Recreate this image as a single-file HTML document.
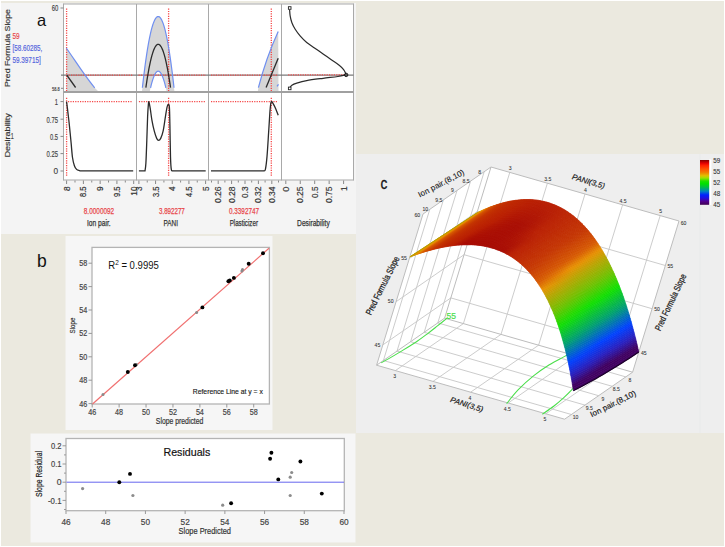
<!DOCTYPE html>
<html><head><meta charset="utf-8"><style>
html,body{margin:0;padding:0;background:#fff;width:725px;height:547px;overflow:hidden;}
svg{display:block;font-family:"Liberation Sans", sans-serif;}
</style></head><body>
<svg width="725" height="547" viewBox="0 0 725 547" font-family='"Liberation Sans", sans-serif'><rect x="0" y="0" width="725" height="547" fill="#ffffff"/>
<rect x="1" y="1" width="723" height="545" fill="#ebe9df"/>
<rect x="1" y="3" width="355" height="231" fill="#f4f4f4"/>
<rect x="356" y="154" width="368" height="279" fill="#eeeeee"/>
<rect x="65.5" y="236" width="207" height="194" fill="#f6f6f6"/>
<rect x="30.5" y="433.5" width="325" height="109" fill="#f6f6f6"/>
<rect x="63.5" y="4" width="290" height="176" fill="#ffffff"/>
<path d="M66.3,48 C74.9,60.1 84.2,75.3 94.7,87.8 L98.2,91.2 L66.5,91.2 Z" stroke="none" fill="#d6d6d6" stroke-width="1"/>
<path d="M142.01,91.20 L142.82,83.92 L143.63,77.01 L144.44,70.47 L145.25,64.31 L146.06,58.52 L146.87,53.10 L147.68,48.06 L148.49,43.39 L149.30,39.10 L150.11,35.18 L150.91,31.63 L151.72,28.45 L152.53,25.65 L153.34,23.22 L154.15,21.17 L154.96,19.49 L155.77,18.18 L156.58,17.25 L157.39,16.69 L158.20,16.50 L159.01,16.69 L159.82,17.25 L160.63,18.18 L161.44,19.49 L162.25,21.17 L163.06,23.22 L163.87,25.65 L164.68,28.45 L165.49,31.63 L166.29,35.18 L167.10,39.10 L167.91,43.39 L168.72,48.06 L169.53,53.10 L170.34,58.52 L171.15,64.31 L171.96,70.47 L172.77,77.01 L173.58,83.92 L174.39,91.20 Z M149.82,91.20 L150.24,89.25 L150.66,87.40 L151.08,85.65 L151.50,84.00 L151.92,82.45 L152.34,81.00 L152.75,79.65 L153.17,78.40 L153.59,77.25 L154.01,76.20 L154.43,75.25 L154.85,74.40 L155.27,73.65 L155.69,73.00 L156.11,72.45 L156.52,72.00 L156.94,71.65 L157.36,71.40 L157.78,71.25 L158.20,71.20 L158.62,71.25 L159.04,71.40 L159.46,71.65 L159.88,72.00 L160.29,72.45 L160.71,73.00 L161.13,73.65 L161.55,74.40 L161.97,75.25 L162.39,76.20 L162.81,77.25 L163.23,78.40 L163.65,79.65 L164.06,81.00 L164.48,82.45 L164.90,84.00 L165.32,85.65 L165.74,87.40 L166.16,89.25 L166.58,91.20 Z" stroke="none" fill="#d6d6d6" stroke-width="1" fill-rule="evenodd"/>
<path d="M257.8,91.5 L258.4,87.6 Q266,58 278.2,31.4 L278.5,91.5 Z" stroke="none" fill="#d6d6d6" stroke-width="1"/>
<line x1="63.50" y1="4.00" x2="353.50" y2="4.00" stroke="#a9a9a9" stroke-width="1"/>
<line x1="63.50" y1="3.50" x2="63.50" y2="180.50" stroke="#a9a9a9" stroke-width="1"/>
<line x1="353.50" y1="3.50" x2="353.50" y2="180.50" stroke="#a9a9a9" stroke-width="1"/>
<line x1="136.50" y1="4.00" x2="136.50" y2="180.50" stroke="#a9a9a9" stroke-width="1"/>
<line x1="208.50" y1="4.00" x2="208.50" y2="180.50" stroke="#a9a9a9" stroke-width="1"/>
<line x1="281.50" y1="4.00" x2="281.50" y2="180.50" stroke="#a9a9a9" stroke-width="1"/>
<line x1="63.50" y1="92.00" x2="353.50" y2="92.00" stroke="#a0a0a0" stroke-width="2"/>
<line x1="63.50" y1="180.00" x2="353.50" y2="180.00" stroke="#a9a9a9" stroke-width="1"/>
<line x1="61.00" y1="75.20" x2="353.50" y2="75.20" stroke="#7a7a7a" stroke-width="1.2"/>
<line x1="68.60" y1="75.20" x2="133.50" y2="75.20" stroke="#f54848" stroke-width="1.3" stroke-dasharray="1.2 1.2"/>
<line x1="138.50" y1="75.20" x2="206.00" y2="75.20" stroke="#f54848" stroke-width="1.3" stroke-dasharray="1.2 1.2"/>
<line x1="211.00" y1="75.20" x2="277.50" y2="75.20" stroke="#f54848" stroke-width="1.3" stroke-dasharray="1.2 1.2"/>
<line x1="288.20" y1="74.80" x2="344.50" y2="74.80" stroke="#f54848" stroke-width="1.3" stroke-dasharray="1.2 1.2"/>
<line x1="66.60" y1="8.50" x2="66.60" y2="91.00" stroke="#f54848" stroke-width="1.3" stroke-dasharray="1.2 1.2"/>
<line x1="168.60" y1="8.50" x2="168.60" y2="91.00" stroke="#f54848" stroke-width="1.3" stroke-dasharray="1.2 1.2"/>
<line x1="271.30" y1="8.50" x2="271.30" y2="91.00" stroke="#f54848" stroke-width="1.3" stroke-dasharray="1.2 1.2"/>
<path d="M66.3,48 C74.9,60.1 84.2,75.3 94.7,87.8" stroke="#6f8ff0" fill="none" stroke-width="1.2"/>
<line x1="66.80" y1="75.20" x2="75.60" y2="87.50" stroke="#2b2b2b" stroke-width="1.3"/>
<path d="M142.38,87.80 L143.17,80.85 L143.96,74.25 L144.76,68.01 L145.55,62.13 L146.34,56.61 L147.13,51.44 L147.92,46.62 L148.71,42.17 L149.50,38.07 L150.29,34.32 L151.08,30.94 L151.87,27.91 L152.66,25.23 L153.45,22.92 L154.25,20.96 L155.04,19.35 L155.83,18.10 L156.62,17.21 L157.41,16.68 L158.20,16.50 L158.99,16.68 L159.78,17.21 L160.57,18.10 L161.36,19.35 L162.15,20.96 L162.95,22.92 L163.74,25.23 L164.53,27.91 L165.32,30.94 L166.11,34.33 L166.90,38.07 L167.69,42.17 L168.48,46.62 L169.27,51.44 L170.06,56.61 L170.85,62.13 L171.64,68.01 L172.44,74.25 L173.23,80.85 L174.02,87.80" stroke="#6f8ff0" fill="none" stroke-width="1.2"/>
<path d="M150.57,87.80 L150.95,86.18 L151.33,84.65 L151.71,83.19 L152.09,81.82 L152.48,80.54 L152.86,79.33 L153.24,78.21 L153.62,77.18 L154.00,76.22 L154.38,75.35 L154.77,74.56 L155.15,73.86 L155.53,73.23 L155.91,72.69 L156.29,72.24 L156.67,71.86 L157.06,71.57 L157.44,71.37 L157.82,71.24 L158.20,71.20 L158.58,71.24 L158.96,71.37 L159.34,71.57 L159.73,71.86 L160.11,72.24 L160.49,72.69 L160.87,73.23 L161.25,73.86 L161.63,74.56 L162.02,75.35 L162.40,76.22 L162.78,77.18 L163.16,78.21 L163.54,79.33 L163.92,80.54 L164.31,81.82 L164.69,83.19 L165.07,84.65 L165.45,86.18 L165.83,87.80" stroke="#6f8ff0" fill="none" stroke-width="1.2"/>
<path d="M145.86,87.70 L146.48,83.47 L147.09,79.45 L147.71,75.66 L148.33,72.08 L148.94,68.71 L149.56,65.57 L150.18,62.64 L150.80,59.92 L151.41,57.43 L152.03,55.15 L152.65,53.09 L153.26,51.24 L153.88,49.62 L154.50,48.21 L155.11,47.01 L155.73,46.04 L156.35,45.28 L156.97,44.73 L157.58,44.41 L158.20,44.30 L158.82,44.41 L159.43,44.73 L160.05,45.28 L160.67,46.04 L161.29,47.01 L161.90,48.21 L162.52,49.62 L163.14,51.24 L163.75,53.09 L164.37,55.15 L164.99,57.43 L165.60,59.92 L166.22,62.64 L166.84,65.57 L167.46,68.71 L168.07,72.08 L168.69,75.66 L169.31,79.45 L169.92,83.47 L170.54,87.70" stroke="#2b2b2b" fill="none" stroke-width="1.3"/>
<path d="M258.4,87.6 Q266,58 278.2,31.4" stroke="#6f8ff0" fill="none" stroke-width="1.2"/>
<path d="M277,86.3 L278.5,84.4" stroke="#6f8ff0" fill="none" stroke-width="1.2"/>
<line x1="266.10" y1="87.60" x2="278.20" y2="58.20" stroke="#2b2b2b" stroke-width="1.3"/>
<path d="M289.60,9.60 C289.70,10.70 289.82,14.02 290.20,16.20 C290.58,18.38 291.07,20.52 291.90,22.70 C292.73,24.88 293.83,27.10 295.20,29.30 C296.57,31.50 298.18,33.70 300.10,35.90 C302.02,38.10 304.23,40.45 306.70,42.50 C309.17,44.55 312.17,46.28 314.90,48.20 C317.63,50.12 320.37,52.08 323.10,54.00 C325.83,55.92 328.57,57.78 331.30,59.70 C334.03,61.62 337.45,63.85 339.50,65.50 C341.55,67.15 342.55,68.23 343.60,69.60 C344.65,70.97 345.38,72.83 345.80,73.70 C346.22,74.57 346.05,74.62 346.10,74.80" stroke="#2b2b2b" fill="none" stroke-width="1.2"/>
<path d="M346.10,74.80 C344.73,75.08 341.73,75.92 337.90,76.50 C334.07,77.08 328.30,77.62 323.10,78.30 C317.90,78.98 311.08,79.80 306.70,80.60 C302.32,81.40 299.27,82.33 296.80,83.10 C294.33,83.87 293.10,84.38 291.90,85.20 C290.70,86.02 289.98,87.53 289.60,88.00" stroke="#2b2b2b" fill="none" stroke-width="1.2"/>
<rect x="288.4" y="6.7" width="2.6" height="2.6" fill="#fff" stroke="#222" stroke-width="0.9"/>
<rect x="288.4" y="87.1" width="2.6" height="2.6" fill="#fff" stroke="#222" stroke-width="0.9"/>
<circle cx="346.2" cy="74.9" r="1.7" fill="#555" stroke="#111" stroke-width="0.9"/>
<line x1="68.00" y1="101.60" x2="132.50" y2="101.60" stroke="#f54848" stroke-width="1.3" stroke-dasharray="1.2 1.2"/>
<line x1="138.90" y1="101.70" x2="205.50" y2="101.70" stroke="#f54848" stroke-width="1.3" stroke-dasharray="1.2 1.2"/>
<line x1="211.00" y1="101.70" x2="277.40" y2="101.70" stroke="#f54848" stroke-width="1.3" stroke-dasharray="1.2 1.2"/>
<line x1="66.60" y1="97.80" x2="66.60" y2="177.00" stroke="#f54848" stroke-width="1.3" stroke-dasharray="1.2 1.2"/>
<line x1="168.60" y1="97.80" x2="168.60" y2="177.00" stroke="#f54848" stroke-width="1.3" stroke-dasharray="1.2 1.2"/>
<line x1="271.30" y1="97.80" x2="271.30" y2="177.00" stroke="#f54848" stroke-width="1.3" stroke-dasharray="1.2 1.2"/>
<path d="M66.50,101.70 C66.65,102.77 66.93,104.28 67.40,108.10 C67.87,111.92 68.68,118.82 69.30,124.60 C69.92,130.38 70.57,137.32 71.10,142.80 C71.63,148.28 71.95,153.68 72.50,157.50 C73.05,161.32 73.72,163.72 74.40,165.70 C75.08,167.68 75.78,168.58 76.60,169.40 C77.42,170.22 78.40,170.35 79.30,170.60 C80.20,170.85 81.55,170.85 82.00,170.90 L133.2,170.9" stroke="#2b2b2b" fill="none" stroke-width="1.3"/>
<path d="M138.9,170.9 L145,170.9 C145.15,169.58 145.60,168.03 145.90,163.00 C146.20,157.97 146.52,148.38 146.80,140.70 C147.08,133.02 147.33,123.00 147.60,116.90 C147.87,110.80 148.17,106.55 148.40,104.10 C148.63,101.65 148.68,101.40 149.00,102.20 C149.32,103.00 149.82,105.92 150.30,108.90 C150.78,111.88 151.23,116.38 151.90,120.10 C152.57,123.82 153.50,128.15 154.30,131.20 C155.10,134.25 155.98,136.88 156.70,138.40 C157.42,139.92 157.93,140.30 158.60,140.30 C159.27,140.30 159.95,139.92 160.70,138.40 C161.45,136.88 162.32,134.78 163.10,131.20 C163.88,127.62 164.75,120.88 165.40,116.90 C166.05,112.92 166.52,109.37 167.00,107.30 C167.48,105.23 167.90,104.50 168.30,104.50 C168.70,104.50 169.13,103.92 169.40,107.30 C169.67,110.68 169.72,116.57 169.90,124.80 C170.08,133.03 170.27,149.27 170.50,156.70 C170.73,164.13 170.90,167.03 171.30,169.40 C171.70,171.77 172.63,170.65 172.90,170.90 L205.7,170.9" stroke="#2b2b2b" fill="none" stroke-width="1.3"/>
<path d="M211,170.9 L263.9,170.9 C264.15,170.63 264.88,171.68 265.40,169.30 C265.92,166.92 266.47,162.68 267.00,156.60 C267.53,150.52 268.12,140.22 268.60,132.80 C269.08,125.38 269.55,116.88 269.90,112.10 C270.25,107.32 270.43,105.90 270.70,104.10 C270.97,102.30 271.05,101.30 271.50,101.30 C271.95,101.30 272.68,102.83 273.40,104.10 C274.12,105.37 275.00,107.03 275.80,108.90 C276.60,110.77 277.80,114.23 278.20,115.30" stroke="#2b2b2b" fill="none" stroke-width="1.3"/>
<line x1="60.50" y1="8.00" x2="63.50" y2="8.00" stroke="#888" stroke-width="1"/>
<text x="58.40" y="11.40" font-size="8.8" fill="#444" stroke="#444" stroke-width="0.18" text-anchor="end" textLength="6.6" lengthAdjust="spacingAndGlyphs">60</text>
<line x1="61.00" y1="88.30" x2="63.50" y2="88.30" stroke="#888" stroke-width="1"/>
<text x="59.60" y="90.60" font-size="5.2" fill="#444" stroke="#444" stroke-width="0.18" text-anchor="end" textLength="7.6" lengthAdjust="spacingAndGlyphs">58.8</text>
<line x1="60.50" y1="101.60" x2="63.50" y2="101.60" stroke="#888" stroke-width="1"/>
<text x="58.00" y="105.00" font-size="9.2" fill="#444" stroke="#444" stroke-width="0.18" text-anchor="end" textLength="3.2" lengthAdjust="spacingAndGlyphs">1</text>
<line x1="60.50" y1="119.20" x2="63.50" y2="119.20" stroke="#888" stroke-width="1"/>
<text x="58.00" y="122.60" font-size="9.2" fill="#444" stroke="#444" stroke-width="0.18" text-anchor="end" textLength="11.5" lengthAdjust="spacingAndGlyphs">0.75</text>
<line x1="60.50" y1="136.40" x2="63.50" y2="136.40" stroke="#888" stroke-width="1"/>
<text x="58.00" y="139.80" font-size="9.2" fill="#444" stroke="#444" stroke-width="0.18" text-anchor="end" textLength="8" lengthAdjust="spacingAndGlyphs">0.5</text>
<line x1="60.50" y1="153.60" x2="63.50" y2="153.60" stroke="#888" stroke-width="1"/>
<text x="58.00" y="157.00" font-size="9.2" fill="#444" stroke="#444" stroke-width="0.18" text-anchor="end" textLength="11.5" lengthAdjust="spacingAndGlyphs">0.25</text>
<line x1="60.50" y1="171.00" x2="63.50" y2="171.00" stroke="#888" stroke-width="1"/>
<text x="58.00" y="174.40" font-size="9.2" fill="#444" stroke="#444" stroke-width="0.18" text-anchor="end" textLength="4.6" lengthAdjust="spacingAndGlyphs">0</text>
<text x="9.90" y="87.00" font-size="7.5" fill="#333" stroke="#333" stroke-width="0.15" textLength="78" lengthAdjust="spacingAndGlyphs" transform="rotate(-90 9.90 87.00)">Pred Formula Slope</text>
<text x="9.90" y="157.60" font-size="7.5" fill="#333" stroke="#333" stroke-width="0.15" textLength="44.4" lengthAdjust="spacingAndGlyphs" transform="rotate(-90 9.90 157.60)">Desirability</text>
<text x="37.00" y="26.00" font-size="16.5" fill="#111">a</text>
<text x="12.40" y="39.20" font-size="8.6" fill="#e8474b" stroke="#e8474b" stroke-width="0.18" textLength="7.2" lengthAdjust="spacingAndGlyphs">59</text>
<text x="12.40" y="51.20" font-size="8.6" fill="#5566dd" stroke="#5566dd" stroke-width="0.18" textLength="29.8" lengthAdjust="spacingAndGlyphs">[58.60285,</text>
<text x="12.40" y="62.80" font-size="8.6" fill="#5566dd" stroke="#5566dd" stroke-width="0.18" textLength="28.4" lengthAdjust="spacingAndGlyphs">59.39715]</text>
<text x="10.80" y="139.40" font-size="8.6" fill="#444" stroke="#444" stroke-width="0.18" textLength="3" lengthAdjust="spacingAndGlyphs">1</text>
<line x1="66.60" y1="180.50" x2="66.60" y2="184.00" stroke="#888" stroke-width="1"/>
<line x1="83.38" y1="180.50" x2="83.38" y2="184.00" stroke="#888" stroke-width="1"/>
<line x1="100.15" y1="180.50" x2="100.15" y2="184.00" stroke="#888" stroke-width="1"/>
<line x1="116.92" y1="180.50" x2="116.92" y2="184.00" stroke="#888" stroke-width="1"/>
<line x1="133.70" y1="180.50" x2="133.70" y2="184.00" stroke="#888" stroke-width="1"/>
<line x1="74.99" y1="180.50" x2="74.99" y2="182.50" stroke="#888" stroke-width="1"/>
<line x1="91.76" y1="180.50" x2="91.76" y2="182.50" stroke="#888" stroke-width="1"/>
<line x1="108.54" y1="180.50" x2="108.54" y2="182.50" stroke="#888" stroke-width="1"/>
<line x1="125.31" y1="180.50" x2="125.31" y2="182.50" stroke="#888" stroke-width="1"/>
<line x1="138.90" y1="180.50" x2="138.90" y2="184.00" stroke="#888" stroke-width="1"/>
<line x1="155.57" y1="180.50" x2="155.57" y2="184.00" stroke="#888" stroke-width="1"/>
<line x1="172.25" y1="180.50" x2="172.25" y2="184.00" stroke="#888" stroke-width="1"/>
<line x1="188.93" y1="180.50" x2="188.93" y2="184.00" stroke="#888" stroke-width="1"/>
<line x1="205.60" y1="180.50" x2="205.60" y2="184.00" stroke="#888" stroke-width="1"/>
<line x1="147.24" y1="180.50" x2="147.24" y2="182.50" stroke="#888" stroke-width="1"/>
<line x1="163.91" y1="180.50" x2="163.91" y2="182.50" stroke="#888" stroke-width="1"/>
<line x1="180.59" y1="180.50" x2="180.59" y2="182.50" stroke="#888" stroke-width="1"/>
<line x1="197.26" y1="180.50" x2="197.26" y2="182.50" stroke="#888" stroke-width="1"/>
<line x1="218.20" y1="180.50" x2="218.20" y2="184.00" stroke="#888" stroke-width="1"/>
<line x1="231.60" y1="180.50" x2="231.60" y2="184.00" stroke="#888" stroke-width="1"/>
<line x1="245.00" y1="180.50" x2="245.00" y2="184.00" stroke="#888" stroke-width="1"/>
<line x1="258.40" y1="180.50" x2="258.40" y2="184.00" stroke="#888" stroke-width="1"/>
<line x1="271.80" y1="180.50" x2="271.80" y2="184.00" stroke="#888" stroke-width="1"/>
<line x1="224.90" y1="180.50" x2="224.90" y2="182.50" stroke="#888" stroke-width="1"/>
<line x1="238.30" y1="180.50" x2="238.30" y2="182.50" stroke="#888" stroke-width="1"/>
<line x1="251.70" y1="180.50" x2="251.70" y2="182.50" stroke="#888" stroke-width="1"/>
<line x1="265.10" y1="180.50" x2="265.10" y2="182.50" stroke="#888" stroke-width="1"/>
<line x1="211.50" y1="180.50" x2="211.50" y2="182.50" stroke="#888" stroke-width="1"/>
<line x1="278.50" y1="180.50" x2="278.50" y2="182.50" stroke="#888" stroke-width="1"/>
<line x1="285.80" y1="180.50" x2="285.80" y2="184.00" stroke="#888" stroke-width="1"/>
<line x1="300.25" y1="180.50" x2="300.25" y2="184.00" stroke="#888" stroke-width="1"/>
<line x1="314.70" y1="180.50" x2="314.70" y2="184.00" stroke="#888" stroke-width="1"/>
<line x1="329.15" y1="180.50" x2="329.15" y2="184.00" stroke="#888" stroke-width="1"/>
<line x1="343.60" y1="180.50" x2="343.60" y2="184.00" stroke="#888" stroke-width="1"/>
<text x="69.60" y="186.50" font-size="8.4" fill="#333" stroke="#333" stroke-width="0.18" text-anchor="end" textLength="4.6" lengthAdjust="spacingAndGlyphs" transform="rotate(-90 69.60 186.50)">8</text>
<text x="86.38" y="186.50" font-size="8.4" fill="#333" stroke="#333" stroke-width="0.18" text-anchor="end" textLength="10.5" lengthAdjust="spacingAndGlyphs" transform="rotate(-90 86.38 186.50)">8.5</text>
<text x="103.15" y="186.50" font-size="8.4" fill="#333" stroke="#333" stroke-width="0.18" text-anchor="end" textLength="4.6" lengthAdjust="spacingAndGlyphs" transform="rotate(-90 103.15 186.50)">9</text>
<text x="119.92" y="186.50" font-size="8.4" fill="#333" stroke="#333" stroke-width="0.18" text-anchor="end" textLength="10.5" lengthAdjust="spacingAndGlyphs" transform="rotate(-90 119.92 186.50)">9.5</text>
<text x="136.70" y="186.50" font-size="8.4" fill="#333" stroke="#333" stroke-width="0.18" text-anchor="end" textLength="9.2" lengthAdjust="spacingAndGlyphs" transform="rotate(-90 136.70 186.50)">10</text>
<text x="141.90" y="186.50" font-size="8.4" fill="#333" stroke="#333" stroke-width="0.18" text-anchor="end" textLength="4.6" lengthAdjust="spacingAndGlyphs" transform="rotate(-90 141.90 186.50)">3</text>
<text x="158.57" y="186.50" font-size="8.4" fill="#333" stroke="#333" stroke-width="0.18" text-anchor="end" textLength="10.5" lengthAdjust="spacingAndGlyphs" transform="rotate(-90 158.57 186.50)">3.5</text>
<text x="175.25" y="186.50" font-size="8.4" fill="#333" stroke="#333" stroke-width="0.18" text-anchor="end" textLength="4.6" lengthAdjust="spacingAndGlyphs" transform="rotate(-90 175.25 186.50)">4</text>
<text x="191.93" y="186.50" font-size="8.4" fill="#333" stroke="#333" stroke-width="0.18" text-anchor="end" textLength="10.5" lengthAdjust="spacingAndGlyphs" transform="rotate(-90 191.93 186.50)">4.5</text>
<text x="208.60" y="186.50" font-size="8.4" fill="#333" stroke="#333" stroke-width="0.18" text-anchor="end" textLength="4.6" lengthAdjust="spacingAndGlyphs" transform="rotate(-90 208.60 186.50)">5</text>
<text x="221.20" y="186.50" font-size="8.8" fill="#333" stroke="#333" stroke-width="0.18" text-anchor="end" textLength="16.5" lengthAdjust="spacingAndGlyphs" transform="rotate(-90 221.20 186.50)">0.26</text>
<text x="234.60" y="186.50" font-size="8.8" fill="#333" stroke="#333" stroke-width="0.18" text-anchor="end" textLength="16.5" lengthAdjust="spacingAndGlyphs" transform="rotate(-90 234.60 186.50)">0.28</text>
<text x="248.00" y="186.50" font-size="8.8" fill="#333" stroke="#333" stroke-width="0.18" text-anchor="end" textLength="11.5" lengthAdjust="spacingAndGlyphs" transform="rotate(-90 248.00 186.50)">0.3</text>
<text x="261.40" y="186.50" font-size="8.8" fill="#333" stroke="#333" stroke-width="0.18" text-anchor="end" textLength="16.5" lengthAdjust="spacingAndGlyphs" transform="rotate(-90 261.40 186.50)">0.32</text>
<text x="274.80" y="186.50" font-size="8.8" fill="#333" stroke="#333" stroke-width="0.18" text-anchor="end" textLength="16.5" lengthAdjust="spacingAndGlyphs" transform="rotate(-90 274.80 186.50)">0.34</text>
<text x="288.80" y="186.50" font-size="8.8" fill="#333" stroke="#333" stroke-width="0.18" text-anchor="end" textLength="5.2" lengthAdjust="spacingAndGlyphs" transform="rotate(-90 288.80 186.50)">0</text>
<text x="303.25" y="186.50" font-size="8.8" fill="#333" stroke="#333" stroke-width="0.18" text-anchor="end" textLength="16.5" lengthAdjust="spacingAndGlyphs" transform="rotate(-90 303.25 186.50)">0.25</text>
<text x="317.70" y="186.50" font-size="8.8" fill="#333" stroke="#333" stroke-width="0.18" text-anchor="end" textLength="11.5" lengthAdjust="spacingAndGlyphs" transform="rotate(-90 317.70 186.50)">0.5</text>
<text x="332.15" y="186.50" font-size="8.8" fill="#333" stroke="#333" stroke-width="0.18" text-anchor="end" textLength="16.5" lengthAdjust="spacingAndGlyphs" transform="rotate(-90 332.15 186.50)">0.75</text>
<text x="346.60" y="186.50" font-size="8.8" fill="#333" stroke="#333" stroke-width="0.18" text-anchor="end" textLength="4.6" lengthAdjust="spacingAndGlyphs" transform="rotate(-90 346.60 186.50)">1</text>
<text x="99.00" y="214.20" font-size="9.4" fill="#e8474b" stroke="#e8474b" stroke-width="0.25" text-anchor="middle" textLength="30.4" lengthAdjust="spacingAndGlyphs">8.0000092</text>
<text x="171.90" y="214.20" font-size="9.4" fill="#e8474b" stroke="#e8474b" stroke-width="0.25" text-anchor="middle" textLength="25.8" lengthAdjust="spacingAndGlyphs">3.892277</text>
<text x="244.00" y="214.20" font-size="9.4" fill="#e8474b" stroke="#e8474b" stroke-width="0.25" text-anchor="middle" textLength="30" lengthAdjust="spacingAndGlyphs">0.3392747</text>
<text x="98.80" y="226.40" font-size="9.4" fill="#333" stroke="#333" stroke-width="0.25" text-anchor="middle" textLength="23.8" lengthAdjust="spacingAndGlyphs">Ion pair.</text>
<text x="170.70" y="226.40" font-size="9.4" fill="#333" stroke="#333" stroke-width="0.25" text-anchor="middle" textLength="14.5" lengthAdjust="spacingAndGlyphs">PANI</text>
<text x="243.80" y="226.40" font-size="9.4" fill="#333" stroke="#333" stroke-width="0.25" text-anchor="middle" textLength="28.3" lengthAdjust="spacingAndGlyphs">Plasticizer</text>
<text x="313.40" y="226.40" font-size="9.4" fill="#333" stroke="#333" stroke-width="0.25" text-anchor="middle" textLength="32.7" lengthAdjust="spacingAndGlyphs">Desirability</text>
<text x="37.00" y="267.00" font-size="17.5" fill="#111">b</text>
<rect x="92" y="247.4" width="177.4" height="156.6" fill="#ffffff"/>
<rect x="92" y="247.4" width="177.4" height="156.6" fill="none" stroke="#b4b4b4" stroke-width="1.3"/>
<line x1="88.50" y1="403.60" x2="92.00" y2="403.60" stroke="#999" stroke-width="1"/>
<text x="87.30" y="406.50" font-size="8.2" fill="#444" stroke="#444" stroke-width="0.18" text-anchor="end" textLength="8" lengthAdjust="spacingAndGlyphs">46</text>
<line x1="92.20" y1="404.00" x2="92.20" y2="407.50" stroke="#999" stroke-width="1"/>
<text x="92.20" y="414.80" font-size="8.2" fill="#444" stroke="#444" stroke-width="0.18" text-anchor="middle" textLength="8" lengthAdjust="spacingAndGlyphs">46</text>
<line x1="88.50" y1="380.20" x2="92.00" y2="380.20" stroke="#999" stroke-width="1"/>
<text x="87.30" y="383.10" font-size="8.2" fill="#444" stroke="#444" stroke-width="0.18" text-anchor="end" textLength="8" lengthAdjust="spacingAndGlyphs">48</text>
<line x1="119.12" y1="404.00" x2="119.12" y2="407.50" stroke="#999" stroke-width="1"/>
<text x="119.12" y="414.80" font-size="8.2" fill="#444" stroke="#444" stroke-width="0.18" text-anchor="middle" textLength="8" lengthAdjust="spacingAndGlyphs">48</text>
<line x1="88.50" y1="356.80" x2="92.00" y2="356.80" stroke="#999" stroke-width="1"/>
<text x="87.30" y="359.70" font-size="8.2" fill="#444" stroke="#444" stroke-width="0.18" text-anchor="end" textLength="8" lengthAdjust="spacingAndGlyphs">50</text>
<line x1="146.04" y1="404.00" x2="146.04" y2="407.50" stroke="#999" stroke-width="1"/>
<text x="146.04" y="414.80" font-size="8.2" fill="#444" stroke="#444" stroke-width="0.18" text-anchor="middle" textLength="8" lengthAdjust="spacingAndGlyphs">50</text>
<line x1="88.50" y1="333.40" x2="92.00" y2="333.40" stroke="#999" stroke-width="1"/>
<text x="87.30" y="336.30" font-size="8.2" fill="#444" stroke="#444" stroke-width="0.18" text-anchor="end" textLength="8" lengthAdjust="spacingAndGlyphs">52</text>
<line x1="172.96" y1="404.00" x2="172.96" y2="407.50" stroke="#999" stroke-width="1"/>
<text x="172.96" y="414.80" font-size="8.2" fill="#444" stroke="#444" stroke-width="0.18" text-anchor="middle" textLength="8" lengthAdjust="spacingAndGlyphs">52</text>
<line x1="88.50" y1="310.00" x2="92.00" y2="310.00" stroke="#999" stroke-width="1"/>
<text x="87.30" y="312.90" font-size="8.2" fill="#444" stroke="#444" stroke-width="0.18" text-anchor="end" textLength="8" lengthAdjust="spacingAndGlyphs">54</text>
<line x1="199.88" y1="404.00" x2="199.88" y2="407.50" stroke="#999" stroke-width="1"/>
<text x="199.88" y="414.80" font-size="8.2" fill="#444" stroke="#444" stroke-width="0.18" text-anchor="middle" textLength="8" lengthAdjust="spacingAndGlyphs">54</text>
<line x1="88.50" y1="286.60" x2="92.00" y2="286.60" stroke="#999" stroke-width="1"/>
<text x="87.30" y="289.50" font-size="8.2" fill="#444" stroke="#444" stroke-width="0.18" text-anchor="end" textLength="8" lengthAdjust="spacingAndGlyphs">56</text>
<line x1="226.80" y1="404.00" x2="226.80" y2="407.50" stroke="#999" stroke-width="1"/>
<text x="226.80" y="414.80" font-size="8.2" fill="#444" stroke="#444" stroke-width="0.18" text-anchor="middle" textLength="8" lengthAdjust="spacingAndGlyphs">56</text>
<line x1="88.50" y1="263.20" x2="92.00" y2="263.20" stroke="#999" stroke-width="1"/>
<text x="87.30" y="266.10" font-size="8.2" fill="#444" stroke="#444" stroke-width="0.18" text-anchor="end" textLength="8" lengthAdjust="spacingAndGlyphs">58</text>
<line x1="253.72" y1="404.00" x2="253.72" y2="407.50" stroke="#999" stroke-width="1"/>
<text x="253.72" y="414.80" font-size="8.2" fill="#444" stroke="#444" stroke-width="0.18" text-anchor="middle" textLength="8" lengthAdjust="spacingAndGlyphs">58</text>
<line x1="92.50" y1="404.00" x2="269.00" y2="248.20" stroke="#f07070" stroke-width="1.2"/>
<circle cx="103.0" cy="394.4" r="1.5" fill="#8a8a8a"/>
<circle cx="136.6" cy="364.6" r="1.5" fill="#8a8a8a"/>
<circle cx="196.6" cy="312.4" r="1.5" fill="#8a8a8a"/>
<circle cx="241.9" cy="270.9" r="1.5" fill="#8a8a8a"/>
<circle cx="242.5" cy="269.6" r="1.5" fill="#8a8a8a"/>
<circle cx="127.8" cy="372.0" r="1.95" fill="#000"/>
<circle cx="135.0" cy="365.3" r="1.95" fill="#000"/>
<circle cx="202.4" cy="307.4" r="1.95" fill="#000"/>
<circle cx="228.4" cy="281.3" r="1.95" fill="#000"/>
<circle cx="229.8" cy="280.4" r="1.95" fill="#000"/>
<circle cx="233.9" cy="277.9" r="1.95" fill="#000"/>
<circle cx="248.7" cy="263.8" r="1.95" fill="#000"/>
<circle cx="263.0" cy="253.2" r="1.95" fill="#000"/>
<text x="108.3" y="268.6" font-size="11.2" fill="#111" textLength="50.5" lengthAdjust="spacingAndGlyphs">R<tspan dy="-4" font-size="7.5">2</tspan><tspan dy="4"> = 0.9995</tspan></text>
<text x="227.80" y="394.20" font-size="7.6" fill="#222" stroke="#222" stroke-width="0.18" text-anchor="middle" textLength="70" lengthAdjust="spacingAndGlyphs">Reference Line at y = x</text>
<text x="179.60" y="423.50" font-size="8.2" fill="#333" stroke="#333" stroke-width="0.18" text-anchor="middle" textLength="47.5" lengthAdjust="spacingAndGlyphs">Slope predicted</text>
<text x="74.60" y="333.40" font-size="8.0" fill="#333" stroke="#333" stroke-width="0.18" textLength="15.7" lengthAdjust="spacingAndGlyphs" transform="rotate(-90 74.60 333.40)">Slope</text>
<rect x="66" y="438.5" width="278.3" height="72.2" fill="#ffffff"/>
<rect x="66" y="438.5" width="278.3" height="72.2" fill="none" stroke="#b4b4b4" stroke-width="1.3"/>
<line x1="62.50" y1="445.80" x2="66.00" y2="445.80" stroke="#999" stroke-width="1"/>
<text x="61.50" y="448.90" font-size="8.6" fill="#444" stroke="#444" stroke-width="0.18" text-anchor="end" textLength="10.5" lengthAdjust="spacingAndGlyphs">0.2</text>
<line x1="62.50" y1="464.00" x2="66.00" y2="464.00" stroke="#999" stroke-width="1"/>
<text x="61.50" y="467.10" font-size="8.6" fill="#444" stroke="#444" stroke-width="0.18" text-anchor="end" textLength="10.5" lengthAdjust="spacingAndGlyphs">0.1</text>
<line x1="62.50" y1="482.20" x2="66.00" y2="482.20" stroke="#999" stroke-width="1"/>
<text x="61.50" y="485.30" font-size="8.6" fill="#444" stroke="#444" stroke-width="0.18" text-anchor="end" textLength="4.8" lengthAdjust="spacingAndGlyphs">0</text>
<line x1="62.50" y1="500.40" x2="66.00" y2="500.40" stroke="#999" stroke-width="1"/>
<text x="61.50" y="503.50" font-size="8.6" fill="#444" stroke="#444" stroke-width="0.18" text-anchor="end" textLength="13.5" lengthAdjust="spacingAndGlyphs">-0.1</text>
<line x1="64.00" y1="454.90" x2="66.00" y2="454.90" stroke="#999" stroke-width="1"/>
<line x1="64.00" y1="473.10" x2="66.00" y2="473.10" stroke="#999" stroke-width="1"/>
<line x1="64.00" y1="491.30" x2="66.00" y2="491.30" stroke="#999" stroke-width="1"/>
<line x1="64.00" y1="509.50" x2="66.00" y2="509.50" stroke="#999" stroke-width="1"/>
<line x1="66.00" y1="510.70" x2="66.00" y2="514.00" stroke="#999" stroke-width="1"/>
<text x="66.00" y="524.80" font-size="8.6" fill="#444" stroke="#444" stroke-width="0.18" text-anchor="middle" textLength="9.2" lengthAdjust="spacingAndGlyphs">46</text>
<line x1="105.71" y1="510.70" x2="105.71" y2="514.00" stroke="#999" stroke-width="1"/>
<text x="105.71" y="524.80" font-size="8.6" fill="#444" stroke="#444" stroke-width="0.18" text-anchor="middle" textLength="9.2" lengthAdjust="spacingAndGlyphs">48</text>
<line x1="145.43" y1="510.70" x2="145.43" y2="514.00" stroke="#999" stroke-width="1"/>
<text x="145.43" y="524.80" font-size="8.6" fill="#444" stroke="#444" stroke-width="0.18" text-anchor="middle" textLength="9.2" lengthAdjust="spacingAndGlyphs">50</text>
<line x1="185.14" y1="510.70" x2="185.14" y2="514.00" stroke="#999" stroke-width="1"/>
<text x="185.14" y="524.80" font-size="8.6" fill="#444" stroke="#444" stroke-width="0.18" text-anchor="middle" textLength="9.2" lengthAdjust="spacingAndGlyphs">52</text>
<line x1="224.86" y1="510.70" x2="224.86" y2="514.00" stroke="#999" stroke-width="1"/>
<text x="224.86" y="524.80" font-size="8.6" fill="#444" stroke="#444" stroke-width="0.18" text-anchor="middle" textLength="9.2" lengthAdjust="spacingAndGlyphs">54</text>
<line x1="264.57" y1="510.70" x2="264.57" y2="514.00" stroke="#999" stroke-width="1"/>
<text x="264.57" y="524.80" font-size="8.6" fill="#444" stroke="#444" stroke-width="0.18" text-anchor="middle" textLength="9.2" lengthAdjust="spacingAndGlyphs">56</text>
<line x1="304.28" y1="510.70" x2="304.28" y2="514.00" stroke="#999" stroke-width="1"/>
<text x="304.28" y="524.80" font-size="8.6" fill="#444" stroke="#444" stroke-width="0.18" text-anchor="middle" textLength="9.2" lengthAdjust="spacingAndGlyphs">58</text>
<line x1="344.00" y1="510.70" x2="344.00" y2="514.00" stroke="#999" stroke-width="1"/>
<text x="344.00" y="524.80" font-size="8.6" fill="#444" stroke="#444" stroke-width="0.18" text-anchor="middle" textLength="9.2" lengthAdjust="spacingAndGlyphs">60</text>
<line x1="66.50" y1="482.20" x2="344.00" y2="482.20" stroke="#6666ee" stroke-width="1.0"/>
<circle cx="82.6" cy="488.6" r="1.6" fill="#8c8c8c"/>
<circle cx="132.9" cy="495.5" r="1.6" fill="#8c8c8c"/>
<circle cx="222.7" cy="505.2" r="1.6" fill="#8c8c8c"/>
<circle cx="291.7" cy="472.5" r="1.6" fill="#8c8c8c"/>
<circle cx="290.2" cy="477.2" r="1.6" fill="#8c8c8c"/>
<circle cx="290.2" cy="495.5" r="1.6" fill="#8c8c8c"/>
<circle cx="119.3" cy="482.2" r="1.95" fill="#000"/>
<circle cx="130.0" cy="473.9" r="1.95" fill="#000"/>
<circle cx="231.1" cy="503.2" r="1.95" fill="#000"/>
<circle cx="270.1" cy="458.8" r="1.95" fill="#000"/>
<circle cx="271.4" cy="452.8" r="1.95" fill="#000"/>
<circle cx="278.3" cy="479.4" r="1.95" fill="#000"/>
<circle cx="300.4" cy="461.5" r="1.95" fill="#000"/>
<circle cx="321.8" cy="493.6" r="1.95" fill="#000"/>
<text x="163.50" y="455.60" font-size="11.2" fill="#111" stroke="#111" stroke-width="0.18" textLength="46.8" lengthAdjust="spacingAndGlyphs">Residuals</text>
<text x="204.80" y="534.00" font-size="8.6" fill="#333" stroke="#333" stroke-width="0.18" text-anchor="middle" textLength="52.4" lengthAdjust="spacingAndGlyphs">Slope Predicted</text>
<text x="42.40" y="497.00" font-size="8.2" fill="#222" stroke="#222" stroke-width="0.18" textLength="46" lengthAdjust="spacingAndGlyphs" transform="rotate(-90 42.40 497.00)">Slope Residual</text>
<line x1="700.00" y1="154.00" x2="700.00" y2="433.00" stroke="#e8eaea" stroke-width="1"/>
<polygon points="444.60,318.20 376.60,365.20 423.00,214.00 491.00,167.00" fill="#ffffff"/>
<polygon points="444.60,318.20 632.60,372.20 679.00,221.00 491.00,167.00" fill="#ffffff"/>
<polygon points="444.60,318.20 632.60,372.20 564.60,419.20 376.60,365.20" fill="#ffffff"/>
<line x1="437.80" y1="322.90" x2="484.20" y2="171.70" stroke="#c6c6c6" stroke-width="0.9"/>
<line x1="424.20" y1="332.30" x2="470.60" y2="181.10" stroke="#c6c6c6" stroke-width="0.9"/>
<line x1="410.60" y1="341.70" x2="457.00" y2="190.50" stroke="#c6c6c6" stroke-width="0.9"/>
<line x1="397.00" y1="351.10" x2="443.40" y2="199.90" stroke="#c6c6c6" stroke-width="0.9"/>
<line x1="383.40" y1="360.50" x2="429.80" y2="209.30" stroke="#c6c6c6" stroke-width="0.9"/>
<line x1="450.83" y1="297.90" x2="382.83" y2="344.90" stroke="#c6c6c6" stroke-width="0.9"/>
<line x1="464.09" y1="254.70" x2="396.09" y2="301.70" stroke="#c6c6c6" stroke-width="0.9"/>
<line x1="477.35" y1="211.50" x2="409.35" y2="258.50" stroke="#c6c6c6" stroke-width="0.9"/>
<line x1="463.40" y1="323.60" x2="509.80" y2="172.40" stroke="#c6c6c6" stroke-width="0.9"/>
<line x1="501.00" y1="334.40" x2="547.40" y2="183.20" stroke="#c6c6c6" stroke-width="0.9"/>
<line x1="538.60" y1="345.20" x2="585.00" y2="194.00" stroke="#c6c6c6" stroke-width="0.9"/>
<line x1="576.20" y1="356.00" x2="622.60" y2="204.80" stroke="#c6c6c6" stroke-width="0.9"/>
<line x1="613.80" y1="366.80" x2="660.20" y2="215.60" stroke="#c6c6c6" stroke-width="0.9"/>
<line x1="450.83" y1="297.90" x2="638.83" y2="351.90" stroke="#c6c6c6" stroke-width="0.9"/>
<line x1="464.09" y1="254.70" x2="652.09" y2="308.70" stroke="#c6c6c6" stroke-width="0.9"/>
<line x1="477.35" y1="211.50" x2="665.35" y2="265.50" stroke="#c6c6c6" stroke-width="0.9"/>
<line x1="463.40" y1="323.60" x2="395.40" y2="370.60" stroke="#c6c6c6" stroke-width="0.9"/>
<line x1="501.00" y1="334.40" x2="433.00" y2="381.40" stroke="#c6c6c6" stroke-width="0.9"/>
<line x1="538.60" y1="345.20" x2="470.60" y2="392.20" stroke="#c6c6c6" stroke-width="0.9"/>
<line x1="576.20" y1="356.00" x2="508.20" y2="403.00" stroke="#c6c6c6" stroke-width="0.9"/>
<line x1="613.80" y1="366.80" x2="545.80" y2="413.80" stroke="#c6c6c6" stroke-width="0.9"/>
<line x1="437.80" y1="322.90" x2="625.80" y2="376.90" stroke="#c6c6c6" stroke-width="0.9"/>
<line x1="424.20" y1="332.30" x2="612.20" y2="386.30" stroke="#c6c6c6" stroke-width="0.9"/>
<line x1="410.60" y1="341.70" x2="598.60" y2="395.70" stroke="#c6c6c6" stroke-width="0.9"/>
<line x1="397.00" y1="351.10" x2="585.00" y2="405.10" stroke="#c6c6c6" stroke-width="0.9"/>
<line x1="383.40" y1="360.50" x2="571.40" y2="414.50" stroke="#c6c6c6" stroke-width="0.9"/>
<line x1="444.60" y1="318.20" x2="376.60" y2="365.20" stroke="#bdbdbd" stroke-width="1"/>
<line x1="376.60" y1="365.20" x2="423.00" y2="214.00" stroke="#bdbdbd" stroke-width="1"/>
<line x1="423.00" y1="214.00" x2="491.00" y2="167.00" stroke="#bdbdbd" stroke-width="1"/>
<line x1="444.60" y1="318.20" x2="491.00" y2="167.00" stroke="#bdbdbd" stroke-width="1"/>
<line x1="444.60" y1="318.20" x2="632.60" y2="372.20" stroke="#bdbdbd" stroke-width="1"/>
<line x1="632.60" y1="372.20" x2="679.00" y2="221.00" stroke="#bdbdbd" stroke-width="1"/>
<line x1="679.00" y1="221.00" x2="491.00" y2="167.00" stroke="#bdbdbd" stroke-width="1"/>
<line x1="632.60" y1="372.20" x2="564.60" y2="419.20" stroke="#bdbdbd" stroke-width="1"/>
<line x1="564.60" y1="419.20" x2="376.60" y2="365.20" stroke="#bdbdbd" stroke-width="1"/>
<path d="M381.20,362.80 C382.47,362.10 385.70,360.38 388.80,358.60 C391.90,356.82 395.43,354.73 399.80,352.10 C404.17,349.47 410.40,345.85 415.00,342.80 C419.60,339.75 423.72,336.57 427.40,333.80 C431.08,331.03 433.77,328.85 437.10,326.20 C440.43,323.55 445.68,319.28 447.40,317.90" stroke="#4ade4a" fill="none" stroke-width="1.05"/>
<path d="M506.60,403.70 C508.55,401.37 513.77,394.37 518.30,389.70 C522.83,385.03 528.63,379.85 533.80,375.70 C538.97,371.55 544.38,367.90 549.30,364.80 C554.22,361.70 560.02,358.90 563.30,357.10 C566.58,355.30 568.05,354.52 569.00,354.00" stroke="#4ade4a" fill="none" stroke-width="1.05"/>
<path d="M542.40,414.20 C544.33,412.83 550.52,408.67 554.00,406.00 C557.48,403.33 560.32,400.92 563.30,398.20 C566.28,395.48 569.12,392.73 571.90,389.70 C574.68,386.67 578.65,381.62 580.00,380.00" stroke="#4ade4a" fill="none" stroke-width="1.05"/>
<text x="446.50" y="319.30" font-size="9" fill="#4ade4a" stroke="#4ade4a" stroke-width="0.18" textLength="9.5" lengthAdjust="spacingAndGlyphs">55</text>
<defs><linearGradient id="s0" gradientUnits="userSpaceOnUse" x1="477.4" y1="212.7" x2="410.4" y2="256.7"><stop offset="0" stop-color="#bda200"/><stop offset=".5" stop-color="#bfa100"/><stop offset="1" stop-color="#c0a100"/></linearGradient><linearGradient id="s1" gradientUnits="userSpaceOnUse" x1="478.5" y1="212.2" x2="411.4" y2="256.3"><stop offset="0" stop-color="#c39f00"/><stop offset=".5" stop-color="#c49f00"/><stop offset="1" stop-color="#c69e00"/></linearGradient><linearGradient id="s2" gradientUnits="userSpaceOnUse" x1="479.6" y1="211.7" x2="412.5" y2="255.9"><stop offset="0" stop-color="#ca9c00"/><stop offset=".5" stop-color="#cb9c00"/><stop offset="1" stop-color="#cb9c00"/></linearGradient><linearGradient id="s3" gradientUnits="userSpaceOnUse" x1="480.7" y1="211.1" x2="413.5" y2="255.6"><stop offset="0" stop-color="#d19a00"/><stop offset=".5" stop-color="#d19a00"/><stop offset="1" stop-color="#d19a00"/></linearGradient><linearGradient id="s4" gradientUnits="userSpaceOnUse" x1="481.8" y1="210.6" x2="414.5" y2="255.2"><stop offset="0" stop-color="#d79700"/><stop offset=".5" stop-color="#d79700"/><stop offset="1" stop-color="#d79700"/></linearGradient><linearGradient id="s5" gradientUnits="userSpaceOnUse" x1="482.9" y1="210.2" x2="415.6" y2="254.8"><stop offset="0" stop-color="#de9400"/><stop offset=".5" stop-color="#de9400"/><stop offset="1" stop-color="#de9400"/></linearGradient><linearGradient id="s6" gradientUnits="userSpaceOnUse" x1="483.9" y1="209.7" x2="416.6" y2="254.5"><stop offset="0" stop-color="#e59100"/><stop offset=".5" stop-color="#e49200"/><stop offset="1" stop-color="#e49200"/></linearGradient><linearGradient id="s7" gradientUnits="userSpaceOnUse" x1="485.0" y1="209.2" x2="417.7" y2="254.1"><stop offset="0" stop-color="#e68a00"/><stop offset=".5" stop-color="#e78c00"/><stop offset="1" stop-color="#e78c00"/></linearGradient><linearGradient id="s8" gradientUnits="userSpaceOnUse" x1="486.1" y1="208.8" x2="418.7" y2="253.8"><stop offset="0" stop-color="#e38100"/><stop offset=".5" stop-color="#e48200"/><stop offset="1" stop-color="#e48300"/></linearGradient><linearGradient id="s9" gradientUnits="userSpaceOnUse" x1="487.2" y1="208.3" x2="419.7" y2="253.4"><stop offset="0" stop-color="#e07700"/><stop offset=".5" stop-color="#e17900"/><stop offset="1" stop-color="#e17900"/></linearGradient><linearGradient id="s10" gradientUnits="userSpaceOnUse" x1="488.2" y1="207.9" x2="420.8" y2="253.1"><stop offset="0" stop-color="#dd6e00"/><stop offset=".5" stop-color="#dd6f00"/><stop offset="1" stop-color="#dd6f00"/></linearGradient><linearGradient id="s11" gradientUnits="userSpaceOnUse" x1="489.3" y1="207.5" x2="421.8" y2="252.7"><stop offset="0" stop-color="#da6400"/><stop offset=".5" stop-color="#da6600"/><stop offset="1" stop-color="#da6500"/></linearGradient><linearGradient id="s12" gradientUnits="userSpaceOnUse" x1="490.3" y1="207.0" x2="422.8" y2="252.4"><stop offset="0" stop-color="#d75b00"/><stop offset=".5" stop-color="#d75c00"/><stop offset="1" stop-color="#d75b00"/></linearGradient><linearGradient id="s13" gradientUnits="userSpaceOnUse" x1="491.4" y1="206.6" x2="423.9" y2="252.1"><stop offset="0" stop-color="#d55600"/><stop offset=".5" stop-color="#d55600"/><stop offset="1" stop-color="#d55600"/></linearGradient><linearGradient id="s14" gradientUnits="userSpaceOnUse" x1="492.4" y1="206.3" x2="424.9" y2="251.8"><stop offset="0" stop-color="#d35200"/><stop offset=".5" stop-color="#d35200"/><stop offset="1" stop-color="#d35200"/></linearGradient><linearGradient id="s15" gradientUnits="userSpaceOnUse" x1="493.5" y1="205.9" x2="425.9" y2="251.5"><stop offset="0" stop-color="#d14f00"/><stop offset=".5" stop-color="#d24f00"/><stop offset="1" stop-color="#d14e00"/></linearGradient><linearGradient id="s16" gradientUnits="userSpaceOnUse" x1="494.5" y1="205.5" x2="426.9" y2="251.2"><stop offset="0" stop-color="#d04c00"/><stop offset=".5" stop-color="#d04c00"/><stop offset="1" stop-color="#cf4b00"/></linearGradient><linearGradient id="s17" gradientUnits="userSpaceOnUse" x1="495.6" y1="205.2" x2="428.0" y2="250.9"><stop offset="0" stop-color="#ce4800"/><stop offset=".5" stop-color="#ce4800"/><stop offset="1" stop-color="#ce4700"/></linearGradient><linearGradient id="s18" gradientUnits="userSpaceOnUse" x1="496.6" y1="204.8" x2="429.0" y2="250.6"><stop offset="0" stop-color="#cd4500"/><stop offset=".5" stop-color="#cc4500"/><stop offset="1" stop-color="#cc4300"/></linearGradient><linearGradient id="s19" gradientUnits="userSpaceOnUse" x1="497.6" y1="204.5" x2="430.0" y2="250.3"><stop offset="0" stop-color="#cb4200"/><stop offset=".5" stop-color="#cb4100"/><stop offset="1" stop-color="#ca4000"/></linearGradient><linearGradient id="s20" gradientUnits="userSpaceOnUse" x1="498.7" y1="204.1" x2="431.0" y2="250.0"><stop offset="0" stop-color="#c93f00"/><stop offset=".5" stop-color="#c93e00"/><stop offset="1" stop-color="#c83c00"/></linearGradient><linearGradient id="s21" gradientUnits="userSpaceOnUse" x1="499.7" y1="203.8" x2="432.0" y2="249.7"><stop offset="0" stop-color="#c83c00"/><stop offset=".5" stop-color="#c73b00"/><stop offset="1" stop-color="#c63900"/></linearGradient><linearGradient id="s22" gradientUnits="userSpaceOnUse" x1="500.7" y1="203.5" x2="433.0" y2="249.5"><stop offset="0" stop-color="#c63900"/><stop offset=".5" stop-color="#c63800"/><stop offset="1" stop-color="#c53500"/></linearGradient><linearGradient id="s23" gradientUnits="userSpaceOnUse" x1="501.7" y1="203.2" x2="434.0" y2="249.2"><stop offset="0" stop-color="#c53600"/><stop offset=".5" stop-color="#c43400"/><stop offset="1" stop-color="#c33300"/></linearGradient><linearGradient id="s24" gradientUnits="userSpaceOnUse" x1="502.7" y1="203.0" x2="435.1" y2="249.0"><stop offset="0" stop-color="#c43400"/><stop offset=".5" stop-color="#c33300"/><stop offset="1" stop-color="#c33100"/></linearGradient><linearGradient id="s25" gradientUnits="userSpaceOnUse" x1="503.8" y1="202.7" x2="436.1" y2="248.7"><stop offset="0" stop-color="#c33200"/><stop offset=".5" stop-color="#c33100"/><stop offset="1" stop-color="#c23000"/></linearGradient><linearGradient id="s26" gradientUnits="userSpaceOnUse" x1="504.8" y1="202.4" x2="437.1" y2="248.5"><stop offset="0" stop-color="#c33100"/><stop offset=".5" stop-color="#c23000"/><stop offset="1" stop-color="#c12e00"/></linearGradient><linearGradient id="s27" gradientUnits="userSpaceOnUse" x1="505.8" y1="202.2" x2="438.1" y2="248.2"><stop offset="0" stop-color="#c23000"/><stop offset=".5" stop-color="#c12f00"/><stop offset="1" stop-color="#c02d00"/></linearGradient><linearGradient id="s28" gradientUnits="userSpaceOnUse" x1="506.8" y1="202.0" x2="439.1" y2="248.0"><stop offset="0" stop-color="#c12f00"/><stop offset=".5" stop-color="#c12d00"/><stop offset="1" stop-color="#c02b00"/></linearGradient><linearGradient id="s29" gradientUnits="userSpaceOnUse" x1="507.8" y1="201.7" x2="440.1" y2="247.8"><stop offset="0" stop-color="#c12e00"/><stop offset=".5" stop-color="#c02c00"/><stop offset="1" stop-color="#bf2a00"/></linearGradient><linearGradient id="s30" gradientUnits="userSpaceOnUse" x1="508.8" y1="201.5" x2="441.1" y2="247.6"><stop offset="0" stop-color="#c02d00"/><stop offset=".5" stop-color="#c02b00"/><stop offset="1" stop-color="#be2900"/></linearGradient><linearGradient id="s31" gradientUnits="userSpaceOnUse" x1="509.8" y1="201.3" x2="442.0" y2="247.4"><stop offset="0" stop-color="#c02c00"/><stop offset=".5" stop-color="#bf2a00"/><stop offset="1" stop-color="#be2700"/></linearGradient><linearGradient id="s32" gradientUnits="userSpaceOnUse" x1="510.7" y1="201.1" x2="443.0" y2="247.2"><stop offset="0" stop-color="#bf2b00"/><stop offset=".5" stop-color="#be2900"/><stop offset="1" stop-color="#bd2600"/></linearGradient><linearGradient id="s33" gradientUnits="userSpaceOnUse" x1="511.7" y1="201.0" x2="444.0" y2="247.0"><stop offset="0" stop-color="#bf2a00"/><stop offset=".5" stop-color="#be2800"/><stop offset="1" stop-color="#bc2500"/></linearGradient><linearGradient id="s34" gradientUnits="userSpaceOnUse" x1="512.7" y1="200.8" x2="445.0" y2="246.8"><stop offset="0" stop-color="#bf2900"/><stop offset=".5" stop-color="#bd2700"/><stop offset="1" stop-color="#bc2400"/></linearGradient><linearGradient id="s35" gradientUnits="userSpaceOnUse" x1="513.7" y1="200.6" x2="446.0" y2="246.6"><stop offset="0" stop-color="#be2900"/><stop offset=".5" stop-color="#bd2600"/><stop offset="1" stop-color="#bb2300"/></linearGradient><linearGradient id="s36" gradientUnits="userSpaceOnUse" x1="514.7" y1="200.5" x2="447.0" y2="246.5"><stop offset="0" stop-color="#be2800"/><stop offset=".5" stop-color="#bd2500"/><stop offset="1" stop-color="#bb2200"/></linearGradient><linearGradient id="s37" gradientUnits="userSpaceOnUse" x1="515.6" y1="200.3" x2="448.0" y2="246.3"><stop offset="0" stop-color="#be2700"/><stop offset=".5" stop-color="#bc2400"/><stop offset="1" stop-color="#ba2100"/></linearGradient><linearGradient id="s38" gradientUnits="userSpaceOnUse" x1="516.6" y1="200.2" x2="448.9" y2="246.2"><stop offset="0" stop-color="#bd2700"/><stop offset=".5" stop-color="#bc2400"/><stop offset="1" stop-color="#ba2000"/></linearGradient><linearGradient id="s39" gradientUnits="userSpaceOnUse" x1="517.6" y1="200.1" x2="449.9" y2="246.0"><stop offset="0" stop-color="#bd2600"/><stop offset=".5" stop-color="#bb2300"/><stop offset="1" stop-color="#b91f00"/></linearGradient><linearGradient id="s40" gradientUnits="userSpaceOnUse" x1="518.5" y1="200.0" x2="450.9" y2="245.9"><stop offset="0" stop-color="#bd2500"/><stop offset=".5" stop-color="#bb2200"/><stop offset="1" stop-color="#b91e00"/></linearGradient><linearGradient id="s41" gradientUnits="userSpaceOnUse" x1="519.5" y1="199.9" x2="451.9" y2="245.7"><stop offset="0" stop-color="#bc2500"/><stop offset=".5" stop-color="#bb2100"/><stop offset="1" stop-color="#b81d00"/></linearGradient><linearGradient id="s42" gradientUnits="userSpaceOnUse" x1="520.4" y1="199.8" x2="452.8" y2="245.6"><stop offset="0" stop-color="#bc2400"/><stop offset=".5" stop-color="#ba2100"/><stop offset="1" stop-color="#b81c00"/></linearGradient><linearGradient id="s43" gradientUnits="userSpaceOnUse" x1="521.4" y1="199.8" x2="453.8" y2="245.5"><stop offset="0" stop-color="#bc2400"/><stop offset=".5" stop-color="#ba2000"/><stop offset="1" stop-color="#b61a00"/></linearGradient><linearGradient id="s44" gradientUnits="userSpaceOnUse" x1="522.3" y1="199.7" x2="454.7" y2="245.4"><stop offset="0" stop-color="#bc2300"/><stop offset=".5" stop-color="#ba1f00"/><stop offset="1" stop-color="#b41800"/></linearGradient><linearGradient id="s45" gradientUnits="userSpaceOnUse" x1="523.3" y1="199.7" x2="455.7" y2="245.3"><stop offset="0" stop-color="#bb2300"/><stop offset=".5" stop-color="#b91f00"/><stop offset="1" stop-color="#b21600"/></linearGradient><linearGradient id="s46" gradientUnits="userSpaceOnUse" x1="524.2" y1="199.6" x2="456.7" y2="245.2"><stop offset="0" stop-color="#bb2200"/><stop offset=".5" stop-color="#b91e00"/><stop offset="1" stop-color="#b01400"/></linearGradient><linearGradient id="s47" gradientUnits="userSpaceOnUse" x1="525.2" y1="199.6" x2="457.6" y2="245.1"><stop offset="0" stop-color="#bb2200"/><stop offset=".5" stop-color="#b91d00"/><stop offset="1" stop-color="#af1200"/></linearGradient><linearGradient id="s48" gradientUnits="userSpaceOnUse" x1="526.1" y1="199.6" x2="458.6" y2="245.0"><stop offset="0" stop-color="#bb2100"/><stop offset=".5" stop-color="#b81d00"/><stop offset="1" stop-color="#ad1000"/></linearGradient><linearGradient id="s49" gradientUnits="userSpaceOnUse" x1="527.0" y1="199.6" x2="459.5" y2="244.9"><stop offset="0" stop-color="#ba2100"/><stop offset=".5" stop-color="#b81c00"/><stop offset="1" stop-color="#ab0e00"/></linearGradient><linearGradient id="s50" gradientUnits="userSpaceOnUse" x1="528.0" y1="199.6" x2="460.5" y2="244.9"><stop offset="0" stop-color="#ba2000"/><stop offset=".5" stop-color="#b81c00"/><stop offset="1" stop-color="#aa0c00"/></linearGradient><linearGradient id="s51" gradientUnits="userSpaceOnUse" x1="528.9" y1="199.6" x2="461.4" y2="244.8"><stop offset="0" stop-color="#ba2000"/><stop offset=".5" stop-color="#b61a00"/><stop offset="1" stop-color="#a80b00"/></linearGradient><linearGradient id="s52" gradientUnits="userSpaceOnUse" x1="529.8" y1="199.6" x2="462.4" y2="244.8"><stop offset="0" stop-color="#ba2000"/><stop offset=".5" stop-color="#b51900"/><stop offset="1" stop-color="#a70900"/></linearGradient><linearGradient id="s53" gradientUnits="userSpaceOnUse" x1="530.7" y1="199.7" x2="463.3" y2="244.7"><stop offset="0" stop-color="#ba1f00"/><stop offset=".5" stop-color="#b41800"/><stop offset="1" stop-color="#a60800"/></linearGradient><linearGradient id="s54" gradientUnits="userSpaceOnUse" x1="531.6" y1="199.7" x2="464.3" y2="244.7"><stop offset="0" stop-color="#b91f00"/><stop offset=".5" stop-color="#b31700"/><stop offset="1" stop-color="#a60800"/></linearGradient><linearGradient id="s55" gradientUnits="userSpaceOnUse" x1="532.6" y1="199.8" x2="465.2" y2="244.7"><stop offset="0" stop-color="#b91e00"/><stop offset=".5" stop-color="#b21600"/><stop offset="1" stop-color="#a60800"/></linearGradient><linearGradient id="s56" gradientUnits="userSpaceOnUse" x1="533.5" y1="199.8" x2="466.1" y2="244.7"><stop offset="0" stop-color="#b91e00"/><stop offset=".5" stop-color="#b21500"/><stop offset="1" stop-color="#a60800"/></linearGradient><linearGradient id="s57" gradientUnits="userSpaceOnUse" x1="534.4" y1="199.9" x2="467.1" y2="244.7"><stop offset="0" stop-color="#b91e00"/><stop offset=".5" stop-color="#b11400"/><stop offset="1" stop-color="#a60800"/></linearGradient><linearGradient id="s58" gradientUnits="userSpaceOnUse" x1="535.3" y1="200.0" x2="468.0" y2="244.7"><stop offset="0" stop-color="#b91e00"/><stop offset=".5" stop-color="#b01300"/><stop offset="1" stop-color="#a60800"/></linearGradient><linearGradient id="s59" gradientUnits="userSpaceOnUse" x1="536.2" y1="200.1" x2="468.9" y2="244.7"><stop offset="0" stop-color="#b91d00"/><stop offset=".5" stop-color="#af1200"/><stop offset="1" stop-color="#a60800"/></linearGradient><linearGradient id="s60" gradientUnits="userSpaceOnUse" x1="537.1" y1="200.2" x2="469.8" y2="244.7"><stop offset="0" stop-color="#b91d00"/><stop offset=".5" stop-color="#ae1100"/><stop offset="1" stop-color="#a60800"/></linearGradient><linearGradient id="s61" gradientUnits="userSpaceOnUse" x1="538.0" y1="200.4" x2="470.8" y2="244.7"><stop offset="0" stop-color="#b81d00"/><stop offset=".5" stop-color="#ae1100"/><stop offset="1" stop-color="#a60800"/></linearGradient><linearGradient id="s62" gradientUnits="userSpaceOnUse" x1="538.8" y1="200.5" x2="471.7" y2="244.8"><stop offset="0" stop-color="#b81d00"/><stop offset=".5" stop-color="#ad1000"/><stop offset="1" stop-color="#a60800"/></linearGradient><linearGradient id="s63" gradientUnits="userSpaceOnUse" x1="539.7" y1="200.6" x2="472.6" y2="244.8"><stop offset="0" stop-color="#b81d00"/><stop offset=".5" stop-color="#ad0f00"/><stop offset="1" stop-color="#a60800"/></linearGradient><linearGradient id="s64" gradientUnits="userSpaceOnUse" x1="540.6" y1="200.8" x2="473.5" y2="244.9"><stop offset="0" stop-color="#b81c00"/><stop offset=".5" stop-color="#ac0f00"/><stop offset="1" stop-color="#a60800"/></linearGradient><linearGradient id="s65" gradientUnits="userSpaceOnUse" x1="541.5" y1="201.0" x2="474.4" y2="244.9"><stop offset="0" stop-color="#b81c00"/><stop offset=".5" stop-color="#ab0e00"/><stop offset="1" stop-color="#a60800"/></linearGradient><linearGradient id="s66" gradientUnits="userSpaceOnUse" x1="542.4" y1="201.1" x2="475.3" y2="245.0"><stop offset="0" stop-color="#b81c00"/><stop offset=".5" stop-color="#ab0e00"/><stop offset="1" stop-color="#a60800"/></linearGradient><linearGradient id="s67" gradientUnits="userSpaceOnUse" x1="543.2" y1="201.3" x2="476.2" y2="245.1"><stop offset="0" stop-color="#b81c00"/><stop offset=".5" stop-color="#ab0d00"/><stop offset="1" stop-color="#a60800"/></linearGradient><linearGradient id="s68" gradientUnits="userSpaceOnUse" x1="544.1" y1="201.5" x2="477.1" y2="245.2"><stop offset="0" stop-color="#b81c00"/><stop offset=".5" stop-color="#aa0d00"/><stop offset="1" stop-color="#a60800"/></linearGradient><linearGradient id="s69" gradientUnits="userSpaceOnUse" x1="545.0" y1="201.7" x2="478.0" y2="245.2"><stop offset="0" stop-color="#b81c00"/><stop offset=".5" stop-color="#aa0c00"/><stop offset="1" stop-color="#a60800"/></linearGradient><linearGradient id="s70" gradientUnits="userSpaceOnUse" x1="545.8" y1="202.0" x2="478.9" y2="245.4"><stop offset="0" stop-color="#b81c00"/><stop offset=".5" stop-color="#a90c00"/><stop offset="1" stop-color="#a60800"/></linearGradient><linearGradient id="s71" gradientUnits="userSpaceOnUse" x1="546.7" y1="202.2" x2="479.8" y2="245.5"><stop offset="0" stop-color="#b81c00"/><stop offset=".5" stop-color="#a90c00"/><stop offset="1" stop-color="#a60800"/></linearGradient><linearGradient id="s72" gradientUnits="userSpaceOnUse" x1="547.5" y1="202.4" x2="480.7" y2="245.6"><stop offset="0" stop-color="#b81c00"/><stop offset=".5" stop-color="#a90b00"/><stop offset="1" stop-color="#a60800"/></linearGradient><linearGradient id="s73" gradientUnits="userSpaceOnUse" x1="548.4" y1="202.7" x2="481.6" y2="245.7"><stop offset="0" stop-color="#b81c00"/><stop offset=".5" stop-color="#a90b00"/><stop offset="1" stop-color="#a60800"/></linearGradient><linearGradient id="s74" gradientUnits="userSpaceOnUse" x1="549.2" y1="203.0" x2="482.5" y2="245.9"><stop offset="0" stop-color="#b81c00"/><stop offset=".5" stop-color="#a90b00"/><stop offset="1" stop-color="#a60800"/></linearGradient><linearGradient id="s75" gradientUnits="userSpaceOnUse" x1="550.1" y1="203.2" x2="483.4" y2="246.0"><stop offset="0" stop-color="#b81c00"/><stop offset=".5" stop-color="#a90b00"/><stop offset="1" stop-color="#a60800"/></linearGradient><linearGradient id="s76" gradientUnits="userSpaceOnUse" x1="550.9" y1="203.5" x2="484.3" y2="246.2"><stop offset="0" stop-color="#b81c00"/><stop offset=".5" stop-color="#a80b00"/><stop offset="1" stop-color="#a60800"/></linearGradient><linearGradient id="s77" gradientUnits="userSpaceOnUse" x1="551.8" y1="203.8" x2="485.1" y2="246.3"><stop offset="0" stop-color="#b81c00"/><stop offset=".5" stop-color="#a80b00"/><stop offset="1" stop-color="#a60800"/></linearGradient><linearGradient id="s78" gradientUnits="userSpaceOnUse" x1="552.6" y1="204.1" x2="486.0" y2="246.5"><stop offset="0" stop-color="#b81c00"/><stop offset=".5" stop-color="#a90b00"/><stop offset="1" stop-color="#a60800"/></linearGradient><linearGradient id="s79" gradientUnits="userSpaceOnUse" x1="553.4" y1="204.4" x2="486.9" y2="246.7"><stop offset="0" stop-color="#b81c00"/><stop offset=".5" stop-color="#a90b00"/><stop offset="1" stop-color="#a60800"/></linearGradient><linearGradient id="s80" gradientUnits="userSpaceOnUse" x1="554.3" y1="204.8" x2="487.8" y2="246.9"><stop offset="0" stop-color="#b81d00"/><stop offset=".5" stop-color="#a90b00"/><stop offset="1" stop-color="#a60800"/></linearGradient><linearGradient id="s81" gradientUnits="userSpaceOnUse" x1="555.1" y1="205.1" x2="488.6" y2="247.1"><stop offset="0" stop-color="#b81d00"/><stop offset=".5" stop-color="#a90c00"/><stop offset="1" stop-color="#a60800"/></linearGradient><linearGradient id="s82" gradientUnits="userSpaceOnUse" x1="555.9" y1="205.5" x2="489.5" y2="247.3"><stop offset="0" stop-color="#b81d00"/><stop offset=".5" stop-color="#aa0c00"/><stop offset="1" stop-color="#a60800"/></linearGradient><linearGradient id="s83" gradientUnits="userSpaceOnUse" x1="556.7" y1="205.8" x2="490.3" y2="247.6"><stop offset="0" stop-color="#b91d00"/><stop offset=".5" stop-color="#aa0d00"/><stop offset="1" stop-color="#a60800"/></linearGradient><linearGradient id="s84" gradientUnits="userSpaceOnUse" x1="557.5" y1="206.2" x2="491.2" y2="247.8"><stop offset="0" stop-color="#b91d00"/><stop offset=".5" stop-color="#ab0d00"/><stop offset="1" stop-color="#a60800"/></linearGradient><linearGradient id="s85" gradientUnits="userSpaceOnUse" x1="558.4" y1="206.6" x2="492.1" y2="248.0"><stop offset="0" stop-color="#b91e00"/><stop offset=".5" stop-color="#ab0e00"/><stop offset="1" stop-color="#a60800"/></linearGradient><linearGradient id="s86" gradientUnits="userSpaceOnUse" x1="559.2" y1="207.0" x2="492.9" y2="248.3"><stop offset="0" stop-color="#b91e00"/><stop offset=".5" stop-color="#ac0f00"/><stop offset="1" stop-color="#a60800"/></linearGradient><linearGradient id="s87" gradientUnits="userSpaceOnUse" x1="560.0" y1="207.4" x2="493.8" y2="248.6"><stop offset="0" stop-color="#b91e00"/><stop offset=".5" stop-color="#ad1000"/><stop offset="1" stop-color="#a60800"/></linearGradient><linearGradient id="s88" gradientUnits="userSpaceOnUse" x1="560.8" y1="207.8" x2="494.6" y2="248.8"><stop offset="0" stop-color="#b91e00"/><stop offset=".5" stop-color="#ae1100"/><stop offset="1" stop-color="#a60800"/></linearGradient><linearGradient id="s89" gradientUnits="userSpaceOnUse" x1="561.6" y1="208.2" x2="495.4" y2="249.1"><stop offset="0" stop-color="#b91f00"/><stop offset=".5" stop-color="#af1200"/><stop offset="1" stop-color="#a60800"/></linearGradient><linearGradient id="s90" gradientUnits="userSpaceOnUse" x1="562.4" y1="208.6" x2="496.3" y2="249.4"><stop offset="0" stop-color="#b91f00"/><stop offset=".5" stop-color="#b01300"/><stop offset="1" stop-color="#a60800"/></linearGradient><linearGradient id="s91" gradientUnits="userSpaceOnUse" x1="563.2" y1="209.1" x2="497.1" y2="249.7"><stop offset="0" stop-color="#ba1f00"/><stop offset=".5" stop-color="#b11400"/><stop offset="1" stop-color="#a60800"/></linearGradient><linearGradient id="s92" gradientUnits="userSpaceOnUse" x1="564.0" y1="209.5" x2="498.0" y2="250.0"><stop offset="0" stop-color="#ba2000"/><stop offset=".5" stop-color="#b21500"/><stop offset="1" stop-color="#a60800"/></linearGradient><linearGradient id="s93" gradientUnits="userSpaceOnUse" x1="564.7" y1="210.0" x2="498.8" y2="250.4"><stop offset="0" stop-color="#ba2000"/><stop offset=".5" stop-color="#b31700"/><stop offset="1" stop-color="#a60800"/></linearGradient><linearGradient id="s94" gradientUnits="userSpaceOnUse" x1="565.5" y1="210.5" x2="499.6" y2="250.7"><stop offset="0" stop-color="#ba2000"/><stop offset=".5" stop-color="#b51800"/><stop offset="1" stop-color="#a60800"/></linearGradient><linearGradient id="s95" gradientUnits="userSpaceOnUse" x1="566.3" y1="211.0" x2="500.4" y2="251.0"><stop offset="0" stop-color="#ba2100"/><stop offset=".5" stop-color="#b61a00"/><stop offset="1" stop-color="#a60800"/></linearGradient><linearGradient id="s96" gradientUnits="userSpaceOnUse" x1="567.1" y1="211.5" x2="501.3" y2="251.4"><stop offset="0" stop-color="#bb2100"/><stop offset=".5" stop-color="#b71b00"/><stop offset="1" stop-color="#a60800"/></linearGradient><linearGradient id="s97" gradientUnits="userSpaceOnUse" x1="567.9" y1="212.0" x2="502.1" y2="251.8"><stop offset="0" stop-color="#bb2200"/><stop offset=".5" stop-color="#b81c00"/><stop offset="1" stop-color="#a60800"/></linearGradient><linearGradient id="s98" gradientUnits="userSpaceOnUse" x1="568.6" y1="212.5" x2="502.9" y2="252.1"><stop offset="0" stop-color="#bb2200"/><stop offset=".5" stop-color="#b81d00"/><stop offset="1" stop-color="#a70a00"/></linearGradient><linearGradient id="s99" gradientUnits="userSpaceOnUse" x1="569.4" y1="213.0" x2="503.7" y2="252.5"><stop offset="0" stop-color="#bb2300"/><stop offset=".5" stop-color="#b91e00"/><stop offset="1" stop-color="#a90c00"/></linearGradient><linearGradient id="s100" gradientUnits="userSpaceOnUse" x1="570.2" y1="213.6" x2="504.5" y2="252.9"><stop offset="0" stop-color="#bc2300"/><stop offset=".5" stop-color="#b91e00"/><stop offset="1" stop-color="#ab0e00"/></linearGradient><linearGradient id="s101" gradientUnits="userSpaceOnUse" x1="570.9" y1="214.1" x2="505.3" y2="253.3"><stop offset="0" stop-color="#bc2400"/><stop offset=".5" stop-color="#ba1f00"/><stop offset="1" stop-color="#ad1000"/></linearGradient><linearGradient id="s102" gradientUnits="userSpaceOnUse" x1="571.7" y1="214.7" x2="506.1" y2="253.7"><stop offset="0" stop-color="#bc2400"/><stop offset=".5" stop-color="#ba2000"/><stop offset="1" stop-color="#af1200"/></linearGradient><linearGradient id="s103" gradientUnits="userSpaceOnUse" x1="572.4" y1="215.3" x2="506.9" y2="254.2"><stop offset="0" stop-color="#bc2500"/><stop offset=".5" stop-color="#ba2000"/><stop offset="1" stop-color="#b21500"/></linearGradient><linearGradient id="s104" gradientUnits="userSpaceOnUse" x1="573.2" y1="215.8" x2="507.7" y2="254.6"><stop offset="0" stop-color="#bd2600"/><stop offset=".5" stop-color="#bb2100"/><stop offset="1" stop-color="#b41700"/></linearGradient><linearGradient id="s105" gradientUnits="userSpaceOnUse" x1="573.9" y1="216.4" x2="508.5" y2="255.1"><stop offset="0" stop-color="#bd2600"/><stop offset=".5" stop-color="#bb2200"/><stop offset="1" stop-color="#b61a00"/></linearGradient><linearGradient id="s106" gradientUnits="userSpaceOnUse" x1="574.7" y1="217.0" x2="509.3" y2="255.5"><stop offset="0" stop-color="#bd2700"/><stop offset=".5" stop-color="#bb2300"/><stop offset="1" stop-color="#b81c00"/></linearGradient><linearGradient id="s107" gradientUnits="userSpaceOnUse" x1="575.4" y1="217.7" x2="510.1" y2="256.0"><stop offset="0" stop-color="#be2700"/><stop offset=".5" stop-color="#bc2400"/><stop offset="1" stop-color="#b91d00"/></linearGradient><linearGradient id="s108" gradientUnits="userSpaceOnUse" x1="576.2" y1="218.3" x2="510.9" y2="256.5"><stop offset="0" stop-color="#be2800"/><stop offset=".5" stop-color="#bc2400"/><stop offset="1" stop-color="#b91e00"/></linearGradient><linearGradient id="s109" gradientUnits="userSpaceOnUse" x1="576.9" y1="218.9" x2="511.6" y2="257.0"><stop offset="0" stop-color="#be2900"/><stop offset=".5" stop-color="#bd2500"/><stop offset="1" stop-color="#ba1f00"/></linearGradient><linearGradient id="s110" gradientUnits="userSpaceOnUse" x1="577.6" y1="219.6" x2="512.4" y2="257.5"><stop offset="0" stop-color="#bf2900"/><stop offset=".5" stop-color="#bd2600"/><stop offset="1" stop-color="#ba2000"/></linearGradient><linearGradient id="s111" gradientUnits="userSpaceOnUse" x1="578.4" y1="220.2" x2="513.2" y2="258.0"><stop offset="0" stop-color="#bf2a00"/><stop offset=".5" stop-color="#be2700"/><stop offset="1" stop-color="#bb2100"/></linearGradient><linearGradient id="s112" gradientUnits="userSpaceOnUse" x1="579.1" y1="220.9" x2="514.0" y2="258.5"><stop offset="0" stop-color="#bf2b00"/><stop offset=".5" stop-color="#be2800"/><stop offset="1" stop-color="#bb2200"/></linearGradient><linearGradient id="s113" gradientUnits="userSpaceOnUse" x1="579.8" y1="221.6" x2="514.7" y2="259.0"><stop offset="0" stop-color="#c02c00"/><stop offset=".5" stop-color="#be2900"/><stop offset="1" stop-color="#bc2300"/></linearGradient><linearGradient id="s114" gradientUnits="userSpaceOnUse" x1="580.5" y1="222.2" x2="515.5" y2="259.6"><stop offset="0" stop-color="#c02c00"/><stop offset=".5" stop-color="#bf2a00"/><stop offset="1" stop-color="#bc2400"/></linearGradient><linearGradient id="s115" gradientUnits="userSpaceOnUse" x1="581.2" y1="222.9" x2="516.2" y2="260.2"><stop offset="0" stop-color="#c12d00"/><stop offset=".5" stop-color="#bf2b00"/><stop offset="1" stop-color="#bd2500"/></linearGradient><linearGradient id="s116" gradientUnits="userSpaceOnUse" x1="581.9" y1="223.6" x2="517.0" y2="260.7"><stop offset="0" stop-color="#c12e00"/><stop offset=".5" stop-color="#c02c00"/><stop offset="1" stop-color="#bd2600"/></linearGradient><linearGradient id="s117" gradientUnits="userSpaceOnUse" x1="582.7" y1="224.4" x2="517.7" y2="261.3"><stop offset="0" stop-color="#c12f00"/><stop offset=".5" stop-color="#c02d00"/><stop offset="1" stop-color="#be2700"/></linearGradient><linearGradient id="s118" gradientUnits="userSpaceOnUse" x1="583.4" y1="225.1" x2="518.5" y2="261.9"><stop offset="0" stop-color="#c23000"/><stop offset=".5" stop-color="#c12d00"/><stop offset="1" stop-color="#be2800"/></linearGradient><linearGradient id="s119" gradientUnits="userSpaceOnUse" x1="584.1" y1="225.8" x2="519.2" y2="262.5"><stop offset="0" stop-color="#c23000"/><stop offset=".5" stop-color="#c12e00"/><stop offset="1" stop-color="#bf2900"/></linearGradient><linearGradient id="s120" gradientUnits="userSpaceOnUse" x1="584.8" y1="226.6" x2="520.0" y2="263.1"><stop offset="0" stop-color="#c33100"/><stop offset=".5" stop-color="#c22f00"/><stop offset="1" stop-color="#bf2a00"/></linearGradient><linearGradient id="s121" gradientUnits="userSpaceOnUse" x1="585.5" y1="227.3" x2="520.7" y2="263.8"><stop offset="0" stop-color="#c33200"/><stop offset=".5" stop-color="#c23000"/><stop offset="1" stop-color="#c02b00"/></linearGradient><linearGradient id="s122" gradientUnits="userSpaceOnUse" x1="586.2" y1="228.1" x2="521.4" y2="264.4"><stop offset="0" stop-color="#c43300"/><stop offset=".5" stop-color="#c33100"/><stop offset="1" stop-color="#c02c00"/></linearGradient><linearGradient id="s123" gradientUnits="userSpaceOnUse" x1="586.8" y1="228.9" x2="522.2" y2="265.0"><stop offset="0" stop-color="#c43400"/><stop offset=".5" stop-color="#c33200"/><stop offset="1" stop-color="#c12d00"/></linearGradient><linearGradient id="s124" gradientUnits="userSpaceOnUse" x1="587.5" y1="229.7" x2="522.9" y2="265.7"><stop offset="0" stop-color="#c53600"/><stop offset=".5" stop-color="#c43300"/><stop offset="1" stop-color="#c12e00"/></linearGradient><linearGradient id="s125" gradientUnits="userSpaceOnUse" x1="588.2" y1="230.5" x2="523.6" y2="266.4"><stop offset="0" stop-color="#c63800"/><stop offset=".5" stop-color="#c43500"/><stop offset="1" stop-color="#c22f00"/></linearGradient><linearGradient id="s126" gradientUnits="userSpaceOnUse" x1="588.9" y1="231.3" x2="524.3" y2="267.1"><stop offset="0" stop-color="#c73a00"/><stop offset=".5" stop-color="#c53700"/><stop offset="1" stop-color="#c23000"/></linearGradient><linearGradient id="s127" gradientUnits="userSpaceOnUse" x1="589.6" y1="232.1" x2="525.1" y2="267.8"><stop offset="0" stop-color="#c83d00"/><stop offset=".5" stop-color="#c73900"/><stop offset="1" stop-color="#c33100"/></linearGradient><linearGradient id="s128" gradientUnits="userSpaceOnUse" x1="590.2" y1="233.0" x2="525.8" y2="268.5"><stop offset="0" stop-color="#c93f00"/><stop offset=".5" stop-color="#c83b00"/><stop offset="1" stop-color="#c33200"/></linearGradient><linearGradient id="s129" gradientUnits="userSpaceOnUse" x1="590.9" y1="233.8" x2="526.5" y2="269.2"><stop offset="0" stop-color="#cb4100"/><stop offset=".5" stop-color="#c93e00"/><stop offset="1" stop-color="#c43300"/></linearGradient><linearGradient id="s130" gradientUnits="userSpaceOnUse" x1="591.6" y1="234.7" x2="527.2" y2="269.9"><stop offset="0" stop-color="#cc4300"/><stop offset=".5" stop-color="#ca4000"/><stop offset="1" stop-color="#c43400"/></linearGradient><linearGradient id="s131" gradientUnits="userSpaceOnUse" x1="592.3" y1="235.5" x2="527.9" y2="270.7"><stop offset="0" stop-color="#cd4600"/><stop offset=".5" stop-color="#cb4200"/><stop offset="1" stop-color="#c53600"/></linearGradient><linearGradient id="s132" gradientUnits="userSpaceOnUse" x1="592.9" y1="236.4" x2="528.6" y2="271.4"><stop offset="0" stop-color="#ce4800"/><stop offset=".5" stop-color="#cc4400"/><stop offset="1" stop-color="#c63800"/></linearGradient><linearGradient id="s133" gradientUnits="userSpaceOnUse" x1="593.6" y1="237.3" x2="529.3" y2="272.2"><stop offset="0" stop-color="#cf4b00"/><stop offset=".5" stop-color="#cd4600"/><stop offset="1" stop-color="#c73a00"/></linearGradient><linearGradient id="s134" gradientUnits="userSpaceOnUse" x1="594.2" y1="238.2" x2="530.0" y2="273.0"><stop offset="0" stop-color="#d14d00"/><stop offset=".5" stop-color="#ce4900"/><stop offset="1" stop-color="#c83c00"/></linearGradient><linearGradient id="s135" gradientUnits="userSpaceOnUse" x1="594.9" y1="239.1" x2="530.6" y2="273.8"><stop offset="0" stop-color="#d25000"/><stop offset=".5" stop-color="#cf4b00"/><stop offset="1" stop-color="#c93e00"/></linearGradient><linearGradient id="s136" gradientUnits="userSpaceOnUse" x1="595.5" y1="240.0" x2="531.3" y2="274.6"><stop offset="0" stop-color="#d35200"/><stop offset=".5" stop-color="#d14d00"/><stop offset="1" stop-color="#ca4100"/></linearGradient><linearGradient id="s137" gradientUnits="userSpaceOnUse" x1="596.2" y1="240.9" x2="532.0" y2="275.4"><stop offset="0" stop-color="#d45500"/><stop offset=".5" stop-color="#d25000"/><stop offset="1" stop-color="#cb4300"/></linearGradient><linearGradient id="s138" gradientUnits="userSpaceOnUse" x1="596.8" y1="241.9" x2="532.7" y2="276.3"><stop offset="0" stop-color="#d65700"/><stop offset=".5" stop-color="#d35200"/><stop offset="1" stop-color="#cd4500"/></linearGradient><linearGradient id="s139" gradientUnits="userSpaceOnUse" x1="597.5" y1="242.8" x2="533.4" y2="277.1"><stop offset="0" stop-color="#d85e00"/><stop offset=".5" stop-color="#d45500"/><stop offset="1" stop-color="#ce4700"/></linearGradient><linearGradient id="s140" gradientUnits="userSpaceOnUse" x1="598.1" y1="243.8" x2="534.0" y2="278.0"><stop offset="0" stop-color="#da6500"/><stop offset=".5" stop-color="#d65700"/><stop offset="1" stop-color="#cf4a00"/></linearGradient><linearGradient id="s141" gradientUnits="userSpaceOnUse" x1="598.7" y1="244.7" x2="534.7" y2="278.8"><stop offset="0" stop-color="#dd6d00"/><stop offset=".5" stop-color="#d85d00"/><stop offset="1" stop-color="#d04c00"/></linearGradient><linearGradient id="s142" gradientUnits="userSpaceOnUse" x1="599.4" y1="245.7" x2="535.3" y2="279.7"><stop offset="0" stop-color="#df7500"/><stop offset=".5" stop-color="#da6400"/><stop offset="1" stop-color="#d14e00"/></linearGradient><linearGradient id="s143" gradientUnits="userSpaceOnUse" x1="600.0" y1="246.7" x2="536.0" y2="280.6"><stop offset="0" stop-color="#e27d00"/><stop offset=".5" stop-color="#dc6c00"/><stop offset="1" stop-color="#d25100"/></linearGradient><linearGradient id="s144" gradientUnits="userSpaceOnUse" x1="600.6" y1="247.7" x2="536.6" y2="281.5"><stop offset="0" stop-color="#e48500"/><stop offset=".5" stop-color="#df7400"/><stop offset="1" stop-color="#d45300"/></linearGradient><linearGradient id="s145" gradientUnits="userSpaceOnUse" x1="601.2" y1="248.7" x2="537.3" y2="282.4"><stop offset="0" stop-color="#e78d00"/><stop offset=".5" stop-color="#e17c00"/><stop offset="1" stop-color="#d55600"/></linearGradient><linearGradient id="s146" gradientUnits="userSpaceOnUse" x1="601.8" y1="249.7" x2="537.9" y2="283.4"><stop offset="0" stop-color="#e49200"/><stop offset=".5" stop-color="#e48400"/><stop offset="1" stop-color="#d65a00"/></linearGradient><linearGradient id="s147" gradientUnits="userSpaceOnUse" x1="602.5" y1="250.7" x2="538.6" y2="284.3"><stop offset="0" stop-color="#de9400"/><stop offset=".5" stop-color="#e78c00"/><stop offset="1" stop-color="#d96100"/></linearGradient><linearGradient id="s148" gradientUnits="userSpaceOnUse" x1="603.1" y1="251.8" x2="539.2" y2="285.3"><stop offset="0" stop-color="#d79700"/><stop offset=".5" stop-color="#e59100"/><stop offset="1" stop-color="#db6900"/></linearGradient><linearGradient id="s149" gradientUnits="userSpaceOnUse" x1="603.7" y1="252.8" x2="539.8" y2="286.2"><stop offset="0" stop-color="#d19a00"/><stop offset=".5" stop-color="#df9400"/><stop offset="1" stop-color="#de7100"/></linearGradient><linearGradient id="s150" gradientUnits="userSpaceOnUse" x1="604.3" y1="253.9" x2="540.5" y2="287.2"><stop offset="0" stop-color="#cb9c00"/><stop offset=".5" stop-color="#d99600"/><stop offset="1" stop-color="#e07900"/></linearGradient><linearGradient id="s151" gradientUnits="userSpaceOnUse" x1="604.9" y1="254.9" x2="541.1" y2="288.2"><stop offset="0" stop-color="#c49f00"/><stop offset=".5" stop-color="#d29900"/><stop offset="1" stop-color="#e38100"/></linearGradient><linearGradient id="s152" gradientUnits="userSpaceOnUse" x1="605.5" y1="256.0" x2="541.7" y2="289.2"><stop offset="0" stop-color="#bda200"/><stop offset=".5" stop-color="#cc9c00"/><stop offset="1" stop-color="#e68900"/></linearGradient><linearGradient id="s153" gradientUnits="userSpaceOnUse" x1="606.1" y1="257.1" x2="542.3" y2="290.3"><stop offset="0" stop-color="#b7a400"/><stop offset=".5" stop-color="#c69e00"/><stop offset="1" stop-color="#e79000"/></linearGradient><linearGradient id="s154" gradientUnits="userSpaceOnUse" x1="606.7" y1="258.2" x2="542.9" y2="291.3"><stop offset="0" stop-color="#b1a700"/><stop offset=".5" stop-color="#bfa100"/><stop offset="1" stop-color="#e19300"/></linearGradient><linearGradient id="s155" gradientUnits="userSpaceOnUse" x1="607.3" y1="259.3" x2="543.6" y2="292.4"><stop offset="0" stop-color="#aca900"/><stop offset=".5" stop-color="#b8a400"/><stop offset="1" stop-color="#da9600"/></linearGradient><linearGradient id="s156" gradientUnits="userSpaceOnUse" x1="607.8" y1="260.4" x2="544.2" y2="293.4"><stop offset="0" stop-color="#a6ab00"/><stop offset=".5" stop-color="#b3a600"/><stop offset="1" stop-color="#d49800"/></linearGradient><linearGradient id="s157" gradientUnits="userSpaceOnUse" x1="608.4" y1="261.6" x2="544.8" y2="294.5"><stop offset="0" stop-color="#a1ad00"/><stop offset=".5" stop-color="#ada800"/><stop offset="1" stop-color="#cd9b00"/></linearGradient><linearGradient id="s158" gradientUnits="userSpaceOnUse" x1="609.0" y1="262.7" x2="545.3" y2="295.6"><stop offset="0" stop-color="#9baf00"/><stop offset=".5" stop-color="#a8aa00"/><stop offset="1" stop-color="#c69e00"/></linearGradient><linearGradient id="s159" gradientUnits="userSpaceOnUse" x1="609.6" y1="263.9" x2="545.9" y2="296.7"><stop offset="0" stop-color="#95b200"/><stop offset=".5" stop-color="#a2ad00"/><stop offset="1" stop-color="#c0a100"/></linearGradient><linearGradient id="s160" gradientUnits="userSpaceOnUse" x1="610.2" y1="265.0" x2="546.5" y2="297.8"><stop offset="0" stop-color="#8fb400"/><stop offset=".5" stop-color="#9caf00"/><stop offset="1" stop-color="#b9a400"/></linearGradient><linearGradient id="s161" gradientUnits="userSpaceOnUse" x1="610.7" y1="266.2" x2="547.1" y2="298.9"><stop offset="0" stop-color="#89b600"/><stop offset=".5" stop-color="#96b100"/><stop offset="1" stop-color="#b3a600"/></linearGradient><linearGradient id="s162" gradientUnits="userSpaceOnUse" x1="611.3" y1="267.4" x2="547.7" y2="300.1"><stop offset="0" stop-color="#83b800"/><stop offset=".5" stop-color="#90b300"/><stop offset="1" stop-color="#ada800"/></linearGradient><linearGradient id="s163" gradientUnits="userSpaceOnUse" x1="611.9" y1="268.6" x2="548.3" y2="301.2"><stop offset="0" stop-color="#7dbb00"/><stop offset=".5" stop-color="#8ab600"/><stop offset="1" stop-color="#a7ab00"/></linearGradient><linearGradient id="s164" gradientUnits="userSpaceOnUse" x1="612.4" y1="269.8" x2="548.8" y2="302.4"><stop offset="0" stop-color="#77bd00"/><stop offset=".5" stop-color="#84b800"/><stop offset="1" stop-color="#a1ad00"/></linearGradient><linearGradient id="s165" gradientUnits="userSpaceOnUse" x1="613.0" y1="271.0" x2="549.4" y2="303.6"><stop offset="0" stop-color="#71c000"/><stop offset=".5" stop-color="#7ebb00"/><stop offset="1" stop-color="#9baf00"/></linearGradient><linearGradient id="s166" gradientUnits="userSpaceOnUse" x1="613.5" y1="272.2" x2="550.0" y2="304.8"><stop offset="0" stop-color="#69c200"/><stop offset=".5" stop-color="#78bd00"/><stop offset="1" stop-color="#95b200"/></linearGradient><linearGradient id="s167" gradientUnits="userSpaceOnUse" x1="614.1" y1="273.4" x2="550.5" y2="306.0"><stop offset="0" stop-color="#62c500"/><stop offset=".5" stop-color="#72bf00"/><stop offset="1" stop-color="#8fb400"/></linearGradient><linearGradient id="s168" gradientUnits="userSpaceOnUse" x1="614.6" y1="274.7" x2="551.1" y2="307.3"><stop offset="0" stop-color="#5ac700"/><stop offset=".5" stop-color="#6ac200"/><stop offset="1" stop-color="#89b600"/></linearGradient><linearGradient id="s169" gradientUnits="userSpaceOnUse" x1="615.2" y1="275.9" x2="551.6" y2="308.5"><stop offset="0" stop-color="#52ca00"/><stop offset=".5" stop-color="#62c500"/><stop offset="1" stop-color="#82b900"/></linearGradient><linearGradient id="s170" gradientUnits="userSpaceOnUse" x1="615.7" y1="277.2" x2="552.2" y2="309.8"><stop offset="0" stop-color="#4acd00"/><stop offset=".5" stop-color="#5ac700"/><stop offset="1" stop-color="#7cbb00"/></linearGradient><linearGradient id="s171" gradientUnits="userSpaceOnUse" x1="616.3" y1="278.5" x2="552.7" y2="311.0"><stop offset="0" stop-color="#42cf00"/><stop offset=".5" stop-color="#52ca00"/><stop offset="1" stop-color="#75be00"/></linearGradient><linearGradient id="s172" gradientUnits="userSpaceOnUse" x1="616.8" y1="279.7" x2="553.2" y2="312.3"><stop offset="0" stop-color="#39d200"/><stop offset=".5" stop-color="#49cd00"/><stop offset="1" stop-color="#6ec100"/></linearGradient><linearGradient id="s173" gradientUnits="userSpaceOnUse" x1="617.3" y1="281.0" x2="553.8" y2="313.6"><stop offset="0" stop-color="#31d500"/><stop offset=".5" stop-color="#41d000"/><stop offset="1" stop-color="#66c300"/></linearGradient><linearGradient id="s174" gradientUnits="userSpaceOnUse" x1="617.9" y1="282.3" x2="554.3" y2="314.9"><stop offset="0" stop-color="#29d800"/><stop offset=".5" stop-color="#38d300"/><stop offset="1" stop-color="#5dc600"/></linearGradient><linearGradient id="s175" gradientUnits="userSpaceOnUse" x1="618.4" y1="283.6" x2="554.8" y2="316.2"><stop offset="0" stop-color="#20db00"/><stop offset=".5" stop-color="#30d500"/><stop offset="1" stop-color="#55c900"/></linearGradient><linearGradient id="s176" gradientUnits="userSpaceOnUse" x1="618.9" y1="285.0" x2="555.3" y2="317.6"><stop offset="0" stop-color="#18dd00"/><stop offset=".5" stop-color="#27d800"/><stop offset="1" stop-color="#4ccc00"/></linearGradient><linearGradient id="s177" gradientUnits="userSpaceOnUse" x1="619.4" y1="286.3" x2="555.8" y2="318.9"><stop offset="0" stop-color="#10df01"/><stop offset=".5" stop-color="#1edb00"/><stop offset="1" stop-color="#43cf00"/></linearGradient><linearGradient id="s178" gradientUnits="userSpaceOnUse" x1="620.0" y1="287.6" x2="556.4" y2="320.3"><stop offset="0" stop-color="#0fdb09"/><stop offset=".5" stop-color="#16de00"/><stop offset="1" stop-color="#3ad200"/></linearGradient><linearGradient id="s179" gradientUnits="userSpaceOnUse" x1="620.5" y1="289.0" x2="556.9" y2="321.7"><stop offset="0" stop-color="#0ed611"/><stop offset=".5" stop-color="#10de03"/><stop offset="1" stop-color="#31d500"/></linearGradient><linearGradient id="s180" gradientUnits="userSpaceOnUse" x1="621.0" y1="290.3" x2="557.4" y2="323.1"><stop offset="0" stop-color="#0cd219"/><stop offset=".5" stop-color="#0eda0b"/><stop offset="1" stop-color="#28d800"/></linearGradient><linearGradient id="s181" gradientUnits="userSpaceOnUse" x1="621.5" y1="291.7" x2="557.9" y2="324.5"><stop offset="0" stop-color="#0bcd21"/><stop offset=".5" stop-color="#0dd514"/><stop offset="1" stop-color="#1fdb00"/></linearGradient><linearGradient id="s182" gradientUnits="userSpaceOnUse" x1="622.0" y1="293.1" x2="558.3" y2="326.0"><stop offset="0" stop-color="#0ac929"/><stop offset=".5" stop-color="#0cd01c"/><stop offset="1" stop-color="#15de00"/></linearGradient><linearGradient id="s183" gradientUnits="userSpaceOnUse" x1="622.5" y1="294.5" x2="558.8" y2="327.4"><stop offset="0" stop-color="#09c431"/><stop offset=".5" stop-color="#0bcb25"/><stop offset="1" stop-color="#0fde04"/></linearGradient><linearGradient id="s184" gradientUnits="userSpaceOnUse" x1="623.0" y1="295.9" x2="559.3" y2="328.9"><stop offset="0" stop-color="#08bf3a"/><stop offset=".5" stop-color="#0ac62d"/><stop offset="1" stop-color="#0ed90d"/></linearGradient><linearGradient id="s185" gradientUnits="userSpaceOnUse" x1="623.5" y1="297.3" x2="559.8" y2="330.3"><stop offset="0" stop-color="#07ba42"/><stop offset=".5" stop-color="#08c136"/><stop offset="1" stop-color="#0dd415"/></linearGradient><linearGradient id="s186" gradientUnits="userSpaceOnUse" x1="624.0" y1="298.7" x2="560.3" y2="331.8"><stop offset="0" stop-color="#05b54b"/><stop offset=".5" stop-color="#07bc3f"/><stop offset="1" stop-color="#0ccf1e"/></linearGradient><linearGradient id="s187" gradientUnits="userSpaceOnUse" x1="624.5" y1="300.2" x2="560.7" y2="333.3"><stop offset="0" stop-color="#04b153"/><stop offset=".5" stop-color="#06b747"/><stop offset="1" stop-color="#0ac927"/></linearGradient><linearGradient id="s188" gradientUnits="userSpaceOnUse" x1="625.0" y1="301.6" x2="561.2" y2="334.8"><stop offset="0" stop-color="#03ac5c"/><stop offset=".5" stop-color="#05b250"/><stop offset="1" stop-color="#09c431"/></linearGradient><linearGradient id="s189" gradientUnits="userSpaceOnUse" x1="625.5" y1="303.0" x2="561.7" y2="336.4"><stop offset="0" stop-color="#02a764"/><stop offset=".5" stop-color="#03ad59"/><stop offset="1" stop-color="#08bf3a"/></linearGradient><linearGradient id="s190" gradientUnits="userSpaceOnUse" x1="625.9" y1="304.5" x2="562.1" y2="337.9"><stop offset="0" stop-color="#00a26d"/><stop offset=".5" stop-color="#02a863"/><stop offset="1" stop-color="#06ba43"/></linearGradient><linearGradient id="s191" gradientUnits="userSpaceOnUse" x1="626.4" y1="306.0" x2="562.6" y2="339.5"><stop offset="0" stop-color="#009b78"/><stop offset=".5" stop-color="#01a26c"/><stop offset="1" stop-color="#05b44d"/></linearGradient><linearGradient id="s192" gradientUnits="userSpaceOnUse" x1="626.9" y1="307.5" x2="563.0" y2="341.1"><stop offset="0" stop-color="#009383"/><stop offset=".5" stop-color="#009c76"/><stop offset="1" stop-color="#04af56"/></linearGradient><linearGradient id="s193" gradientUnits="userSpaceOnUse" x1="627.4" y1="309.0" x2="563.4" y2="342.7"><stop offset="0" stop-color="#008c8e"/><stop offset=".5" stop-color="#009482"/><stop offset="1" stop-color="#02a960"/></linearGradient><linearGradient id="s194" gradientUnits="userSpaceOnUse" x1="627.8" y1="310.5" x2="563.9" y2="344.3"><stop offset="0" stop-color="#00849a"/><stop offset=".5" stop-color="#008b8f"/><stop offset="1" stop-color="#01a36a"/></linearGradient><linearGradient id="s195" gradientUnits="userSpaceOnUse" x1="628.3" y1="312.0" x2="564.3" y2="345.9"><stop offset="0" stop-color="#007ca6"/><stop offset=".5" stop-color="#00839b"/><stop offset="1" stop-color="#009d75"/></linearGradient><linearGradient id="s196" gradientUnits="userSpaceOnUse" x1="628.8" y1="313.5" x2="564.7" y2="347.5"><stop offset="0" stop-color="#0074b1"/><stop offset=".5" stop-color="#007ba7"/><stop offset="1" stop-color="#009482"/></linearGradient><linearGradient id="s197" gradientUnits="userSpaceOnUse" x1="629.2" y1="315.0" x2="565.2" y2="349.2"><stop offset="0" stop-color="#006cbd"/><stop offset=".5" stop-color="#0073b4"/><stop offset="1" stop-color="#008b8f"/></linearGradient><linearGradient id="s198" gradientUnits="userSpaceOnUse" x1="629.7" y1="316.6" x2="565.6" y2="350.9"><stop offset="0" stop-color="#0064c9"/><stop offset=".5" stop-color="#006ac0"/><stop offset="1" stop-color="#00839c"/></linearGradient><linearGradient id="s199" gradientUnits="userSpaceOnUse" x1="630.1" y1="318.1" x2="566.0" y2="352.6"><stop offset="0" stop-color="#005cd5"/><stop offset=".5" stop-color="#0062cd"/><stop offset="1" stop-color="#007aa9"/></linearGradient><linearGradient id="s200" gradientUnits="userSpaceOnUse" x1="630.6" y1="319.7" x2="566.4" y2="354.3"><stop offset="0" stop-color="#0054e1"/><stop offset=".5" stop-color="#0059da"/><stop offset="1" stop-color="#0071b6"/></linearGradient><linearGradient id="s201" gradientUnits="userSpaceOnUse" x1="631.0" y1="321.2" x2="566.8" y2="356.0"><stop offset="0" stop-color="#004ced"/><stop offset=".5" stop-color="#0050e7"/><stop offset="1" stop-color="#0068c4"/></linearGradient><linearGradient id="s202" gradientUnits="userSpaceOnUse" x1="631.5" y1="322.8" x2="567.2" y2="357.7"><stop offset="0" stop-color="#0044fa"/><stop offset=".5" stop-color="#0048f4"/><stop offset="1" stop-color="#005ed2"/></linearGradient><linearGradient id="s203" gradientUnits="userSpaceOnUse" x1="631.9" y1="324.4" x2="567.6" y2="359.5"><stop offset="0" stop-color="#033efa"/><stop offset=".5" stop-color="#013ffe"/><stop offset="1" stop-color="#0055e0"/></linearGradient><linearGradient id="s204" gradientUnits="userSpaceOnUse" x1="632.4" y1="326.0" x2="568.0" y2="361.2"><stop offset="0" stop-color="#083af2"/><stop offset=".5" stop-color="#063bf5"/><stop offset="1" stop-color="#004cee"/></linearGradient><linearGradient id="s205" gradientUnits="userSpaceOnUse" x1="632.8" y1="327.6" x2="568.4" y2="363.0"><stop offset="0" stop-color="#0d35ea"/><stop offset=".5" stop-color="#0c36ec"/><stop offset="1" stop-color="#0042fc"/></linearGradient><linearGradient id="s206" gradientUnits="userSpaceOnUse" x1="633.2" y1="329.2" x2="568.7" y2="364.8"><stop offset="0" stop-color="#1331e2"/><stop offset=".5" stop-color="#1232e3"/><stop offset="1" stop-color="#053cf8"/></linearGradient><linearGradient id="s207" gradientUnits="userSpaceOnUse" x1="633.7" y1="330.9" x2="569.1" y2="366.6"><stop offset="0" stop-color="#182dd9"/><stop offset=".5" stop-color="#172dda"/><stop offset="1" stop-color="#0b38ee"/></linearGradient><linearGradient id="s208" gradientUnits="userSpaceOnUse" x1="634.1" y1="332.5" x2="569.5" y2="368.4"><stop offset="0" stop-color="#1d28d1"/><stop offset=".5" stop-color="#1d29d1"/><stop offset="1" stop-color="#1133e5"/></linearGradient><linearGradient id="s209" gradientUnits="userSpaceOnUse" x1="634.5" y1="334.1" x2="569.8" y2="370.3"><stop offset="0" stop-color="#2324c8"/><stop offset=".5" stop-color="#2324c8"/><stop offset="1" stop-color="#172edb"/></linearGradient><linearGradient id="s210" gradientUnits="userSpaceOnUse" x1="634.9" y1="335.8" x2="570.2" y2="372.1"><stop offset="0" stop-color="#2820bf"/><stop offset=".5" stop-color="#291fbe"/><stop offset="1" stop-color="#1d29d1"/></linearGradient><linearGradient id="s211" gradientUnits="userSpaceOnUse" x1="635.4" y1="337.5" x2="570.6" y2="374.0"><stop offset="0" stop-color="#2c1bb1"/><stop offset=".5" stop-color="#2c1aae"/><stop offset="1" stop-color="#2324c7"/></linearGradient><linearGradient id="s212" gradientUnits="userSpaceOnUse" x1="635.8" y1="339.2" x2="570.9" y2="375.9"><stop offset="0" stop-color="#2f16a2"/><stop offset=".5" stop-color="#30159f"/><stop offset="1" stop-color="#291ebb"/></linearGradient><linearGradient id="s213" gradientUnits="userSpaceOnUse" x1="636.2" y1="340.8" x2="571.3" y2="377.8"><stop offset="0" stop-color="#331194"/><stop offset=".5" stop-color="#34108f"/><stop offset="1" stop-color="#2d19aa"/></linearGradient><linearGradient id="s214" gradientUnits="userSpaceOnUse" x1="636.6" y1="342.5" x2="571.6" y2="379.8"><stop offset="0" stop-color="#370c85"/><stop offset=".5" stop-color="#380a7f"/><stop offset="1" stop-color="#321399"/></linearGradient><linearGradient id="s215" gradientUnits="userSpaceOnUse" x1="637.0" y1="344.2" x2="571.9" y2="381.7"><stop offset="0" stop-color="#3a0776"/><stop offset=".5" stop-color="#3c056f"/><stop offset="1" stop-color="#360d88"/></linearGradient><linearGradient id="s216" gradientUnits="userSpaceOnUse" x1="637.4" y1="346.0" x2="572.3" y2="383.7"><stop offset="0" stop-color="#3e0368"/><stop offset=".5" stop-color="#400060"/><stop offset="1" stop-color="#3a0877"/></linearGradient><linearGradient id="s217" gradientUnits="userSpaceOnUse" x1="637.8" y1="347.7" x2="572.6" y2="385.6"><stop offset="0" stop-color="#400060"/><stop offset=".5" stop-color="#400060"/><stop offset="1" stop-color="#3f0266"/></linearGradient><linearGradient id="s218" gradientUnits="userSpaceOnUse" x1="638.2" y1="349.4" x2="572.9" y2="387.6"><stop offset="0" stop-color="#400060"/><stop offset=".5" stop-color="#400060"/><stop offset="1" stop-color="#400060"/></linearGradient><linearGradient id="s219" gradientUnits="userSpaceOnUse" x1="638.6" y1="351.2" x2="573.2" y2="389.6"><stop offset="0" stop-color="#400060"/><stop offset=".5" stop-color="#400060"/><stop offset="1" stop-color="#400060"/></linearGradient></defs>
<polygon points="476.9,213.0 468.5,218.5 460.1,224.0 451.7,229.5 443.4,234.9 435.0,240.4 426.6,245.9 418.2,251.4 409.8,256.9 410.9,256.5 419.3,251.0 427.7,245.5 436.0,240.0 444.4,234.5 452.8,229.0 461.2,223.5 469.6,218.0 478.0,212.4" fill="url(#s0)" stroke="url(#s0)" stroke-width="0.7" stroke-linejoin="round"/>
<polygon points="478.0,212.4 469.6,218.0 461.2,223.5 452.8,229.0 444.4,234.5 436.0,240.0 427.7,245.5 419.3,251.0 410.9,256.5 411.9,256.1 420.3,250.6 428.7,245.1 437.1,239.6 445.5,234.0 453.9,228.5 462.3,223.0 470.7,217.4 479.1,211.9" fill="url(#s1)" stroke="url(#s1)" stroke-width="0.7" stroke-linejoin="round"/>
<polygon points="479.1,211.9 470.7,217.4 462.3,223.0 453.9,228.5 445.5,234.0 437.1,239.6 428.7,245.1 420.3,250.6 411.9,256.1 413.0,255.8 421.4,250.2 429.8,244.7 438.2,239.1 446.6,233.6 455.0,228.1 463.4,222.5 471.8,217.0 480.2,211.4" fill="url(#s2)" stroke="url(#s2)" stroke-width="0.7" stroke-linejoin="round"/>
<polygon points="480.2,211.4 471.8,217.0 463.4,222.5 455.0,228.1 446.6,233.6 438.2,239.1 429.8,244.7 421.4,250.2 413.0,255.8 414.0,255.4 422.4,249.8 430.8,244.3 439.2,238.7 447.6,233.2 456.0,227.6 464.4,222.0 472.8,216.5 481.3,210.9" fill="url(#s3)" stroke="url(#s3)" stroke-width="0.7" stroke-linejoin="round"/>
<polygon points="481.3,210.9 472.8,216.5 464.4,222.0 456.0,227.6 447.6,233.2 439.2,238.7 430.8,244.3 422.4,249.8 414.0,255.4 415.1,255.0 423.5,249.4 431.9,243.9 440.3,238.3 448.7,232.7 457.1,227.2 465.5,221.6 473.9,216.0 482.3,210.4" fill="url(#s4)" stroke="url(#s4)" stroke-width="0.7" stroke-linejoin="round"/>
<polygon points="482.3,210.4 473.9,216.0 465.5,221.6 457.1,227.2 448.7,232.7 440.3,238.3 431.9,243.9 423.5,249.4 415.1,255.0 416.1,254.6 424.5,249.1 432.9,243.5 441.3,237.9 449.7,232.3 458.2,226.7 466.6,221.1 475.0,215.5 483.4,209.9" fill="url(#s5)" stroke="url(#s5)" stroke-width="0.7" stroke-linejoin="round"/>
<polygon points="483.4,209.9 475.0,215.5 466.6,221.1 458.2,226.7 449.7,232.3 441.3,237.9 432.9,243.5 424.5,249.1 416.1,254.6 417.1,254.3 425.6,248.7 434.0,243.1 442.4,237.5 450.8,231.9 459.2,226.3 467.6,220.7 476.1,215.1 484.5,209.4" fill="url(#s6)" stroke="url(#s6)" stroke-width="0.7" stroke-linejoin="round"/>
<polygon points="484.5,209.4 476.1,215.1 467.6,220.7 459.2,226.3 450.8,231.9 442.4,237.5 434.0,243.1 425.6,248.7 417.1,254.3 418.2,253.9 426.6,248.3 435.0,242.7 443.4,237.1 451.9,231.5 460.3,225.9 468.7,220.3 477.1,214.6 485.6,209.0" fill="url(#s7)" stroke="url(#s7)" stroke-width="0.7" stroke-linejoin="round"/>
<polygon points="485.6,209.0 477.1,214.6 468.7,220.3 460.3,225.9 451.9,231.5 443.4,237.1 435.0,242.7 426.6,248.3 418.2,253.9 419.2,253.6 427.6,248.0 436.1,242.4 444.5,236.8 452.9,231.1 461.3,225.5 469.8,219.8 478.2,214.2 486.6,208.5" fill="url(#s8)" stroke="url(#s8)" stroke-width="0.7" stroke-linejoin="round"/>
<polygon points="486.6,208.5 478.2,214.2 469.8,219.8 461.3,225.5 452.9,231.1 444.5,236.8 436.1,242.4 427.6,248.0 419.2,253.6 420.3,253.2 428.7,247.6 437.1,242.0 445.5,236.4 453.9,230.7 462.4,225.1 470.8,219.4 479.2,213.8 487.7,208.1" fill="url(#s9)" stroke="url(#s9)" stroke-width="0.7" stroke-linejoin="round"/>
<polygon points="487.7,208.1 479.2,213.8 470.8,219.4 462.4,225.1 453.9,230.7 445.5,236.4 437.1,242.0 428.7,247.6 420.3,253.2 421.3,252.9 429.7,247.3 438.1,241.7 446.6,236.0 455.0,230.4 463.4,224.7 471.9,219.0 480.3,213.4 488.8,207.7" fill="url(#s10)" stroke="url(#s10)" stroke-width="0.7" stroke-linejoin="round"/>
<polygon points="488.8,207.7 480.3,213.4 471.9,219.0 463.4,224.7 455.0,230.4 446.6,236.0 438.1,241.7 429.7,247.3 421.3,252.9 422.3,252.6 430.7,246.9 439.2,241.3 447.6,235.7 456.0,230.0 464.5,224.3 472.9,218.6 481.4,213.0 489.8,207.2" fill="url(#s11)" stroke="url(#s11)" stroke-width="0.7" stroke-linejoin="round"/>
<polygon points="489.8,207.2 481.4,213.0 472.9,218.6 464.5,224.3 456.0,230.0 447.6,235.7 439.2,241.3 430.7,246.9 422.3,252.6 423.4,252.2 431.8,246.6 440.2,241.0 448.6,235.3 457.1,229.6 465.5,224.0 474.0,218.3 482.4,212.6 490.9,206.8" fill="url(#s12)" stroke="url(#s12)" stroke-width="0.7" stroke-linejoin="round"/>
<polygon points="490.9,206.8 482.4,212.6 474.0,218.3 465.5,224.0 457.1,229.6 448.6,235.3 440.2,241.0 431.8,246.6 423.4,252.2 424.4,251.9 432.8,246.3 441.2,240.6 449.7,235.0 458.1,229.3 466.6,223.6 475.0,217.9 483.5,212.2 491.9,206.4" fill="url(#s13)" stroke="url(#s13)" stroke-width="0.7" stroke-linejoin="round"/>
<polygon points="491.9,206.4 483.5,212.2 475.0,217.9 466.6,223.6 458.1,229.3 449.7,235.0 441.2,240.6 432.8,246.3 424.4,251.9 425.4,251.6 433.8,246.0 442.3,240.3 450.7,234.6 459.1,229.0 467.6,223.3 476.0,217.5 484.5,211.8 493.0,206.1" fill="url(#s14)" stroke="url(#s14)" stroke-width="0.7" stroke-linejoin="round"/>
<polygon points="493.0,206.1 484.5,211.8 476.0,217.5 467.6,223.3 459.1,229.0 450.7,234.6 442.3,240.3 433.8,246.0 425.4,251.6 426.4,251.3 434.9,245.7 443.3,240.0 451.7,234.3 460.2,228.6 468.6,222.9 477.1,217.2 485.5,211.4 494.0,205.7" fill="url(#s15)" stroke="url(#s15)" stroke-width="0.7" stroke-linejoin="round"/>
<polygon points="494.0,205.7 485.5,211.4 477.1,217.2 468.6,222.9 460.2,228.6 451.7,234.3 443.3,240.0 434.9,245.7 426.4,251.3 427.4,251.0 435.9,245.4 444.3,239.7 452.8,234.0 461.2,228.3 469.7,222.6 478.1,216.8 486.6,211.1 495.0,205.3" fill="url(#s16)" stroke="url(#s16)" stroke-width="0.7" stroke-linejoin="round"/>
<polygon points="495.0,205.3 486.6,211.1 478.1,216.8 469.7,222.6 461.2,228.3 452.8,234.0 444.3,239.7 435.9,245.4 427.4,251.0 428.5,250.7 436.9,245.1 445.3,239.4 453.8,233.7 462.2,228.0 470.7,222.3 479.1,216.5 487.6,210.8 496.1,205.0" fill="url(#s17)" stroke="url(#s17)" stroke-width="0.7" stroke-linejoin="round"/>
<polygon points="496.1,205.0 487.6,210.8 479.1,216.5 470.7,222.3 462.2,228.0 453.8,233.7 445.3,239.4 436.9,245.1 428.5,250.7 429.5,250.4 437.9,244.8 446.4,239.1 454.8,233.4 463.3,227.7 471.7,221.9 480.2,216.2 488.6,210.4 497.1,204.6" fill="url(#s18)" stroke="url(#s18)" stroke-width="0.7" stroke-linejoin="round"/>
<polygon points="497.1,204.6 488.6,210.4 480.2,216.2 471.7,221.9 463.3,227.7 454.8,233.4 446.4,239.1 437.9,244.8 429.5,250.4 430.5,250.2 438.9,244.5 447.4,238.8 455.8,233.1 464.3,227.4 472.7,221.6 481.2,215.9 489.7,210.1 498.1,204.3" fill="url(#s19)" stroke="url(#s19)" stroke-width="0.7" stroke-linejoin="round"/>
<polygon points="498.1,204.3 489.7,210.1 481.2,215.9 472.7,221.6 464.3,227.4 455.8,233.1 447.4,238.8 438.9,244.5 430.5,250.2 431.5,249.9 440.0,244.2 448.4,238.5 456.8,232.8 465.3,227.1 473.8,221.3 482.2,215.6 490.7,209.8 499.2,204.0" fill="url(#s20)" stroke="url(#s20)" stroke-width="0.7" stroke-linejoin="round"/>
<polygon points="499.2,204.0 490.7,209.8 482.2,215.6 473.8,221.3 465.3,227.1 456.8,232.8 448.4,238.5 440.0,244.2 431.5,249.9 432.5,249.6 441.0,243.9 449.4,238.3 457.9,232.5 466.3,226.8 474.8,221.1 483.2,215.3 491.7,209.5 500.2,203.7" fill="url(#s21)" stroke="url(#s21)" stroke-width="0.7" stroke-linejoin="round"/>
<polygon points="500.2,203.7 491.7,209.5 483.2,215.3 474.8,221.1 466.3,226.8 457.9,232.5 449.4,238.3 441.0,243.9 432.5,249.6 433.5,249.3 442.0,243.7 450.4,238.0 458.9,232.3 467.3,226.5 475.8,220.8 484.3,215.0 492.7,209.2 501.2,203.4" fill="url(#s22)" stroke="url(#s22)" stroke-width="0.7" stroke-linejoin="round"/>
<polygon points="501.2,203.4 492.7,209.2 484.3,215.0 475.8,220.8 467.3,226.5 458.9,232.3 450.4,238.0 442.0,243.7 433.5,249.3 434.5,249.1 443.0,243.4 451.4,237.7 459.9,232.0 468.3,226.3 476.8,220.5 485.3,214.7 493.8,208.9 502.2,203.1" fill="url(#s23)" stroke="url(#s23)" stroke-width="0.7" stroke-linejoin="round"/>
<polygon points="502.2,203.1 493.8,208.9 485.3,214.7 476.8,220.5 468.3,226.3 459.9,232.0 451.4,237.7 443.0,243.4 434.5,249.1 435.6,248.8 444.0,243.2 452.4,237.5 460.9,231.8 469.3,226.0 477.8,220.3 486.3,214.5 494.8,208.7 503.3,202.8" fill="url(#s24)" stroke="url(#s24)" stroke-width="0.7" stroke-linejoin="round"/>
<polygon points="503.3,202.8 494.8,208.7 486.3,214.5 477.8,220.3 469.3,226.0 460.9,231.8 452.4,237.5 444.0,243.2 435.6,248.8 436.6,248.6 445.0,242.9 453.4,237.2 461.9,231.5 470.3,225.8 478.8,220.0 487.3,214.2 495.8,208.4 504.3,202.6" fill="url(#s25)" stroke="url(#s25)" stroke-width="0.7" stroke-linejoin="round"/>
<polygon points="504.3,202.6 495.8,208.4 487.3,214.2 478.8,220.0 470.3,225.8 461.9,231.5 453.4,237.2 445.0,242.9 436.6,248.6 437.6,248.4 446.0,242.7 454.4,237.0 462.9,231.3 471.4,225.5 479.8,219.8 488.3,214.0 496.8,208.2 505.3,202.3" fill="url(#s26)" stroke="url(#s26)" stroke-width="0.7" stroke-linejoin="round"/>
<polygon points="505.3,202.3 496.8,208.2 488.3,214.0 479.8,219.8 471.4,225.5 462.9,231.3 454.4,237.0 446.0,242.7 437.6,248.4 438.6,248.1 447.0,242.5 455.4,236.8 463.9,231.1 472.4,225.3 480.8,219.5 489.3,213.8 497.8,207.9 506.3,202.1" fill="url(#s27)" stroke="url(#s27)" stroke-width="0.7" stroke-linejoin="round"/>
<polygon points="506.3,202.1 497.8,207.9 489.3,213.8 480.8,219.5 472.4,225.3 463.9,231.1 455.4,236.8 447.0,242.5 438.6,248.1 439.6,247.9 448.0,242.3 456.4,236.6 464.9,230.8 473.3,225.1 481.8,219.3 490.3,213.5 498.8,207.7 507.3,201.9" fill="url(#s28)" stroke="url(#s28)" stroke-width="0.7" stroke-linejoin="round"/>
<polygon points="507.3,201.9 498.8,207.7 490.3,213.5 481.8,219.3 473.3,225.1 464.9,230.8 456.4,236.6 448.0,242.3 439.6,247.9 440.6,247.7 449.0,242.0 457.4,236.4 465.9,230.6 474.3,224.9 482.8,219.1 491.3,213.3 499.8,207.5 508.3,201.6" fill="url(#s29)" stroke="url(#s29)" stroke-width="0.7" stroke-linejoin="round"/>
<polygon points="508.3,201.6 499.8,207.5 491.3,213.3 482.8,219.1 474.3,224.9 465.9,230.6 457.4,236.4 449.0,242.0 440.6,247.7 441.5,247.5 450.0,241.8 458.4,236.2 466.9,230.4 475.3,224.7 483.8,218.9 492.3,213.1 500.8,207.3 509.3,201.4" fill="url(#s30)" stroke="url(#s30)" stroke-width="0.7" stroke-linejoin="round"/>
<polygon points="509.3,201.4 500.8,207.3 492.3,213.1 483.8,218.9 475.3,224.7 466.9,230.4 458.4,236.2 450.0,241.8 441.5,247.5 442.5,247.3 451.0,241.6 459.4,236.0 467.9,230.2 476.3,224.5 484.8,218.7 493.3,212.9 501.8,207.1 510.3,201.2" fill="url(#s31)" stroke="url(#s31)" stroke-width="0.7" stroke-linejoin="round"/>
<polygon points="510.3,201.2 501.8,207.1 493.3,212.9 484.8,218.7 476.3,224.5 467.9,230.2 459.4,236.0 451.0,241.6 442.5,247.3 443.5,247.1 452.0,241.4 460.4,235.8 468.8,230.1 477.3,224.3 485.8,218.5 494.3,212.7 502.7,206.9 511.2,201.0" fill="url(#s32)" stroke="url(#s32)" stroke-width="0.7" stroke-linejoin="round"/>
<polygon points="511.2,201.0 502.7,206.9 494.3,212.7 485.8,218.5 477.3,224.3 468.8,230.1 460.4,235.8 452.0,241.4 443.5,247.1 444.5,246.9 452.9,241.3 461.4,235.6 469.8,229.9 478.3,224.1 486.8,218.4 495.2,212.6 503.7,206.7 512.2,200.9" fill="url(#s33)" stroke="url(#s33)" stroke-width="0.7" stroke-linejoin="round"/>
<polygon points="512.2,200.9 503.7,206.7 495.2,212.6 486.8,218.4 478.3,224.1 469.8,229.9 461.4,235.6 452.9,241.3 444.5,246.9 445.5,246.7 453.9,241.1 462.4,235.4 470.8,229.7 479.3,224.0 487.7,218.2 496.2,212.4 504.7,206.6 513.2,200.7" fill="url(#s34)" stroke="url(#s34)" stroke-width="0.7" stroke-linejoin="round"/>
<polygon points="513.2,200.7 504.7,206.6 496.2,212.4 487.7,218.2 479.3,224.0 470.8,229.7 462.4,235.4 453.9,241.1 445.5,246.7 446.5,246.6 454.9,240.9 463.3,235.3 471.8,229.6 480.2,223.8 488.7,218.1 497.2,212.3 505.7,206.4 514.2,200.6" fill="url(#s35)" stroke="url(#s35)" stroke-width="0.7" stroke-linejoin="round"/>
<polygon points="514.2,200.6 505.7,206.4 497.2,212.3 488.7,218.1 480.2,223.8 471.8,229.6 463.3,235.3 454.9,240.9 446.5,246.6 447.5,246.4 455.9,240.8 464.3,235.1 472.8,229.4 481.2,223.7 489.7,217.9 498.2,212.1 506.7,206.3 515.2,200.4" fill="url(#s36)" stroke="url(#s36)" stroke-width="0.7" stroke-linejoin="round"/>
<polygon points="515.2,200.4 506.7,206.3 498.2,212.1 489.7,217.9 481.2,223.7 472.8,229.4 464.3,235.1 455.9,240.8 447.5,246.4 448.4,246.2 456.9,240.6 465.3,235.0 473.7,229.3 482.2,223.5 490.7,217.8 499.1,212.0 507.6,206.2 516.1,200.3" fill="url(#s37)" stroke="url(#s37)" stroke-width="0.7" stroke-linejoin="round"/>
<polygon points="516.1,200.3 507.6,206.2 499.1,212.0 490.7,217.8 482.2,223.5 473.7,229.3 465.3,235.0 456.9,240.6 448.4,246.2 449.4,246.1 457.8,240.5 466.3,234.8 474.7,229.1 483.2,223.4 491.6,217.7 500.1,211.9 508.6,206.0 517.1,200.2" fill="url(#s38)" stroke="url(#s38)" stroke-width="0.7" stroke-linejoin="round"/>
<polygon points="517.1,200.2 508.6,206.0 500.1,211.9 491.6,217.7 483.2,223.4 474.7,229.1 466.3,234.8 457.8,240.5 449.4,246.1 450.4,245.9 458.8,240.3 467.2,234.7 475.7,229.0 484.1,223.3 492.6,217.5 501.1,211.8 509.6,205.9 518.1,200.1" fill="url(#s39)" stroke="url(#s39)" stroke-width="0.7" stroke-linejoin="round"/>
<polygon points="518.1,200.1 509.6,205.9 501.1,211.8 492.6,217.5 484.1,223.3 475.7,229.0 467.2,234.7 458.8,240.3 450.4,245.9 451.4,245.8 459.8,240.2 468.2,234.6 476.6,228.9 485.1,223.2 493.6,217.4 502.0,211.7 510.5,205.8 519.0,200.0" fill="url(#s40)" stroke="url(#s40)" stroke-width="0.7" stroke-linejoin="round"/>
<polygon points="519.0,200.0 510.5,205.8 502.0,211.7 493.6,217.4 485.1,223.2 476.6,228.9 468.2,234.6 459.8,240.2 451.4,245.8 452.3,245.7 460.7,240.1 469.2,234.5 477.6,228.8 486.1,223.1 494.5,217.3 503.0,211.6 511.5,205.7 520.0,199.9" fill="url(#s41)" stroke="url(#s41)" stroke-width="0.7" stroke-linejoin="round"/>
<polygon points="520.0,199.9 511.5,205.7 503.0,211.6 494.5,217.3 486.1,223.1 477.6,228.8 469.2,234.5 460.7,240.1 452.3,245.7 453.3,245.6 461.7,240.0 470.1,234.4 478.6,228.7 487.0,223.0 495.5,217.3 503.9,211.5 512.4,205.7 520.9,199.8" fill="url(#s42)" stroke="url(#s42)" stroke-width="0.7" stroke-linejoin="round"/>
<polygon points="520.9,199.8 512.4,205.7 503.9,211.5 495.5,217.3 487.0,223.0 478.6,228.7 470.1,234.4 461.7,240.0 453.3,245.6 454.3,245.4 462.7,239.9 471.1,234.3 479.5,228.6 488.0,222.9 496.4,217.2 504.9,211.4 513.4,205.6 521.9,199.7" fill="url(#s43)" stroke="url(#s43)" stroke-width="0.7" stroke-linejoin="round"/>
<polygon points="521.9,199.7 513.4,205.6 504.9,211.4 496.4,217.2 488.0,222.9 479.5,228.6 471.1,234.3 462.7,239.9 454.3,245.4 455.2,245.3 463.6,239.8 472.0,234.2 480.5,228.5 488.9,222.8 497.4,217.1 505.8,211.3 514.3,205.5 522.8,199.7" fill="url(#s44)" stroke="url(#s44)" stroke-width="0.7" stroke-linejoin="round"/>
<polygon points="522.8,199.7 514.3,205.5 505.8,211.3 497.4,217.1 488.9,222.8 480.5,228.5 472.0,234.2 463.6,239.8 455.2,245.3 456.2,245.2 464.6,239.7 473.0,234.1 481.4,228.5 489.9,222.8 498.3,217.1 506.8,211.3 515.3,205.5 523.8,199.6" fill="url(#s45)" stroke="url(#s45)" stroke-width="0.7" stroke-linejoin="round"/>
<polygon points="523.8,199.6 515.3,205.5 506.8,211.3 498.3,217.1 489.9,222.8 481.4,228.5 473.0,234.1 464.6,239.7 456.2,245.2 457.1,245.1 465.5,239.6 474.0,234.0 482.4,228.4 490.8,222.7 499.3,217.0 507.7,211.3 516.2,205.5 524.7,199.6" fill="url(#s46)" stroke="url(#s46)" stroke-width="0.7" stroke-linejoin="round"/>
<polygon points="524.7,199.6 516.2,205.5 507.7,211.3 499.3,217.0 490.8,222.7 482.4,228.4 474.0,234.0 465.5,239.6 457.1,245.1 458.1,245.1 466.5,239.5 474.9,234.0 483.3,228.3 491.8,222.7 500.2,217.0 508.7,211.2 517.1,205.4 525.6,199.6" fill="url(#s47)" stroke="url(#s47)" stroke-width="0.7" stroke-linejoin="round"/>
<polygon points="525.6,199.6 517.1,205.4 508.7,211.2 500.2,217.0 491.8,222.7 483.3,228.3 474.9,234.0 466.5,239.5 458.1,245.1 459.1,245.0 467.4,239.5 475.8,233.9 484.3,228.3 492.7,222.6 501.1,216.9 509.6,211.2 518.1,205.4 526.6,199.6" fill="url(#s48)" stroke="url(#s48)" stroke-width="0.7" stroke-linejoin="round"/>
<polygon points="526.6,199.6 518.1,205.4 509.6,211.2 501.1,216.9 492.7,222.6 484.3,228.3 475.8,233.9 467.4,239.5 459.1,245.0 460.0,244.9 468.4,239.4 476.8,233.9 485.2,228.3 493.6,222.6 502.1,216.9 510.5,211.2 519.0,205.4 527.5,199.6" fill="url(#s49)" stroke="url(#s49)" stroke-width="0.7" stroke-linejoin="round"/>
<polygon points="527.5,199.6 519.0,205.4 510.5,211.2 502.1,216.9 493.6,222.6 485.2,228.3 476.8,233.9 468.4,239.4 460.0,244.9 461.0,244.9 469.3,239.4 477.7,233.8 486.1,228.2 494.6,222.6 503.0,216.9 511.5,211.2 519.9,205.4 528.4,199.6" fill="url(#s50)" stroke="url(#s50)" stroke-width="0.7" stroke-linejoin="round"/>
<polygon points="528.4,199.6 519.9,205.4 511.5,211.2 503.0,216.9 494.6,222.6 486.1,228.2 477.7,233.8 469.3,239.4 461.0,244.9 461.9,244.8 470.3,239.3 478.7,233.8 487.1,228.2 495.5,222.6 503.9,216.9 512.4,211.2 520.9,205.4 529.3,199.6" fill="url(#s51)" stroke="url(#s51)" stroke-width="0.7" stroke-linejoin="round"/>
<polygon points="529.3,199.6 520.9,205.4 512.4,211.2 503.9,216.9 495.5,222.6 487.1,228.2 478.7,233.8 470.3,239.3 461.9,244.8 462.8,244.8 471.2,239.3 479.6,233.8 488.0,228.2 496.4,222.6 504.9,216.9 513.3,211.2 521.8,205.5 530.3,199.6" fill="url(#s52)" stroke="url(#s52)" stroke-width="0.7" stroke-linejoin="round"/>
<polygon points="530.3,199.6 521.8,205.5 513.3,211.2 504.9,216.9 496.4,222.6 488.0,228.2 479.6,233.8 471.2,239.3 462.8,244.8 463.8,244.7 472.2,239.3 480.5,233.8 488.9,228.2 497.4,222.6 505.8,217.0 514.2,211.2 522.7,205.5 531.2,199.7" fill="url(#s53)" stroke="url(#s53)" stroke-width="0.7" stroke-linejoin="round"/>
<polygon points="531.2,199.7 522.7,205.5 514.2,211.2 505.8,217.0 497.4,222.6 488.9,228.2 480.5,233.8 472.2,239.3 463.8,244.7 464.7,244.7 473.1,239.3 481.5,233.8 489.9,228.2 498.3,222.6 506.7,217.0 515.2,211.3 523.6,205.5 532.1,199.7" fill="url(#s54)" stroke="url(#s54)" stroke-width="0.7" stroke-linejoin="round"/>
<polygon points="532.1,199.7 523.6,205.5 515.2,211.3 506.7,217.0 498.3,222.6 489.9,228.2 481.5,233.8 473.1,239.3 464.7,244.7 465.7,244.7 474.0,239.3 482.4,233.8 490.8,228.2 499.2,222.7 507.6,217.0 516.1,211.3 524.5,205.6 533.0,199.8" fill="url(#s55)" stroke="url(#s55)" stroke-width="0.7" stroke-linejoin="round"/>
<polygon points="533.0,199.8 524.5,205.6 516.1,211.3 507.6,217.0 499.2,222.7 490.8,228.2 482.4,233.8 474.0,239.3 465.7,244.7 466.6,244.7 474.9,239.3 483.3,233.8 491.7,228.3 500.1,222.7 508.5,217.1 517.0,211.4 525.4,205.7 533.9,199.9" fill="url(#s56)" stroke="url(#s56)" stroke-width="0.7" stroke-linejoin="round"/>
<polygon points="533.9,199.9 525.4,205.7 517.0,211.4 508.5,217.1 500.1,222.7 491.7,228.3 483.3,233.8 474.9,239.3 466.6,244.7 467.5,244.7 475.9,239.3 484.2,233.8 492.6,228.3 501.0,222.8 509.5,217.1 517.9,211.5 526.3,205.7 534.8,200.0" fill="url(#s57)" stroke="url(#s57)" stroke-width="0.7" stroke-linejoin="round"/>
<polygon points="534.8,200.0 526.3,205.7 517.9,211.5 509.5,217.1 501.0,222.8 492.6,228.3 484.2,233.8 475.9,239.3 467.5,244.7 468.5,244.7 476.8,239.3 485.2,233.9 493.5,228.4 501.9,222.8 510.4,217.2 518.8,211.6 527.2,205.8 535.7,200.1" fill="url(#s58)" stroke="url(#s58)" stroke-width="0.7" stroke-linejoin="round"/>
<polygon points="535.7,200.1 527.2,205.8 518.8,211.6 510.4,217.2 501.9,222.8 493.5,228.4 485.2,233.9 476.8,239.3 468.5,244.7 469.4,244.7 477.7,239.3 486.1,233.9 494.5,228.4 502.9,222.9 511.3,217.3 519.7,211.6 528.1,205.9 536.6,200.2" fill="url(#s59)" stroke="url(#s59)" stroke-width="0.7" stroke-linejoin="round"/>
<polygon points="536.6,200.2 528.1,205.9 519.7,211.6 511.3,217.3 502.9,222.9 494.5,228.4 486.1,233.9 477.7,239.3 469.4,244.7 470.3,244.7 478.6,239.4 487.0,233.9 495.4,228.5 503.8,223.0 512.2,217.4 520.6,211.7 529.0,206.0 537.5,200.3" fill="url(#s60)" stroke="url(#s60)" stroke-width="0.7" stroke-linejoin="round"/>
<polygon points="537.5,200.3 529.0,206.0 520.6,211.7 512.2,217.4 503.8,223.0 495.4,228.5 487.0,233.9 478.6,239.4 470.3,244.7 471.2,244.7 479.6,239.4 487.9,234.0 496.3,228.6 504.7,223.0 513.1,217.5 521.5,211.9 529.9,206.2 538.4,200.4" fill="url(#s61)" stroke="url(#s61)" stroke-width="0.7" stroke-linejoin="round"/>
<polygon points="538.4,200.4 529.9,206.2 521.5,211.9 513.1,217.5 504.7,223.0 496.3,228.6 487.9,234.0 479.6,239.4 471.2,244.7 472.1,244.8 480.5,239.5 488.8,234.1 497.2,228.6 505.6,223.1 514.0,217.6 522.4,212.0 530.8,206.3 539.3,200.6" fill="url(#s62)" stroke="url(#s62)" stroke-width="0.7" stroke-linejoin="round"/>
<polygon points="539.3,200.6 530.8,206.3 522.4,212.0 514.0,217.6 505.6,223.1 497.2,228.6 488.8,234.1 480.5,239.5 472.1,244.8 473.1,244.8 481.4,239.5 489.7,234.2 498.1,228.7 506.5,223.3 514.9,217.7 523.3,212.1 531.7,206.4 540.2,200.7" fill="url(#s63)" stroke="url(#s63)" stroke-width="0.7" stroke-linejoin="round"/>
<polygon points="540.2,200.7 531.7,206.4 523.3,212.1 514.9,217.7 506.5,223.3 498.1,228.7 489.7,234.2 481.4,239.5 473.1,244.8 474.0,244.9 482.3,239.6 490.6,234.3 499.0,228.8 507.4,223.4 515.7,217.8 524.2,212.2 532.6,206.6 541.0,200.9" fill="url(#s64)" stroke="url(#s64)" stroke-width="0.7" stroke-linejoin="round"/>
<polygon points="541.0,200.9 532.6,206.6 524.2,212.2 515.7,217.8 507.4,223.4 499.0,228.8 490.6,234.3 482.3,239.6 474.0,244.9 474.9,244.9 483.2,239.7 491.5,234.3 499.9,229.0 508.2,223.5 516.6,218.0 525.0,212.4 533.5,206.8 541.9,201.1" fill="url(#s65)" stroke="url(#s65)" stroke-width="0.7" stroke-linejoin="round"/>
<polygon points="541.9,201.1 533.5,206.8 525.0,212.4 516.6,218.0 508.2,223.5 499.9,229.0 491.5,234.3 483.2,239.7 474.9,244.9 475.8,245.0 484.1,239.8 492.4,234.5 500.8,229.1 509.1,223.6 517.5,218.1 525.9,212.6 534.4,206.9 542.8,201.2" fill="url(#s66)" stroke="url(#s66)" stroke-width="0.7" stroke-linejoin="round"/>
<polygon points="542.8,201.2 534.4,206.9 525.9,212.6 517.5,218.1 509.1,223.6 500.8,229.1 492.4,234.5 484.1,239.8 475.8,245.0 476.7,245.1 485.0,239.9 493.3,234.6 501.7,229.2 510.0,223.8 518.4,218.3 526.8,212.7 535.2,207.1 543.7,201.4" fill="url(#s67)" stroke="url(#s67)" stroke-width="0.7" stroke-linejoin="round"/>
<polygon points="543.7,201.4 535.2,207.1 526.8,212.7 518.4,218.3 510.0,223.8 501.7,229.2 493.3,234.6 485.0,239.9 476.7,245.1 477.6,245.2 485.9,240.0 494.2,234.7 502.5,229.4 510.9,223.9 519.3,218.5 527.7,212.9 536.1,207.3 544.5,201.6" fill="url(#s68)" stroke="url(#s68)" stroke-width="0.7" stroke-linejoin="round"/>
<polygon points="544.5,201.6 536.1,207.3 527.7,212.9 519.3,218.5 510.9,223.9 502.5,229.4 494.2,234.7 485.9,240.0 477.6,245.2 478.5,245.3 486.8,240.1 495.1,234.8 503.4,229.5 511.8,224.1 520.2,218.6 528.5,213.1 537.0,207.5 545.4,201.9" fill="url(#s69)" stroke="url(#s69)" stroke-width="0.7" stroke-linejoin="round"/>
<polygon points="545.4,201.9 537.0,207.5 528.5,213.1 520.2,218.6 511.8,224.1 503.4,229.5 495.1,234.8 486.8,240.1 478.5,245.3 479.4,245.4 487.7,240.2 496.0,235.0 504.3,229.7 512.7,224.3 521.0,218.8 529.4,213.3 537.8,207.7 546.3,202.1" fill="url(#s70)" stroke="url(#s70)" stroke-width="0.7" stroke-linejoin="round"/>
<polygon points="546.3,202.1 537.8,207.7 529.4,213.3 521.0,218.8 512.7,224.3 504.3,229.7 496.0,235.0 487.7,240.2 479.4,245.4 480.3,245.5 488.6,240.4 496.9,235.1 505.2,229.8 513.5,224.5 521.9,219.0 530.3,213.5 538.7,208.0 547.1,202.3" fill="url(#s71)" stroke="url(#s71)" stroke-width="0.7" stroke-linejoin="round"/>
<polygon points="547.1,202.3 538.7,208.0 530.3,213.5 521.9,219.0 513.5,224.5 505.2,229.8 496.9,235.1 488.6,240.4 480.3,245.5 481.2,245.7 489.4,240.5 497.7,235.3 506.1,230.0 514.4,224.7 522.8,219.2 531.1,213.8 539.5,208.2 548.0,202.6" fill="url(#s72)" stroke="url(#s72)" stroke-width="0.7" stroke-linejoin="round"/>
<polygon points="548.0,202.6 539.5,208.2 531.1,213.8 522.8,219.2 514.4,224.7 506.1,230.0 497.7,235.3 489.4,240.5 481.2,245.7 482.1,245.8 490.3,240.7 498.6,235.5 506.9,230.2 515.3,224.9 523.6,219.5 532.0,214.0 540.4,208.4 548.8,202.8" fill="url(#s73)" stroke="url(#s73)" stroke-width="0.7" stroke-linejoin="round"/>
<polygon points="548.8,202.8 540.4,208.4 532.0,214.0 523.6,219.5 515.3,224.9 506.9,230.2 498.6,235.5 490.3,240.7 482.1,245.8 482.9,245.9 491.2,240.8 499.5,235.7 507.8,230.4 516.1,225.1 524.5,219.7 532.9,214.2 541.2,208.7 549.7,203.1" fill="url(#s74)" stroke="url(#s74)" stroke-width="0.7" stroke-linejoin="round"/>
<polygon points="549.7,203.1 541.2,208.7 532.9,214.2 524.5,219.7 516.1,225.1 507.8,230.4 499.5,235.7 491.2,240.8 482.9,245.9 483.8,246.1 492.1,241.0 500.4,235.8 508.7,230.6 517.0,225.3 525.3,219.9 533.7,214.5 542.1,209.0 550.5,203.4" fill="url(#s75)" stroke="url(#s75)" stroke-width="0.7" stroke-linejoin="round"/>
<polygon points="550.5,203.4 542.1,209.0 533.7,214.5 525.3,219.9 517.0,225.3 508.7,230.6 500.4,235.8 492.1,241.0 483.8,246.1 484.7,246.3 493.0,241.2 501.2,236.0 509.5,230.8 517.8,225.5 526.2,220.2 534.6,214.8 542.9,209.2 551.3,203.7" fill="url(#s76)" stroke="url(#s76)" stroke-width="0.7" stroke-linejoin="round"/>
<polygon points="551.3,203.7 542.9,209.2 534.6,214.8 526.2,220.2 517.8,225.5 509.5,230.8 501.2,236.0 493.0,241.2 484.7,246.3 485.6,246.4 493.8,241.4 502.1,236.3 510.4,231.1 518.7,225.8 527.0,220.4 535.4,215.0 543.8,209.5 552.2,204.0" fill="url(#s77)" stroke="url(#s77)" stroke-width="0.7" stroke-linejoin="round"/>
<polygon points="552.2,204.0 543.8,209.5 535.4,215.0 527.0,220.4 518.7,225.8 510.4,231.1 502.1,236.3 493.8,241.4 485.6,246.4 486.5,246.6 494.7,241.6 503.0,236.5 511.2,231.3 519.6,226.0 527.9,220.7 536.2,215.3 544.6,209.8 553.0,204.3" fill="url(#s78)" stroke="url(#s78)" stroke-width="0.7" stroke-linejoin="round"/>
<polygon points="553.0,204.3 544.6,209.8 536.2,215.3 527.9,220.7 519.6,226.0 511.2,231.3 503.0,236.5 494.7,241.6 486.5,246.6 487.3,246.8 495.6,241.8 503.8,236.7 512.1,231.5 520.4,226.3 528.7,221.0 537.1,215.6 545.5,210.1 553.8,204.6" fill="url(#s79)" stroke="url(#s79)" stroke-width="0.7" stroke-linejoin="round"/>
<polygon points="553.8,204.6 545.5,210.1 537.1,215.6 528.7,221.0 520.4,226.3 512.1,231.5 503.8,236.7 495.6,241.8 487.3,246.8 488.2,247.0 496.4,242.0 504.7,237.0 512.9,231.8 521.2,226.6 529.6,221.3 537.9,215.9 546.3,210.5 554.7,204.9" fill="url(#s80)" stroke="url(#s80)" stroke-width="0.7" stroke-linejoin="round"/>
<polygon points="554.7,204.9 546.3,210.5 537.9,215.9 529.6,221.3 521.2,226.6 512.9,231.8 504.7,237.0 496.4,242.0 488.2,247.0 489.1,247.2 497.3,242.2 505.5,237.2 513.8,232.1 522.1,226.9 530.4,221.6 538.7,216.2 547.1,210.8 555.5,205.3" fill="url(#s81)" stroke="url(#s81)" stroke-width="0.7" stroke-linejoin="round"/>
<polygon points="555.5,205.3 547.1,210.8 538.7,216.2 530.4,221.6 522.1,226.9 513.8,232.1 505.5,237.2 497.3,242.2 489.1,247.2 489.9,247.4 498.1,242.5 506.4,237.5 514.6,232.4 522.9,227.2 531.2,221.9 539.6,216.6 547.9,211.1 556.3,205.6" fill="url(#s82)" stroke="url(#s82)" stroke-width="0.7" stroke-linejoin="round"/>
<polygon points="556.3,205.6 547.9,211.1 539.6,216.6 531.2,221.9 522.9,227.2 514.6,232.4 506.4,237.5 498.1,242.5 489.9,247.4 490.8,247.7 499.0,242.7 507.2,237.7 515.5,232.6 523.8,227.5 532.1,222.2 540.4,216.9 548.8,211.5 557.1,206.0" fill="url(#s83)" stroke="url(#s83)" stroke-width="0.7" stroke-linejoin="round"/>
<polygon points="557.1,206.0 548.8,211.5 540.4,216.9 532.1,222.2 523.8,227.5 515.5,232.6 507.2,237.7 499.0,242.7 490.8,247.7 491.6,247.9 499.8,243.0 508.1,238.0 516.3,232.9 524.6,227.8 532.9,222.6 541.2,217.2 549.6,211.9 558.0,206.4" fill="url(#s84)" stroke="url(#s84)" stroke-width="0.7" stroke-linejoin="round"/>
<polygon points="558.0,206.4 549.6,211.9 541.2,217.2 532.9,222.6 524.6,227.8 516.3,232.9 508.1,238.0 499.8,243.0 491.6,247.9 492.5,248.2 500.7,243.3 508.9,238.3 517.2,233.2 525.4,228.1 533.7,222.9 542.0,217.6 550.4,212.2 558.8,206.8" fill="url(#s85)" stroke="url(#s85)" stroke-width="0.7" stroke-linejoin="round"/>
<polygon points="558.8,206.8 550.4,212.2 542.0,217.6 533.7,222.9 525.4,228.1 517.2,233.2 508.9,238.3 500.7,243.3 492.5,248.2 493.3,248.4 501.5,243.6 509.7,238.6 518.0,233.6 526.3,228.5 534.5,223.3 542.9,218.0 551.2,212.6 559.6,207.2" fill="url(#s86)" stroke="url(#s86)" stroke-width="0.7" stroke-linejoin="round"/>
<polygon points="559.6,207.2 551.2,212.6 542.9,218.0 534.5,223.3 526.3,228.5 518.0,233.6 509.7,238.6 501.5,243.6 493.3,248.4 494.2,248.7 502.4,243.8 510.6,238.9 518.8,233.9 527.1,228.8 535.4,223.6 543.7,218.4 552.0,213.0 560.4,207.6" fill="url(#s87)" stroke="url(#s87)" stroke-width="0.7" stroke-linejoin="round"/>
<polygon points="560.4,207.6 552.0,213.0 543.7,218.4 535.4,223.6 527.1,228.8 518.8,233.9 510.6,238.9 502.4,243.8 494.2,248.7 495.0,249.0 503.2,244.1 511.4,239.2 519.6,234.2 527.9,229.2 536.2,224.0 544.5,218.7 552.8,213.4 561.2,208.0" fill="url(#s88)" stroke="url(#s88)" stroke-width="0.7" stroke-linejoin="round"/>
<polygon points="561.2,208.0 552.8,213.4 544.5,218.7 536.2,224.0 527.9,229.2 519.6,234.2 511.4,239.2 503.2,244.1 495.0,249.0 495.9,249.3 504.0,244.5 512.2,239.6 520.5,234.6 528.7,229.5 537.0,224.4 545.3,219.1 553.6,213.8 562.0,208.4" fill="url(#s89)" stroke="url(#s89)" stroke-width="0.7" stroke-linejoin="round"/>
<polygon points="562.0,208.4 553.6,213.8 545.3,219.1 537.0,224.4 528.7,229.5 520.5,234.6 512.2,239.6 504.0,244.5 495.9,249.3 496.7,249.6 504.9,244.8 513.1,239.9 521.3,234.9 529.5,229.9 537.8,224.8 546.1,219.6 554.4,214.3 562.8,208.9" fill="url(#s90)" stroke="url(#s90)" stroke-width="0.7" stroke-linejoin="round"/>
<polygon points="562.8,208.9 554.4,214.3 546.1,219.6 537.8,224.8 529.5,229.9 521.3,234.9 513.1,239.9 504.9,244.8 496.7,249.6 497.5,249.9 505.7,245.1 513.9,240.3 522.1,235.3 530.3,230.3 538.6,225.2 546.9,220.0 555.2,214.7 563.6,209.3" fill="url(#s91)" stroke="url(#s91)" stroke-width="0.7" stroke-linejoin="round"/>
<polygon points="563.6,209.3 555.2,214.7 546.9,220.0 538.6,225.2 530.3,230.3 522.1,235.3 513.9,240.3 505.7,245.1 497.5,249.9 498.4,250.2 506.5,245.4 514.7,240.6 522.9,235.7 531.1,230.7 539.4,225.6 547.7,220.4 556.0,215.1 564.4,209.8" fill="url(#s92)" stroke="url(#s92)" stroke-width="0.7" stroke-linejoin="round"/>
<polygon points="564.4,209.8 556.0,215.1 547.7,220.4 539.4,225.6 531.1,230.7 522.9,235.7 514.7,240.6 506.5,245.4 498.4,250.2 499.2,250.5 507.3,245.8 515.5,241.0 523.7,236.1 532.0,231.1 540.2,226.0 548.5,220.8 556.8,215.6 565.1,210.2" fill="url(#s93)" stroke="url(#s93)" stroke-width="0.7" stroke-linejoin="round"/>
<polygon points="565.1,210.2 556.8,215.6 548.5,220.8 540.2,226.0 532.0,231.1 523.7,236.1 515.5,241.0 507.3,245.8 499.2,250.5 500.0,250.9 508.2,246.2 516.3,241.4 524.5,236.5 532.8,231.5 541.0,226.5 549.3,221.3 557.6,216.1 565.9,210.7" fill="url(#s94)" stroke="url(#s94)" stroke-width="0.7" stroke-linejoin="round"/>
<polygon points="565.9,210.7 557.6,216.1 549.3,221.3 541.0,226.5 532.8,231.5 524.5,236.5 516.3,241.4 508.2,246.2 500.0,250.9 500.8,251.2 509.0,246.5 517.1,241.8 525.3,236.9 533.5,231.9 541.8,226.9 550.1,221.8 558.4,216.5 566.7,211.2" fill="url(#s95)" stroke="url(#s95)" stroke-width="0.7" stroke-linejoin="round"/>
<polygon points="566.7,211.2 558.4,216.5 550.1,221.8 541.8,226.9 533.5,231.9 525.3,236.9 517.1,241.8 509.0,246.5 500.8,251.2 501.7,251.6 509.8,246.9 518.0,242.2 526.1,237.3 534.3,232.4 542.6,227.4 550.9,222.2 559.1,217.0 567.5,211.7" fill="url(#s96)" stroke="url(#s96)" stroke-width="0.7" stroke-linejoin="round"/>
<polygon points="567.5,211.7 559.1,217.0 550.9,222.2 542.6,227.4 534.3,232.4 526.1,237.3 518.0,242.2 509.8,246.9 501.7,251.6 502.5,251.9 510.6,247.3 518.8,242.6 526.9,237.7 535.1,232.8 543.4,227.8 551.6,222.7 559.9,217.5 568.2,212.2" fill="url(#s97)" stroke="url(#s97)" stroke-width="0.7" stroke-linejoin="round"/>
<polygon points="568.2,212.2 559.9,217.5 551.6,222.7 543.4,227.8 535.1,232.8 526.9,237.7 518.8,242.6 510.6,247.3 502.5,251.9 503.3,252.3 511.4,247.7 519.6,243.0 527.7,238.2 535.9,233.3 544.2,228.3 552.4,223.2 560.7,218.0 569.0,212.8" fill="url(#s98)" stroke="url(#s98)" stroke-width="0.7" stroke-linejoin="round"/>
<polygon points="569.0,212.8 560.7,218.0 552.4,223.2 544.2,228.3 535.9,233.3 527.7,238.2 519.6,243.0 511.4,247.7 503.3,252.3 504.1,252.7 512.2,248.1 520.4,243.4 528.5,238.6 536.7,233.8 544.9,228.8 553.2,223.7 561.5,218.6 569.8,213.3" fill="url(#s99)" stroke="url(#s99)" stroke-width="0.7" stroke-linejoin="round"/>
<polygon points="569.8,213.3 561.5,218.6 553.2,223.7 544.9,228.8 536.7,233.8 528.5,238.6 520.4,243.4 512.2,248.1 504.1,252.7 504.9,253.1 513.0,248.5 521.1,243.9 529.3,239.1 537.5,234.2 545.7,229.3 554.0,224.2 562.2,219.1 570.5,213.8" fill="url(#s100)" stroke="url(#s100)" stroke-width="0.7" stroke-linejoin="round"/>
<polygon points="570.5,213.8 562.2,219.1 554.0,224.2 545.7,229.3 537.5,234.2 529.3,239.1 521.1,243.9 513.0,248.5 504.9,253.1 505.7,253.5 513.8,249.0 521.9,244.3 530.1,239.6 538.3,234.7 546.5,229.8 554.7,224.8 563.0,219.6 571.3,214.4" fill="url(#s101)" stroke="url(#s101)" stroke-width="0.7" stroke-linejoin="round"/>
<polygon points="571.3,214.4 563.0,219.6 554.7,224.8 546.5,229.8 538.3,234.7 530.1,239.6 521.9,244.3 513.8,249.0 505.7,253.5 506.5,254.0 514.6,249.4 522.7,244.8 530.9,240.1 539.0,235.2 547.3,230.3 555.5,225.3 563.8,220.2 572.1,215.0" fill="url(#s102)" stroke="url(#s102)" stroke-width="0.7" stroke-linejoin="round"/>
<polygon points="572.1,215.0 563.8,220.2 555.5,225.3 547.3,230.3 539.0,235.2 530.9,240.1 522.7,244.8 514.6,249.4 506.5,254.0 507.3,254.4 515.4,249.9 523.5,245.3 531.6,240.6 539.8,235.8 548.0,230.8 556.3,225.8 564.5,220.7 572.8,215.5" fill="url(#s103)" stroke="url(#s103)" stroke-width="0.7" stroke-linejoin="round"/>
<polygon points="572.8,215.5 564.5,220.7 556.3,225.8 548.0,230.8 539.8,235.8 531.6,240.6 523.5,245.3 515.4,249.9 507.3,254.4 508.1,254.8 516.2,250.3 524.3,245.8 532.4,241.1 540.6,236.3 548.8,231.4 557.0,226.4 565.3,221.3 573.6,216.1" fill="url(#s104)" stroke="url(#s104)" stroke-width="0.7" stroke-linejoin="round"/>
<polygon points="573.6,216.1 565.3,221.3 557.0,226.4 548.8,231.4 540.6,236.3 532.4,241.1 524.3,245.8 516.2,250.3 508.1,254.8 508.9,255.3 517.0,250.8 525.1,246.2 533.2,241.6 541.4,236.8 549.5,231.9 557.8,227.0 566.0,221.9 574.3,216.7" fill="url(#s105)" stroke="url(#s105)" stroke-width="0.7" stroke-linejoin="round"/>
<polygon points="574.3,216.7 566.0,221.9 557.8,227.0 549.5,231.9 541.4,236.8 533.2,241.6 525.1,246.2 517.0,250.8 508.9,255.3 509.7,255.7 517.7,251.3 525.8,246.8 534.0,242.1 542.1,237.4 550.3,232.5 558.5,227.6 566.8,222.5 575.0,217.3" fill="url(#s106)" stroke="url(#s106)" stroke-width="0.7" stroke-linejoin="round"/>
<polygon points="575.0,217.3 566.8,222.5 558.5,227.6 550.3,232.5 542.1,237.4 534.0,242.1 525.8,246.8 517.7,251.3 509.7,255.7 510.5,256.2 518.5,251.8 526.6,247.3 534.7,242.6 542.9,237.9 551.1,233.1 559.3,228.1 567.5,223.1 575.8,218.0" fill="url(#s107)" stroke="url(#s107)" stroke-width="0.7" stroke-linejoin="round"/>
<polygon points="575.8,218.0 567.5,223.1 559.3,228.1 551.1,233.1 542.9,237.9 534.7,242.6 526.6,247.3 518.5,251.8 510.5,256.2 511.2,256.7 519.3,252.3 527.4,247.8 535.5,243.2 543.6,238.5 551.8,233.7 560.0,228.7 568.3,223.7 576.5,218.6" fill="url(#s108)" stroke="url(#s108)" stroke-width="0.7" stroke-linejoin="round"/>
<polygon points="576.5,218.6 568.3,223.7 560.0,228.7 551.8,233.7 543.6,238.5 535.5,243.2 527.4,247.8 519.3,252.3 511.2,256.7 512.0,257.2 520.1,252.8 528.1,248.3 536.2,243.8 544.4,239.1 552.6,234.3 560.8,229.4 569.0,224.3 577.3,219.2" fill="url(#s109)" stroke="url(#s109)" stroke-width="0.7" stroke-linejoin="round"/>
<polygon points="577.3,219.2 569.0,224.3 560.8,229.4 552.6,234.3 544.4,239.1 536.2,243.8 528.1,248.3 520.1,252.8 512.0,257.2 512.8,257.7 520.8,253.4 528.9,248.9 537.0,244.3 545.1,239.6 553.3,234.9 561.5,230.0 569.7,225.0 578.0,219.9" fill="url(#s110)" stroke="url(#s110)" stroke-width="0.7" stroke-linejoin="round"/>
<polygon points="578.0,219.9 569.7,225.0 561.5,230.0 553.3,234.9 545.1,239.6 537.0,244.3 528.9,248.9 520.8,253.4 512.8,257.7 513.6,258.2 521.6,253.9 529.7,249.5 537.8,244.9 545.9,240.2 554.0,235.5 562.2,230.6 570.5,225.6 578.7,220.5" fill="url(#s111)" stroke="url(#s111)" stroke-width="0.7" stroke-linejoin="round"/>
<polygon points="578.7,220.5 570.5,225.6 562.2,230.6 554.0,235.5 545.9,240.2 537.8,244.9 529.7,249.5 521.6,253.9 513.6,258.2 514.3,258.8 522.4,254.5 530.4,250.0 538.5,245.5 546.6,240.9 554.8,236.1 563.0,231.2 571.2,226.3 579.4,221.2" fill="url(#s112)" stroke="url(#s112)" stroke-width="0.7" stroke-linejoin="round"/>
<polygon points="579.4,221.2 571.2,226.3 563.0,231.2 554.8,236.1 546.6,240.9 538.5,245.5 530.4,250.0 522.4,254.5 514.3,258.8 515.1,259.3 523.1,255.0 531.2,250.6 539.2,246.1 547.4,241.5 555.5,236.7 563.7,231.9 571.9,227.0 580.2,221.9" fill="url(#s113)" stroke="url(#s113)" stroke-width="0.7" stroke-linejoin="round"/>
<polygon points="580.2,221.9 571.9,227.0 563.7,231.9 555.5,236.7 547.4,241.5 539.2,246.1 531.2,250.6 523.1,255.0 515.1,259.3 515.9,259.9 523.9,255.6 531.9,251.2 540.0,246.7 548.1,242.1 556.2,237.4 564.4,232.6 572.6,227.6 580.9,222.6" fill="url(#s114)" stroke="url(#s114)" stroke-width="0.7" stroke-linejoin="round"/>
<polygon points="580.9,222.6 572.6,227.6 564.4,232.6 556.2,237.4 548.1,242.1 540.0,246.7 531.9,251.2 523.9,255.6 515.9,259.9 516.6,260.4 524.6,256.2 532.7,251.8 540.7,247.3 548.8,242.7 557.0,238.0 565.1,233.2 573.3,228.3 581.6,223.3" fill="url(#s115)" stroke="url(#s115)" stroke-width="0.7" stroke-linejoin="round"/>
<polygon points="581.6,223.3 573.3,228.3 565.1,233.2 557.0,238.0 548.8,242.7 540.7,247.3 532.7,251.8 524.6,256.2 516.6,260.4 517.4,261.0 525.4,256.8 533.4,252.4 541.5,248.0 549.6,243.4 557.7,238.7 565.9,233.9 574.1,229.0 582.3,224.0" fill="url(#s116)" stroke="url(#s116)" stroke-width="0.7" stroke-linejoin="round"/>
<polygon points="582.3,224.0 574.1,229.0 565.9,233.9 557.7,238.7 549.6,243.4 541.5,248.0 533.4,252.4 525.4,256.8 517.4,261.0 518.1,261.6 526.1,257.4 534.1,253.1 542.2,248.6 550.3,244.1 558.4,239.4 566.6,234.6 574.8,229.7 583.0,224.7" fill="url(#s117)" stroke="url(#s117)" stroke-width="0.7" stroke-linejoin="round"/>
<polygon points="583.0,224.7 574.8,229.7 566.6,234.6 558.4,239.4 550.3,244.1 542.2,248.6 534.1,253.1 526.1,257.4 518.1,261.6 518.9,262.2 526.8,258.0 534.9,253.7 542.9,249.3 551.0,244.7 559.1,240.1 567.3,235.3 575.5,230.5 583.7,225.5" fill="url(#s118)" stroke="url(#s118)" stroke-width="0.7" stroke-linejoin="round"/>
<polygon points="583.7,225.5 575.5,230.5 567.3,235.3 559.1,240.1 551.0,244.7 542.9,249.3 534.9,253.7 526.8,258.0 518.9,262.2 519.6,262.8 527.6,258.6 535.6,254.3 543.6,249.9 551.7,245.4 559.8,240.8 568.0,236.0 576.2,231.2 584.4,226.2" fill="url(#s119)" stroke="url(#s119)" stroke-width="0.7" stroke-linejoin="round"/>
<polygon points="584.4,226.2 576.2,231.2 568.0,236.0 559.8,240.8 551.7,245.4 543.6,249.9 535.6,254.3 527.6,258.6 519.6,262.8 520.3,263.4 528.3,259.3 536.3,255.0 544.4,250.6 552.4,246.1 560.6,241.5 568.7,236.8 576.9,231.9 585.1,227.0" fill="url(#s120)" stroke="url(#s120)" stroke-width="0.7" stroke-linejoin="round"/>
<polygon points="585.1,227.0 576.9,231.9 568.7,236.8 560.6,241.5 552.4,246.1 544.4,250.6 536.3,255.0 528.3,259.3 520.3,263.4 521.1,264.1 529.0,259.9 537.0,255.7 545.1,251.3 553.2,246.8 561.3,242.2 569.4,237.5 577.6,232.7 585.8,227.7" fill="url(#s121)" stroke="url(#s121)" stroke-width="0.7" stroke-linejoin="round"/>
<polygon points="585.8,227.7 577.6,232.7 569.4,237.5 561.3,242.2 553.2,246.8 545.1,251.3 537.0,255.7 529.0,259.9 521.1,264.1 521.8,264.7 529.8,260.6 537.8,256.4 545.8,252.0 553.9,247.5 562.0,243.0 570.1,238.3 578.3,233.4 586.5,228.5" fill="url(#s122)" stroke="url(#s122)" stroke-width="0.7" stroke-linejoin="round"/>
<polygon points="586.5,228.5 578.3,233.4 570.1,238.3 562.0,243.0 553.9,247.5 545.8,252.0 537.8,256.4 529.8,260.6 521.8,264.7 522.5,265.4 530.5,261.3 538.5,257.1 546.5,252.7 554.6,248.3 562.7,243.7 570.8,239.0 579.0,234.2 587.2,229.3" fill="url(#s123)" stroke="url(#s123)" stroke-width="0.7" stroke-linejoin="round"/>
<polygon points="587.2,229.3 579.0,234.2 570.8,239.0 562.7,243.7 554.6,248.3 546.5,252.7 538.5,257.1 530.5,261.3 522.5,265.4 523.3,266.0 531.2,262.0 539.2,257.8 547.2,253.4 555.3,249.0 563.4,244.5 571.5,239.8 579.7,235.0 587.9,230.1" fill="url(#s124)" stroke="url(#s124)" stroke-width="0.7" stroke-linejoin="round"/>
<polygon points="587.9,230.1 579.7,235.0 571.5,239.8 563.4,244.5 555.3,249.0 547.2,253.4 539.2,257.8 531.2,262.0 523.3,266.0 524.0,266.7 531.9,262.7 539.9,258.5 547.9,254.2 556.0,249.8 564.1,245.2 572.2,240.6 580.4,235.8 588.6,230.9" fill="url(#s125)" stroke="url(#s125)" stroke-width="0.7" stroke-linejoin="round"/>
<polygon points="588.6,230.9 580.4,235.8 572.2,240.6 564.1,245.2 556.0,249.8 547.9,254.2 539.9,258.5 531.9,262.7 524.0,266.7 524.7,267.4 532.6,263.4 540.6,259.2 548.6,254.9 556.7,250.5 564.8,246.0 572.9,241.4 581.0,236.6 589.2,231.7" fill="url(#s126)" stroke="url(#s126)" stroke-width="0.7" stroke-linejoin="round"/>
<polygon points="589.2,231.7 581.0,236.6 572.9,241.4 564.8,246.0 556.7,250.5 548.6,254.9 540.6,259.2 532.6,263.4 524.7,267.4 525.4,268.1 533.3,264.1 541.3,260.0 549.3,255.7 557.4,251.3 565.4,246.8 573.6,242.2 581.7,237.4 589.9,232.5" fill="url(#s127)" stroke="url(#s127)" stroke-width="0.7" stroke-linejoin="round"/>
<polygon points="589.9,232.5 581.7,237.4 573.6,242.2 565.4,246.8 557.4,251.3 549.3,255.7 541.3,260.0 533.3,264.1 525.4,268.1 526.1,268.8 534.1,264.8 542.0,260.7 550.0,256.5 558.1,252.1 566.1,247.6 574.2,243.0 582.4,238.2 590.6,233.4" fill="url(#s128)" stroke="url(#s128)" stroke-width="0.7" stroke-linejoin="round"/>
<polygon points="590.6,233.4 582.4,238.2 574.2,243.0 566.1,247.6 558.1,252.1 550.0,256.5 542.0,260.7 534.1,264.8 526.1,268.8 526.8,269.6 534.8,265.6 542.7,261.5 550.7,257.2 558.7,252.9 566.8,248.4 574.9,243.8 583.1,239.1 591.3,234.2" fill="url(#s129)" stroke="url(#s129)" stroke-width="0.7" stroke-linejoin="round"/>
<polygon points="591.3,234.2 583.1,239.1 574.9,243.8 566.8,248.4 558.7,252.9 550.7,257.2 542.7,261.5 534.8,265.6 526.8,269.6 527.5,270.3 535.4,266.3 543.4,262.2 551.4,258.0 559.4,253.7 567.5,249.2 575.6,244.6 583.7,239.9 591.9,235.1" fill="url(#s130)" stroke="url(#s130)" stroke-width="0.7" stroke-linejoin="round"/>
<polygon points="591.9,235.1 583.7,239.9 575.6,244.6 567.5,249.2 559.4,253.7 551.4,258.0 543.4,262.2 535.4,266.3 527.5,270.3 528.2,271.1 536.1,267.1 544.1,263.0 552.1,258.8 560.1,254.5 568.2,250.1 576.3,245.5 584.4,240.8 592.6,236.0" fill="url(#s131)" stroke="url(#s131)" stroke-width="0.7" stroke-linejoin="round"/>
<polygon points="592.6,236.0 584.4,240.8 576.3,245.5 568.2,250.1 560.1,254.5 552.1,258.8 544.1,263.0 536.1,267.1 528.2,271.1 528.9,271.8 536.8,267.9 544.8,263.8 552.8,259.6 560.8,255.3 568.8,250.9 576.9,246.3 585.1,241.6 593.2,236.8" fill="url(#s132)" stroke="url(#s132)" stroke-width="0.7" stroke-linejoin="round"/>
<polygon points="593.2,236.8 585.1,241.6 576.9,246.3 568.8,250.9 560.8,255.3 552.8,259.6 544.8,263.8 536.8,267.9 528.9,271.8 529.6,272.6 537.5,268.7 545.5,264.6 553.4,260.5 561.4,256.2 569.5,251.8 577.6,247.2 585.7,242.5 593.9,237.7" fill="url(#s133)" stroke="url(#s133)" stroke-width="0.7" stroke-linejoin="round"/>
<polygon points="593.9,237.7 585.7,242.5 577.6,247.2 569.5,251.8 561.4,256.2 553.4,260.5 545.5,264.6 537.5,268.7 529.6,272.6 530.3,273.4 538.2,269.5 546.1,265.5 554.1,261.3 562.1,257.0 570.2,252.6 578.3,248.1 586.4,243.4 594.6,238.6" fill="url(#s134)" stroke="url(#s134)" stroke-width="0.7" stroke-linejoin="round"/>
<polygon points="594.6,238.6 586.4,243.4 578.3,248.1 570.2,252.6 562.1,257.0 554.1,261.3 546.1,265.5 538.2,269.5 530.3,273.4 531.0,274.2 538.9,270.3 546.8,266.3 554.8,262.2 562.8,257.9 570.8,253.5 578.9,249.0 587.0,244.3 595.2,239.5" fill="url(#s135)" stroke="url(#s135)" stroke-width="0.7" stroke-linejoin="round"/>
<polygon points="595.2,239.5 587.0,244.3 578.9,249.0 570.8,253.5 562.8,257.9 554.8,262.2 546.8,266.3 538.9,270.3 531.0,274.2 531.7,275.0 539.6,271.1 547.5,267.1 555.4,263.0 563.4,258.8 571.5,254.4 579.6,249.9 587.7,245.2 595.9,240.5" fill="url(#s136)" stroke="url(#s136)" stroke-width="0.7" stroke-linejoin="round"/>
<polygon points="595.9,240.5 587.7,245.2 579.6,249.9 571.5,254.4 563.4,258.8 555.4,263.0 547.5,267.1 539.6,271.1 531.7,275.0 532.3,275.8 540.2,272.0 548.1,268.0 556.1,263.9 564.1,259.6 572.1,255.3 580.2,250.8 588.3,246.1 596.5,241.4" fill="url(#s137)" stroke="url(#s137)" stroke-width="0.7" stroke-linejoin="round"/>
<polygon points="596.5,241.4 588.3,246.1 580.2,250.8 572.1,255.3 564.1,259.6 556.1,263.9 548.1,268.0 540.2,272.0 532.3,275.8 533.0,276.7 540.9,272.8 548.8,268.9 556.8,264.8 564.8,260.5 572.8,256.2 580.9,251.7 589.0,247.1 597.1,242.3" fill="url(#s138)" stroke="url(#s138)" stroke-width="0.7" stroke-linejoin="round"/>
<polygon points="597.1,242.3 589.0,247.1 580.9,251.7 572.8,256.2 564.8,260.5 556.8,264.8 548.8,268.9 540.9,272.8 533.0,276.7 533.7,277.5 541.6,273.7 549.5,269.8 557.4,265.7 565.4,261.5 573.4,257.1 581.5,252.6 589.6,248.0 597.8,243.3" fill="url(#s139)" stroke="url(#s139)" stroke-width="0.7" stroke-linejoin="round"/>
<polygon points="597.8,243.3 589.6,248.0 581.5,252.6 573.4,257.1 565.4,261.5 557.4,265.7 549.5,269.8 541.6,273.7 533.7,277.5 534.4,278.4 542.2,274.6 550.1,270.6 558.1,266.6 566.1,262.4 574.1,258.0 582.2,253.6 590.3,249.0 598.4,244.2" fill="url(#s140)" stroke="url(#s140)" stroke-width="0.7" stroke-linejoin="round"/>
<polygon points="598.4,244.2 590.3,249.0 582.2,253.6 574.1,258.0 566.1,262.4 558.1,266.6 550.1,270.6 542.2,274.6 534.4,278.4 535.0,279.3 542.9,275.5 550.8,271.6 558.7,267.5 566.7,263.3 574.7,259.0 582.8,254.5 590.9,249.9 599.0,245.2" fill="url(#s141)" stroke="url(#s141)" stroke-width="0.7" stroke-linejoin="round"/>
<polygon points="599.0,245.2 590.9,249.9 582.8,254.5 574.7,259.0 566.7,263.3 558.7,267.5 550.8,271.6 542.9,275.5 535.0,279.3 535.7,280.2 543.5,276.4 551.4,272.5 559.4,268.4 567.3,264.3 575.4,259.9 583.4,255.5 591.5,250.9 599.7,246.2" fill="url(#s142)" stroke="url(#s142)" stroke-width="0.7" stroke-linejoin="round"/>
<polygon points="599.7,246.2 591.5,250.9 583.4,255.5 575.4,259.9 567.3,264.3 559.4,268.4 551.4,272.5 543.5,276.4 535.7,280.2 536.3,281.1 544.2,277.3 552.1,273.4 560.0,269.4 568.0,265.2 576.0,260.9 584.1,256.5 592.2,251.9 600.3,247.2" fill="url(#s143)" stroke="url(#s143)" stroke-width="0.7" stroke-linejoin="round"/>
<polygon points="600.3,247.2 592.2,251.9 584.1,256.5 576.0,260.9 568.0,265.2 560.0,269.4 552.1,273.4 544.2,277.3 536.3,281.1 537.0,282.0 544.8,278.2 552.7,274.3 560.6,270.3 568.6,266.2 576.6,261.9 584.7,257.5 592.8,252.9 600.9,248.2" fill="url(#s144)" stroke="url(#s144)" stroke-width="0.7" stroke-linejoin="round"/>
<polygon points="600.9,248.2 592.8,252.9 584.7,257.5 576.6,261.9 568.6,266.2 560.6,270.3 552.7,274.3 544.8,278.2 537.0,282.0 537.6,282.9 545.5,279.2 553.3,275.3 561.3,271.3 569.2,267.1 577.3,262.9 585.3,258.4 593.4,253.9 601.5,249.2" fill="url(#s145)" stroke="url(#s145)" stroke-width="0.7" stroke-linejoin="round"/>
<polygon points="601.5,249.2 593.4,253.9 585.3,258.4 577.3,262.9 569.2,267.1 561.3,271.3 553.3,275.3 545.5,279.2 537.6,282.9 538.3,283.8 546.1,280.1 554.0,276.3 561.9,272.3 569.9,268.1 577.9,263.9 585.9,259.5 594.0,254.9 602.2,250.2" fill="url(#s146)" stroke="url(#s146)" stroke-width="0.7" stroke-linejoin="round"/>
<polygon points="602.2,250.2 594.0,254.9 585.9,259.5 577.9,263.9 569.9,268.1 561.9,272.3 554.0,276.3 546.1,280.1 538.3,283.8 538.9,284.8 546.7,281.1 554.6,277.2 562.5,273.3 570.5,269.1 578.5,264.9 586.5,260.5 594.6,255.9 602.8,251.3" fill="url(#s147)" stroke="url(#s147)" stroke-width="0.7" stroke-linejoin="round"/>
<polygon points="602.8,251.3 594.6,255.9 586.5,260.5 578.5,264.9 570.5,269.1 562.5,273.3 554.6,277.2 546.7,281.1 538.9,284.8 539.5,285.8 547.4,282.1 555.2,278.2 563.1,274.3 571.1,270.2 579.1,265.9 587.2,261.5 595.2,257.0 603.4,252.3" fill="url(#s148)" stroke="url(#s148)" stroke-width="0.7" stroke-linejoin="round"/>
<polygon points="603.4,252.3 595.2,257.0 587.2,261.5 579.1,265.9 571.1,270.2 563.1,274.3 555.2,278.2 547.4,282.1 539.5,285.8 540.2,286.7 548.0,283.1 555.9,279.2 563.8,275.3 571.7,271.2 579.7,266.9 587.8,262.5 595.9,258.0 604.0,253.3" fill="url(#s149)" stroke="url(#s149)" stroke-width="0.7" stroke-linejoin="round"/>
<polygon points="604.0,253.3 595.9,258.0 587.8,262.5 579.7,266.9 571.7,271.2 563.8,275.3 555.9,279.2 548.0,283.1 540.2,286.7 540.8,287.7 548.6,284.1 556.5,280.3 564.4,276.3 572.3,272.2 580.3,268.0 588.4,263.6 596.5,259.1 604.6,254.4" fill="url(#s150)" stroke="url(#s150)" stroke-width="0.7" stroke-linejoin="round"/>
<polygon points="604.6,254.4 596.5,259.1 588.4,263.6 580.3,268.0 572.3,272.2 564.4,276.3 556.5,280.3 548.6,284.1 540.8,287.7 541.4,288.7 549.2,285.1 557.1,281.3 565.0,277.3 572.9,273.3 580.9,269.0 589.0,264.7 597.1,260.1 605.2,255.5" fill="url(#s151)" stroke="url(#s151)" stroke-width="0.7" stroke-linejoin="round"/>
<polygon points="605.2,255.5 597.1,260.1 589.0,264.7 580.9,269.0 572.9,273.3 565.0,277.3 557.1,281.3 549.2,285.1 541.4,288.7 542.0,289.7 549.8,286.1 557.7,282.3 565.6,278.4 573.5,274.3 581.5,270.1 589.6,265.7 597.7,261.2 605.8,256.6" fill="url(#s152)" stroke="url(#s152)" stroke-width="0.7" stroke-linejoin="round"/>
<polygon points="605.8,256.6 597.7,261.2 589.6,265.7 581.5,270.1 573.5,274.3 565.6,278.4 557.7,282.3 549.8,286.1 542.0,289.7 542.6,290.8 550.4,287.1 558.3,283.4 566.2,279.5 574.2,275.4 582.1,271.2 590.2,266.8 598.3,262.3 606.4,257.7" fill="url(#s153)" stroke="url(#s153)" stroke-width="0.7" stroke-linejoin="round"/>
<polygon points="606.4,257.7 598.3,262.3 590.2,266.8 582.1,271.2 574.2,275.4 566.2,279.5 558.3,283.4 550.4,287.1 542.6,290.8 543.2,291.8 551.1,288.2 558.9,284.4 566.8,280.5 574.7,276.5 582.7,272.3 590.8,267.9 598.8,263.4 607.0,258.8" fill="url(#s154)" stroke="url(#s154)" stroke-width="0.7" stroke-linejoin="round"/>
<polygon points="607.0,258.8 598.8,263.4 590.8,267.9 582.7,272.3 574.7,276.5 566.8,280.5 558.9,284.4 551.1,288.2 543.2,291.8 543.9,292.9 551.7,289.3 559.5,285.5 567.4,281.6 575.3,277.6 583.3,273.4 591.4,269.0 599.4,264.5 607.6,259.9" fill="url(#s155)" stroke="url(#s155)" stroke-width="0.7" stroke-linejoin="round"/>
<polygon points="607.6,259.9 599.4,264.5 591.4,269.0 583.3,273.4 575.3,277.6 567.4,281.6 559.5,285.5 551.7,289.3 543.9,292.9 544.5,294.0 552.3,290.4 560.1,286.6 568.0,282.7 575.9,278.7 583.9,274.5 591.9,270.1 600.0,265.6 608.1,261.0" fill="url(#s156)" stroke="url(#s156)" stroke-width="0.7" stroke-linejoin="round"/>
<polygon points="608.1,261.0 600.0,265.6 591.9,270.1 583.9,274.5 575.9,278.7 568.0,282.7 560.1,286.6 552.3,290.4 544.5,294.0 545.1,295.0 552.8,291.4 560.7,287.7 568.6,283.8 576.5,279.8 584.5,275.6 592.5,271.3 600.6,266.8 608.7,262.1" fill="url(#s157)" stroke="url(#s157)" stroke-width="0.7" stroke-linejoin="round"/>
<polygon points="608.7,262.1 600.6,266.8 592.5,271.3 584.5,275.6 576.5,279.8 568.6,283.8 560.7,287.7 552.8,291.4 545.1,295.0 545.6,296.1 553.4,292.6 561.3,288.8 569.2,284.9 577.1,280.9 585.1,276.7 593.1,272.4 601.2,267.9 609.3,263.3" fill="url(#s158)" stroke="url(#s158)" stroke-width="0.7" stroke-linejoin="round"/>
<polygon points="609.3,263.3 601.2,267.9 593.1,272.4 585.1,276.7 577.1,280.9 569.2,284.9 561.3,288.8 553.4,292.6 545.6,296.1 546.2,297.2 554.0,293.7 561.9,290.0 569.8,286.1 577.7,282.1 585.7,277.9 593.7,273.6 601.8,269.1 609.9,264.4" fill="url(#s159)" stroke="url(#s159)" stroke-width="0.7" stroke-linejoin="round"/>
<polygon points="609.9,264.4 601.8,269.1 593.7,273.6 585.7,277.9 577.7,282.1 569.8,286.1 561.9,290.0 554.0,293.7 546.2,297.2 546.8,298.4 554.6,294.8 562.4,291.1 570.3,287.2 578.3,283.2 586.2,279.0 594.3,274.7 602.3,270.2 610.4,265.6" fill="url(#s160)" stroke="url(#s160)" stroke-width="0.7" stroke-linejoin="round"/>
<polygon points="610.4,265.6 602.3,270.2 594.3,274.7 586.2,279.0 578.3,283.2 570.3,287.2 562.4,291.1 554.6,294.8 546.8,298.4 547.4,299.5 555.2,296.0 563.0,292.2 570.9,288.4 578.8,284.4 586.8,280.2 594.8,275.9 602.9,271.4 611.0,266.8" fill="url(#s161)" stroke="url(#s161)" stroke-width="0.7" stroke-linejoin="round"/>
<polygon points="611.0,266.8 602.9,271.4 594.8,275.9 586.8,280.2 578.8,284.4 570.9,288.4 563.0,292.2 555.2,296.0 547.4,299.5 548.0,300.7 555.8,297.1 563.6,293.4 571.5,289.6 579.4,285.5 587.4,281.4 595.4,277.1 603.5,272.6 611.6,268.0" fill="url(#s162)" stroke="url(#s162)" stroke-width="0.7" stroke-linejoin="round"/>
<polygon points="611.6,268.0 603.5,272.6 595.4,277.1 587.4,281.4 579.4,285.5 571.5,289.6 563.6,293.4 555.8,297.1 548.0,300.7 548.5,301.8 556.3,298.3 564.2,294.6 572.0,290.7 580.0,286.7 587.9,282.6 596.0,278.3 604.0,273.8 612.1,269.2" fill="url(#s163)" stroke="url(#s163)" stroke-width="0.7" stroke-linejoin="round"/>
<polygon points="612.1,269.2 604.0,273.8 596.0,278.3 587.9,282.6 580.0,286.7 572.0,290.7 564.2,294.6 556.3,298.3 548.5,301.8 549.1,303.0 556.9,299.5 564.7,295.8 572.6,291.9 580.5,287.9 588.5,283.8 596.5,279.5 604.6,275.0 612.7,270.4" fill="url(#s164)" stroke="url(#s164)" stroke-width="0.7" stroke-linejoin="round"/>
<polygon points="612.7,270.4 604.6,275.0 596.5,279.5 588.5,283.8 580.5,287.9 572.6,291.9 564.7,295.8 556.9,299.5 549.1,303.0 549.7,304.2 557.5,300.7 565.3,297.0 573.2,293.1 581.1,289.2 589.1,285.0 597.1,280.7 605.1,276.2 613.3,271.6" fill="url(#s165)" stroke="url(#s165)" stroke-width="0.7" stroke-linejoin="round"/>
<polygon points="613.3,271.6 605.1,276.2 597.1,280.7 589.1,285.0 581.1,289.2 573.2,293.1 565.3,297.0 557.5,300.7 549.7,304.2 550.2,305.4 558.0,301.9 565.8,298.2 573.7,294.4 581.6,290.4 589.6,286.2 597.6,281.9 605.7,277.4 613.8,272.8" fill="url(#s166)" stroke="url(#s166)" stroke-width="0.7" stroke-linejoin="round"/>
<polygon points="613.8,272.8 605.7,277.4 597.6,281.9 589.6,286.2 581.6,290.4 573.7,294.4 565.8,298.2 558.0,301.9 550.2,305.4 550.8,306.6 558.6,303.1 566.4,299.4 574.3,295.6 582.2,291.6 590.2,287.5 598.2,283.1 606.3,278.7 614.4,274.0" fill="url(#s167)" stroke="url(#s167)" stroke-width="0.7" stroke-linejoin="round"/>
<polygon points="614.4,274.0 606.3,278.7 598.2,283.1 590.2,287.5 582.2,291.6 574.3,295.6 566.4,299.4 558.6,303.1 550.8,306.6 551.3,307.9 559.1,304.4 566.9,300.7 574.8,296.9 582.7,292.9 590.7,288.7 598.7,284.4 606.8,279.9 614.9,275.3" fill="url(#s168)" stroke="url(#s168)" stroke-width="0.7" stroke-linejoin="round"/>
<polygon points="614.9,275.3 606.8,279.9 598.7,284.4 590.7,288.7 582.7,292.9 574.8,296.9 566.9,300.7 559.1,304.4 551.3,307.9 551.9,309.1 559.7,305.6 567.5,301.9 575.4,298.1 583.3,294.1 591.3,290.0 599.3,285.7 607.3,281.2 615.5,276.5" fill="url(#s169)" stroke="url(#s169)" stroke-width="0.7" stroke-linejoin="round"/>
<polygon points="615.5,276.5 607.3,281.2 599.3,285.7 591.3,290.0 583.3,294.1 575.4,298.1 567.5,301.9 559.7,305.6 551.9,309.1 552.4,310.4 560.2,306.9 568.0,303.2 575.9,299.4 583.8,295.4 591.8,291.2 599.8,286.9 607.9,282.5 616.0,277.8" fill="url(#s170)" stroke="url(#s170)" stroke-width="0.7" stroke-linejoin="round"/>
<polygon points="616.0,277.8 607.9,282.5 599.8,286.9 591.8,291.2 583.8,295.4 575.9,299.4 568.0,303.2 560.2,306.9 552.4,310.4 553.0,311.7 560.7,308.2 568.6,304.5 576.4,300.7 584.4,296.7 592.3,292.5 600.3,288.2 608.4,283.7 616.5,279.1" fill="url(#s171)" stroke="url(#s171)" stroke-width="0.7" stroke-linejoin="round"/>
<polygon points="616.5,279.1 608.4,283.7 600.3,288.2 592.3,292.5 584.4,296.7 576.4,300.7 568.6,304.5 560.7,308.2 553.0,311.7 553.5,313.0 561.3,309.5 569.1,305.8 577.0,302.0 584.9,298.0 592.9,293.8 600.9,289.5 609.0,285.0 617.1,280.4" fill="url(#s172)" stroke="url(#s172)" stroke-width="0.7" stroke-linejoin="round"/>
<polygon points="617.1,280.4 609.0,285.0 600.9,289.5 592.9,293.8 584.9,298.0 577.0,302.0 569.1,305.8 561.3,309.5 553.5,313.0 554.0,314.3 561.8,310.8 569.6,307.1 577.5,303.3 585.4,299.3 593.4,295.1 601.4,290.8 609.5,286.3 617.6,281.7" fill="url(#s173)" stroke="url(#s173)" stroke-width="0.7" stroke-linejoin="round"/>
<polygon points="617.6,281.7 609.5,286.3 601.4,290.8 593.4,295.1 585.4,299.3 577.5,303.3 569.6,307.1 561.8,310.8 554.0,314.3 554.6,315.6 562.3,312.1 570.1,308.4 578.0,304.6 585.9,300.6 593.9,296.4 601.9,292.1 610.0,287.6 618.1,283.0" fill="url(#s174)" stroke="url(#s174)" stroke-width="0.7" stroke-linejoin="round"/>
<polygon points="618.1,283.0 610.0,287.6 601.9,292.1 593.9,296.4 585.9,300.6 578.0,304.6 570.1,308.4 562.3,312.1 554.6,315.6 555.1,316.9 562.8,313.4 570.7,309.8 578.5,305.9 586.5,301.9 594.4,297.8 602.5,293.5 610.5,289.0 618.7,284.3" fill="url(#s175)" stroke="url(#s175)" stroke-width="0.7" stroke-linejoin="round"/>
<polygon points="618.7,284.3 610.5,289.0 602.5,293.5 594.4,297.8 586.5,301.9 578.5,305.9 570.7,309.8 562.8,313.4 555.1,316.9 555.6,318.3 563.4,314.8 571.2,311.1 579.1,307.3 587.0,303.3 595.0,299.1 603.0,294.8 611.1,290.3 619.2,285.6" fill="url(#s176)" stroke="url(#s176)" stroke-width="0.7" stroke-linejoin="round"/>
<polygon points="619.2,285.6 611.1,290.3 603.0,294.8 595.0,299.1 587.0,303.3 579.1,307.3 571.2,311.1 563.4,314.8 555.6,318.3 556.1,319.6 563.9,316.1 571.7,312.5 579.6,308.6 587.5,304.6 595.5,300.5 603.5,296.1 611.6,291.6 619.7,287.0" fill="url(#s177)" stroke="url(#s177)" stroke-width="0.7" stroke-linejoin="round"/>
<polygon points="619.7,287.0 611.6,291.6 603.5,296.1 595.5,300.5 587.5,304.6 579.6,308.6 571.7,312.5 563.9,316.1 556.1,319.6 556.6,321.0 564.4,317.5 572.2,313.8 580.1,310.0 588.0,306.0 596.0,301.8 604.0,297.5 612.1,293.0 620.2,288.3" fill="url(#s178)" stroke="url(#s178)" stroke-width="0.7" stroke-linejoin="round"/>
<polygon points="620.2,288.3 612.1,293.0 604.0,297.5 596.0,301.8 588.0,306.0 580.1,310.0 572.2,313.8 564.4,317.5 556.6,321.0 557.1,322.4 564.9,318.9 572.7,315.2 580.6,311.4 588.5,307.4 596.5,303.2 604.5,298.9 612.6,294.4 620.7,289.7" fill="url(#s179)" stroke="url(#s179)" stroke-width="0.7" stroke-linejoin="round"/>
<polygon points="620.7,289.7 612.6,294.4 604.5,298.9 596.5,303.2 588.5,307.4 580.6,311.4 572.7,315.2 564.9,318.9 557.1,322.4 557.6,323.8 565.4,320.3 573.2,316.6 581.1,312.8 589.0,308.8 597.0,304.6 605.0,300.3 613.1,295.7 621.2,291.0" fill="url(#s180)" stroke="url(#s180)" stroke-width="0.7" stroke-linejoin="round"/>
<polygon points="621.2,291.0 613.1,295.7 605.0,300.3 597.0,304.6 589.0,308.8 581.1,312.8 573.2,316.6 565.4,320.3 557.6,323.8 558.1,325.2 565.9,321.7 573.7,318.1 581.6,314.2 589.5,310.2 597.5,306.0 605.5,301.6 613.6,297.1 621.8,292.4" fill="url(#s181)" stroke="url(#s181)" stroke-width="0.7" stroke-linejoin="round"/>
<polygon points="621.8,292.4 613.6,297.1 605.5,301.6 597.5,306.0 589.5,310.2 581.6,314.2 573.7,318.1 565.9,321.7 558.1,325.2 558.6,326.7 566.4,323.2 574.2,319.5 582.1,315.6 590.0,311.6 598.0,307.4 606.0,303.0 614.1,298.5 622.3,293.8" fill="url(#s182)" stroke="url(#s182)" stroke-width="0.7" stroke-linejoin="round"/>
<polygon points="622.3,293.8 614.1,298.5 606.0,303.0 598.0,307.4 590.0,311.6 582.1,315.6 574.2,319.5 566.4,323.2 558.6,326.7 559.1,328.1 566.8,324.6 574.7,320.9 582.6,317.1 590.5,313.0 598.5,308.8 606.5,304.5 614.6,299.9 622.8,295.2" fill="url(#s183)" stroke="url(#s183)" stroke-width="0.7" stroke-linejoin="round"/>
<polygon points="622.8,295.2 614.6,299.9 606.5,304.5 598.5,308.8 590.5,313.0 582.6,317.1 574.7,320.9 566.8,324.6 559.1,328.1 559.6,329.6 567.3,326.1 575.2,322.4 583.0,318.5 591.0,314.5 599.0,310.3 607.0,305.9 615.1,301.3 623.3,296.6" fill="url(#s184)" stroke="url(#s184)" stroke-width="0.7" stroke-linejoin="round"/>
<polygon points="623.3,296.6 615.1,301.3 607.0,305.9 599.0,310.3 591.0,314.5 583.0,318.5 575.2,322.4 567.3,326.1 559.6,329.6 560.0,331.1 567.8,327.6 575.6,323.9 583.5,320.0 591.5,315.9 599.5,311.7 607.5,307.3 615.6,302.8 623.8,298.0" fill="url(#s185)" stroke="url(#s185)" stroke-width="0.7" stroke-linejoin="round"/>
<polygon points="623.8,298.0 615.6,302.8 607.5,307.3 599.5,311.7 591.5,315.9 583.5,320.0 575.6,323.9 567.8,327.6 560.0,331.1 560.5,332.6 568.3,329.0 576.1,325.3 584.0,321.5 591.9,317.4 599.9,313.2 608.0,308.8 616.1,304.2 624.2,299.4" fill="url(#s186)" stroke="url(#s186)" stroke-width="0.7" stroke-linejoin="round"/>
<polygon points="624.2,299.4 616.1,304.2 608.0,308.8 599.9,313.2 591.9,317.4 584.0,321.5 576.1,325.3 568.3,329.0 560.5,332.6 561.0,334.1 568.7,330.5 576.6,326.8 584.5,323.0 592.4,318.9 600.4,314.7 608.5,310.2 616.6,305.6 624.7,300.9" fill="url(#s187)" stroke="url(#s187)" stroke-width="0.7" stroke-linejoin="round"/>
<polygon points="624.7,300.9 616.6,305.6 608.5,310.2 600.4,314.7 592.4,318.9 584.5,323.0 576.6,326.8 568.7,330.5 561.0,334.1 561.4,335.6 569.2,332.1 577.0,328.4 584.9,324.5 592.9,320.4 600.9,316.1 608.9,311.7 617.1,307.1 625.2,302.3" fill="url(#s188)" stroke="url(#s188)" stroke-width="0.7" stroke-linejoin="round"/>
<polygon points="625.2,302.3 617.1,307.1 608.9,311.7 600.9,316.1 592.9,320.4 584.9,324.5 577.0,328.4 569.2,332.1 561.4,335.6 561.9,337.1 569.7,333.6 577.5,329.9 585.4,326.0 593.4,321.9 601.4,317.6 609.4,313.2 617.5,308.6 625.7,303.8" fill="url(#s189)" stroke="url(#s189)" stroke-width="0.7" stroke-linejoin="round"/>
<polygon points="625.7,303.8 617.5,308.6 609.4,313.2 601.4,317.6 593.4,321.9 585.4,326.0 577.5,329.9 569.7,333.6 561.9,337.1 562.3,338.7 570.1,335.2 578.0,331.4 585.9,327.5 593.8,323.4 601.8,319.1 609.9,314.7 618.0,310.1 626.2,305.2" fill="url(#s190)" stroke="url(#s190)" stroke-width="0.7" stroke-linejoin="round"/>
<polygon points="626.2,305.2 618.0,310.1 609.9,314.7 601.8,319.1 593.8,323.4 585.9,327.5 578.0,331.4 570.1,335.2 562.3,338.7 562.8,340.3 570.6,336.7 578.4,333.0 586.3,329.1 594.3,324.9 602.3,320.7 610.4,316.2 618.5,311.5 626.7,306.7" fill="url(#s191)" stroke="url(#s191)" stroke-width="0.7" stroke-linejoin="round"/>
<polygon points="626.7,306.7 618.5,311.5 610.4,316.2 602.3,320.7 594.3,324.9 586.3,329.1 578.4,333.0 570.6,336.7 562.8,340.3 563.2,341.9 571.0,338.3 578.9,334.5 586.8,330.6 594.7,326.5 602.7,322.2 610.8,317.7 618.9,313.0 627.1,308.2" fill="url(#s192)" stroke="url(#s192)" stroke-width="0.7" stroke-linejoin="round"/>
<polygon points="627.1,308.2 618.9,313.0 610.8,317.7 602.7,322.2 594.7,326.5 586.8,330.6 578.9,334.5 571.0,338.3 563.2,341.9 563.7,343.5 571.5,339.9 579.3,336.1 587.2,332.2 595.2,328.0 603.2,323.7 611.3,319.2 619.4,314.6 627.6,309.7" fill="url(#s193)" stroke="url(#s193)" stroke-width="0.7" stroke-linejoin="round"/>
<polygon points="627.6,309.7 619.4,314.6 611.3,319.2 603.2,323.7 595.2,328.0 587.2,332.2 579.3,336.1 571.5,339.9 563.7,343.5 564.1,345.1 571.9,341.5 579.8,337.7 587.7,333.8 595.6,329.6 603.7,325.3 611.7,320.8 619.9,316.1 628.1,311.2" fill="url(#s194)" stroke="url(#s194)" stroke-width="0.7" stroke-linejoin="round"/>
<polygon points="628.1,311.2 619.9,316.1 611.7,320.8 603.7,325.3 595.6,329.6 587.7,333.8 579.8,337.7 571.9,341.5 564.1,345.1 564.5,346.7 572.3,343.1 580.2,339.3 588.1,335.4 596.1,331.2 604.1,326.9 612.2,322.3 620.3,317.6 628.5,312.7" fill="url(#s195)" stroke="url(#s195)" stroke-width="0.7" stroke-linejoin="round"/>
<polygon points="628.5,312.7 620.3,317.6 612.2,322.3 604.1,326.9 596.1,331.2 588.1,335.4 580.2,339.3 572.3,343.1 564.5,346.7 565.0,348.4 572.8,344.7 580.6,341.0 588.5,337.0 596.5,332.8 604.6,328.4 612.6,323.9 620.8,319.2 629.0,314.2" fill="url(#s196)" stroke="url(#s196)" stroke-width="0.7" stroke-linejoin="round"/>
<polygon points="629.0,314.2 620.8,319.2 612.6,323.9 604.6,328.4 596.5,332.8 588.5,337.0 580.6,341.0 572.8,344.7 565.0,348.4 565.4,350.0 573.2,346.4 581.0,342.6 589.0,338.6 597.0,334.4 605.0,330.0 613.1,325.5 621.2,320.7 629.5,315.8" fill="url(#s197)" stroke="url(#s197)" stroke-width="0.7" stroke-linejoin="round"/>
<polygon points="629.5,315.8 621.2,320.7 613.1,325.5 605.0,330.0 597.0,334.4 589.0,338.6 581.0,342.6 573.2,346.4 565.4,350.0 565.8,351.7 573.6,348.1 581.5,344.2 589.4,340.2 597.4,336.0 605.4,331.6 613.5,327.1 621.7,322.3 629.9,317.3" fill="url(#s198)" stroke="url(#s198)" stroke-width="0.7" stroke-linejoin="round"/>
<polygon points="629.9,317.3 621.7,322.3 613.5,327.1 605.4,331.6 597.4,336.0 589.4,340.2 581.5,344.2 573.6,348.1 565.8,351.7 566.2,353.4 574.0,349.7 581.9,345.9 589.8,341.9 597.8,337.7 605.9,333.2 614.0,328.6 622.1,323.9 630.4,318.9" fill="url(#s199)" stroke="url(#s199)" stroke-width="0.7" stroke-linejoin="round"/>
<polygon points="630.4,318.9 622.1,323.9 614.0,328.6 605.9,333.2 597.8,337.7 589.8,341.9 581.9,345.9 574.0,349.7 566.2,353.4 566.6,355.1 574.4,351.4 582.3,347.6 590.2,343.5 598.2,339.3 606.3,334.9 614.4,330.3 622.6,325.4 630.8,320.4" fill="url(#s200)" stroke="url(#s200)" stroke-width="0.7" stroke-linejoin="round"/>
<polygon points="630.8,320.4 622.6,325.4 614.4,330.3 606.3,334.9 598.2,339.3 590.2,343.5 582.3,347.6 574.4,351.4 566.6,355.1 567.0,356.8 574.8,353.2 582.7,349.3 590.7,345.2 598.7,341.0 606.7,336.5 614.8,331.9 623.0,327.0 631.3,322.0" fill="url(#s201)" stroke="url(#s201)" stroke-width="0.7" stroke-linejoin="round"/>
<polygon points="631.3,322.0 623.0,327.0 614.8,331.9 606.7,336.5 598.7,341.0 590.7,345.2 582.7,349.3 574.8,353.2 567.0,356.8 567.4,358.6 575.2,354.9 583.1,351.0 591.1,346.9 599.1,342.6 607.1,338.2 615.3,333.5 623.5,328.7 631.7,323.6" fill="url(#s202)" stroke="url(#s202)" stroke-width="0.7" stroke-linejoin="round"/>
<polygon points="631.7,323.6 623.5,328.7 615.3,333.5 607.1,338.2 599.1,342.6 591.1,346.9 583.1,351.0 575.2,354.9 567.4,358.6 567.8,360.3 575.6,356.6 583.5,352.7 591.5,348.6 599.5,344.3 607.6,339.8 615.7,335.1 623.9,330.3 632.1,325.2" fill="url(#s203)" stroke="url(#s203)" stroke-width="0.7" stroke-linejoin="round"/>
<polygon points="632.1,325.2 623.9,330.3 615.7,335.1 607.6,339.8 599.5,344.3 591.5,348.6 583.5,352.7 575.6,356.6 567.8,360.3 568.2,362.1 576.0,358.4 583.9,354.4 591.9,350.3 599.9,346.0 608.0,341.5 616.1,336.8 624.3,331.9 632.6,326.8" fill="url(#s204)" stroke="url(#s204)" stroke-width="0.7" stroke-linejoin="round"/>
<polygon points="632.6,326.8 624.3,331.9 616.1,336.8 608.0,341.5 599.9,346.0 591.9,350.3 583.9,354.4 576.0,358.4 568.2,362.1 568.6,363.9 576.4,360.1 584.3,356.2 592.3,352.1 600.3,347.7 608.4,343.2 616.5,338.5 624.7,333.5 633.0,328.4" fill="url(#s205)" stroke="url(#s205)" stroke-width="0.7" stroke-linejoin="round"/>
<polygon points="633.0,328.4 624.7,333.5 616.5,338.5 608.4,343.2 600.3,347.7 592.3,352.1 584.3,356.2 576.4,360.1 568.6,363.9 568.9,365.7 576.8,361.9 584.7,358.0 592.7,353.8 600.7,349.4 608.8,344.9 617.0,340.1 625.2,335.2 633.4,330.0" fill="url(#s206)" stroke="url(#s206)" stroke-width="0.7" stroke-linejoin="round"/>
<polygon points="633.4,330.0 625.2,335.2 617.0,340.1 608.8,344.9 600.7,349.4 592.7,353.8 584.7,358.0 576.8,361.9 568.9,365.7 569.3,367.5 577.2,363.7 585.1,359.7 593.1,355.6 601.1,351.2 609.2,346.6 617.4,341.8 625.6,336.8 633.9,331.7" fill="url(#s207)" stroke="url(#s207)" stroke-width="0.7" stroke-linejoin="round"/>
<polygon points="633.9,331.7 625.6,336.8 617.4,341.8 609.2,346.6 601.1,351.2 593.1,355.6 585.1,359.7 577.2,363.7 569.3,367.5 569.7,369.4 577.5,365.5 585.5,361.5 593.4,357.3 601.5,352.9 609.6,348.3 617.8,343.5 626.0,338.5 634.3,333.3" fill="url(#s208)" stroke="url(#s208)" stroke-width="0.7" stroke-linejoin="round"/>
<polygon points="634.3,333.3 626.0,338.5 617.8,343.5 609.6,348.3 601.5,352.9 593.4,357.3 585.5,361.5 577.5,365.5 569.7,369.4 570.0,371.2 577.9,367.4 585.8,363.3 593.8,359.1 601.9,354.7 610.0,350.1 618.2,345.2 626.4,340.2 634.7,335.0" fill="url(#s209)" stroke="url(#s209)" stroke-width="0.7" stroke-linejoin="round"/>
<polygon points="634.7,335.0 626.4,340.2 618.2,345.2 610.0,350.1 601.9,354.7 593.8,359.1 585.8,363.3 577.9,367.4 570.0,371.2 570.4,373.1 578.3,369.2 586.2,365.2 594.2,360.9 602.3,356.5 610.4,351.8 618.6,346.9 626.8,341.9 635.1,336.6" fill="url(#s210)" stroke="url(#s210)" stroke-width="0.7" stroke-linejoin="round"/>
<polygon points="635.1,336.6 626.8,341.9 618.6,346.9 610.4,351.8 602.3,356.5 594.2,360.9 586.2,365.2 578.3,369.2 570.4,373.1 570.7,375.0 578.6,371.1 586.6,367.0 594.6,362.7 602.7,358.2 610.8,353.6 619.0,348.7 627.2,343.6 635.6,338.3" fill="url(#s211)" stroke="url(#s211)" stroke-width="0.7" stroke-linejoin="round"/>
<polygon points="635.6,338.3 627.2,343.6 619.0,348.7 610.8,353.6 602.7,358.2 594.6,362.7 586.6,367.0 578.6,371.1 570.7,375.0 571.1,376.9 579.0,373.0 586.9,368.9 595.0,364.6 603.0,360.0 611.2,355.3 619.4,350.4 627.6,345.3 636.0,340.0" fill="url(#s212)" stroke="url(#s212)" stroke-width="0.7" stroke-linejoin="round"/>
<polygon points="636.0,340.0 627.6,345.3 619.4,350.4 611.2,355.3 603.0,360.0 595.0,364.6 586.9,368.9 579.0,373.0 571.1,376.9 571.4,378.8 579.3,374.9 587.3,370.7 595.3,366.4 603.4,361.9 611.6,357.1 619.8,352.2 628.0,347.0 636.4,341.7" fill="url(#s213)" stroke="url(#s213)" stroke-width="0.7" stroke-linejoin="round"/>
<polygon points="636.4,341.7 628.0,347.0 619.8,352.2 611.6,357.1 603.4,361.9 595.3,366.4 587.3,370.7 579.3,374.9 571.4,378.8 571.8,380.7 579.7,376.8 587.6,372.6 595.7,368.2 603.8,363.7 611.9,358.9 620.2,353.9 628.4,348.8 636.8,343.4" fill="url(#s214)" stroke="url(#s214)" stroke-width="0.7" stroke-linejoin="round"/>
<polygon points="636.8,343.4 628.4,348.8 620.2,353.9 611.9,358.9 603.8,363.7 595.7,368.2 587.6,372.6 579.7,376.8 571.8,380.7 572.1,382.7 580.0,378.7 588.0,374.5 596.0,370.1 604.1,365.5 612.3,360.7 620.5,355.7 628.8,350.5 637.2,345.1" fill="url(#s215)" stroke="url(#s215)" stroke-width="0.7" stroke-linejoin="round"/>
<polygon points="637.2,345.1 628.8,350.5 620.5,355.7 612.3,360.7 604.1,365.5 596.0,370.1 588.0,374.5 580.0,378.7 572.1,382.7 572.4,384.6 580.3,380.6 588.3,376.4 596.4,372.0 604.5,367.4 612.7,362.5 620.9,357.5 629.2,352.3 637.6,346.8" fill="url(#s216)" stroke="url(#s216)" stroke-width="0.7" stroke-linejoin="round"/>
<polygon points="637.6,346.8 629.2,352.3 620.9,357.5 612.7,362.5 604.5,367.4 596.4,372.0 588.3,376.4 580.3,380.6 572.4,384.6 572.7,386.6 580.7,382.6 588.7,378.3 596.7,373.9 604.9,369.2 613.0,364.4 621.3,359.3 629.6,354.0 638.0,348.6" fill="url(#s217)" stroke="url(#s217)" stroke-width="0.7" stroke-linejoin="round"/>
<polygon points="638.0,348.6 629.6,354.0 621.3,359.3 613.0,364.4 604.9,369.2 596.7,373.9 588.7,378.3 580.7,382.6 572.7,386.6 573.1,388.6 581.0,384.6 589.0,380.3 597.1,375.8 605.2,371.1 613.4,366.2 621.7,361.1 630.0,355.8 638.4,350.3" fill="url(#s218)" stroke="url(#s218)" stroke-width="0.7" stroke-linejoin="round"/>
<polygon points="638.4,350.3 630.0,355.8 621.7,361.1 613.4,366.2 605.2,371.1 597.1,375.8 589.0,380.3 581.0,384.6 573.1,388.6 573.4,390.6 581.3,386.6 589.3,382.2 597.4,377.7 605.6,373.0 613.8,368.1 622.0,362.9 630.4,357.6 638.8,352.0" fill="url(#s219)" stroke="url(#s219)" stroke-width="0.7" stroke-linejoin="round"/>
<path d="M476.89,212.98 L470.18,217.38 L463.48,221.77 L456.77,226.16 L450.07,230.56 L443.36,234.95 L436.65,239.34 L429.95,243.74 L423.24,248.13 L416.54,252.52 L409.83,256.92" stroke="#b89c00" fill="none" stroke-width="0.8"/>
<path d="M638.78,352.05 L635.42,354.30 L632.06,356.51 L628.71,358.69 L625.37,360.83 L622.05,362.95 L618.73,365.03 L615.42,367.07 L612.13,369.09 L608.84,371.07 L605.56,373.01 L602.30,374.92 L599.04,376.80 L595.80,378.65 L592.56,380.47 L589.33,382.25 L586.12,383.99 L582.92,385.71 L579.72,387.39 L576.54,389.03 L573.36,390.65" stroke="#1a0028" fill="none" stroke-width="1.1"/>
<text x="479.70" y="171.10" font-size="6.2" fill="#333" stroke="#333" stroke-width="0.08" text-anchor="middle" textLength="2.83" lengthAdjust="spacingAndGlyphs" dominant-baseline="central">8</text>
<text x="466.10" y="180.50" font-size="6.2" fill="#333" stroke="#333" stroke-width="0.08" text-anchor="middle" textLength="7.07" lengthAdjust="spacingAndGlyphs" dominant-baseline="central">8.5</text>
<text x="452.50" y="189.90" font-size="6.2" fill="#333" stroke="#333" stroke-width="0.08" text-anchor="middle" textLength="2.83" lengthAdjust="spacingAndGlyphs" dominant-baseline="central">9</text>
<text x="438.90" y="199.30" font-size="6.2" fill="#333" stroke="#333" stroke-width="0.08" text-anchor="middle" textLength="7.07" lengthAdjust="spacingAndGlyphs" dominant-baseline="central">9.5</text>
<text x="425.30" y="208.70" font-size="6.2" fill="#333" stroke="#333" stroke-width="0.08" text-anchor="middle" textLength="5.65" lengthAdjust="spacingAndGlyphs" dominant-baseline="central">10</text>
<text x="510.20" y="167.70" font-size="6.2" fill="#333" stroke="#333" stroke-width="0.08" text-anchor="middle" textLength="2.83" lengthAdjust="spacingAndGlyphs" dominant-baseline="central">3</text>
<text x="547.80" y="178.50" font-size="6.2" fill="#333" stroke="#333" stroke-width="0.08" text-anchor="middle" textLength="7.07" lengthAdjust="spacingAndGlyphs" dominant-baseline="central">3.5</text>
<text x="585.40" y="189.30" font-size="6.2" fill="#333" stroke="#333" stroke-width="0.08" text-anchor="middle" textLength="2.83" lengthAdjust="spacingAndGlyphs" dominant-baseline="central">4</text>
<text x="623.00" y="200.10" font-size="6.2" fill="#333" stroke="#333" stroke-width="0.08" text-anchor="middle" textLength="7.07" lengthAdjust="spacingAndGlyphs" dominant-baseline="central">4.5</text>
<text x="660.60" y="210.90" font-size="6.2" fill="#333" stroke="#333" stroke-width="0.08" text-anchor="middle" textLength="2.83" lengthAdjust="spacingAndGlyphs" dominant-baseline="central">5</text>
<text x="394.60" y="375.60" font-size="6.2" fill="#333" stroke="#333" stroke-width="0.08" text-anchor="middle" textLength="2.83" lengthAdjust="spacingAndGlyphs" dominant-baseline="central">3</text>
<text x="432.20" y="386.40" font-size="6.2" fill="#333" stroke="#333" stroke-width="0.08" text-anchor="middle" textLength="7.07" lengthAdjust="spacingAndGlyphs" dominant-baseline="central">3.5</text>
<text x="469.80" y="397.20" font-size="6.2" fill="#333" stroke="#333" stroke-width="0.08" text-anchor="middle" textLength="2.83" lengthAdjust="spacingAndGlyphs" dominant-baseline="central">4</text>
<text x="507.40" y="408.00" font-size="6.2" fill="#333" stroke="#333" stroke-width="0.08" text-anchor="middle" textLength="7.07" lengthAdjust="spacingAndGlyphs" dominant-baseline="central">4.5</text>
<text x="545.00" y="418.80" font-size="6.2" fill="#333" stroke="#333" stroke-width="0.08" text-anchor="middle" textLength="2.83" lengthAdjust="spacingAndGlyphs" dominant-baseline="central">5</text>
<text x="630.00" y="379.20" font-size="6.2" fill="#333" stroke="#333" stroke-width="0.08" text-anchor="middle" textLength="2.83" lengthAdjust="spacingAndGlyphs" dominant-baseline="central">8</text>
<text x="616.40" y="388.60" font-size="6.2" fill="#333" stroke="#333" stroke-width="0.08" text-anchor="middle" textLength="7.07" lengthAdjust="spacingAndGlyphs" dominant-baseline="central">8.5</text>
<text x="602.80" y="398.00" font-size="6.2" fill="#333" stroke="#333" stroke-width="0.08" text-anchor="middle" textLength="2.83" lengthAdjust="spacingAndGlyphs" dominant-baseline="central">9</text>
<text x="589.20" y="407.40" font-size="6.2" fill="#333" stroke="#333" stroke-width="0.08" text-anchor="middle" textLength="7.07" lengthAdjust="spacingAndGlyphs" dominant-baseline="central">9.5</text>
<text x="575.60" y="416.80" font-size="6.2" fill="#333" stroke="#333" stroke-width="0.08" text-anchor="middle" textLength="5.65" lengthAdjust="spacingAndGlyphs" dominant-baseline="central">10</text>
<text x="377.43" y="344.10" font-size="6.2" fill="#333" stroke="#333" stroke-width="0.08" text-anchor="middle" textLength="5.65" lengthAdjust="spacingAndGlyphs" dominant-baseline="central">45</text>
<text x="643.83" y="352.10" font-size="6.2" fill="#333" stroke="#333" stroke-width="0.08" text-anchor="middle" textLength="5.65" lengthAdjust="spacingAndGlyphs" dominant-baseline="central">45</text>
<text x="390.69" y="300.90" font-size="6.2" fill="#333" stroke="#333" stroke-width="0.08" text-anchor="middle" textLength="5.65" lengthAdjust="spacingAndGlyphs" dominant-baseline="central">50</text>
<text x="657.09" y="308.90" font-size="6.2" fill="#333" stroke="#333" stroke-width="0.08" text-anchor="middle" textLength="5.65" lengthAdjust="spacingAndGlyphs" dominant-baseline="central">50</text>
<text x="403.95" y="257.70" font-size="6.2" fill="#333" stroke="#333" stroke-width="0.08" text-anchor="middle" textLength="5.65" lengthAdjust="spacingAndGlyphs" dominant-baseline="central">55</text>
<text x="670.35" y="265.70" font-size="6.2" fill="#333" stroke="#333" stroke-width="0.08" text-anchor="middle" textLength="5.65" lengthAdjust="spacingAndGlyphs" dominant-baseline="central">55</text>
<text x="417.20" y="214.50" font-size="6.2" fill="#333" stroke="#333" stroke-width="0.08" text-anchor="middle" textLength="5.65" lengthAdjust="spacingAndGlyphs" dominant-baseline="central">60</text>
<text x="683.60" y="222.50" font-size="6.2" fill="#333" stroke="#333" stroke-width="0.08" text-anchor="middle" textLength="5.65" lengthAdjust="spacingAndGlyphs" dominant-baseline="central">60</text>
<text x="441.30" y="183.60" font-size="7.9" fill="#222" stroke="#222" stroke-width="0.12" text-anchor="middle" textLength="51" lengthAdjust="spacingAndGlyphs" transform="rotate(-27.5 441.30 183.60)" dominant-baseline="central">Ion pair.(8,10)</text>
<text x="588.50" y="181.50" font-size="7.6" fill="#222" stroke="#222" stroke-width="0.18" text-anchor="middle" textLength="34" lengthAdjust="spacingAndGlyphs" transform="rotate(16.5 588.50 181.50)" dominant-baseline="central" font-style="italic">PANI(3,5)</text>
<text x="466.70" y="404.50" font-size="7.6" fill="#222" stroke="#222" stroke-width="0.18" text-anchor="middle" textLength="34" lengthAdjust="spacingAndGlyphs" transform="rotate(17.5 466.70 404.50)" dominant-baseline="central" font-style="italic">PANI(3,5)</text>
<text x="613.10" y="403.90" font-size="7.8" fill="#222" stroke="#222" stroke-width="0.18" text-anchor="middle" textLength="50" lengthAdjust="spacingAndGlyphs" transform="rotate(-26.6 613.10 403.90)" dominant-baseline="central">Ion pair.(8,10)</text>
<text x="382.70" y="285.70" font-size="9.2" fill="#222" stroke="#222" stroke-width="0.25" text-anchor="middle" textLength="64" lengthAdjust="spacingAndGlyphs" transform="rotate(-63.4 382.70 285.70)" dominant-baseline="central">Pred Formula Slope</text>
<text x="670.70" y="302.40" font-size="9.2" fill="#222" stroke="#222" stroke-width="0.25" text-anchor="middle" textLength="61.5" lengthAdjust="spacingAndGlyphs" transform="rotate(-64.7 670.70 302.40)" dominant-baseline="central">Pred Formula Slope</text>
<text x="380.50" y="189.00" font-size="16.5" fill="#111" stroke="#111" stroke-width="0.3" textLength="6.8" lengthAdjust="spacingAndGlyphs">c</text>
<defs><linearGradient id="cb" x1="0" y1="0" x2="0" y2="1">
<stop offset="0" stop-color="#800000"/><stop offset="0.07" stop-color="#e00000"/>
<stop offset="0.12" stop-color="#ff2000"/><stop offset="0.2" stop-color="#ff5000"/>
<stop offset="0.28" stop-color="#f08000"/><stop offset="0.35" stop-color="#e0c000"/>
<stop offset="0.4" stop-color="#a0e000"/><stop offset="0.47" stop-color="#20e000"/>
<stop offset="0.53" stop-color="#00e000"/><stop offset="0.6" stop-color="#00c040"/>
<stop offset="0.7" stop-color="#0080c0"/><stop offset="0.78" stop-color="#0020ff"/>
<stop offset="0.85" stop-color="#2010e0"/><stop offset="0.92" stop-color="#500090"/>
<stop offset="1" stop-color="#400050"/></linearGradient></defs>
<rect x="709" y="159.5" width="2.4" height="45.5" fill="#ffffff"/>
<rect x="700" y="160" width="9.2" height="44.8" fill="url(#cb)"/>
<text x="713.30" y="162.90" font-size="7.8" fill="#333" stroke="#333" stroke-width="0.1" textLength="7" lengthAdjust="spacingAndGlyphs">59</text>
<text x="713.30" y="173.90" font-size="7.8" fill="#333" stroke="#333" stroke-width="0.1" textLength="7" lengthAdjust="spacingAndGlyphs">55</text>
<text x="713.30" y="184.90" font-size="7.8" fill="#333" stroke="#333" stroke-width="0.1" textLength="7" lengthAdjust="spacingAndGlyphs">52</text>
<text x="713.30" y="195.90" font-size="7.8" fill="#333" stroke="#333" stroke-width="0.1" textLength="7" lengthAdjust="spacingAndGlyphs">48</text>
<text x="713.30" y="206.70" font-size="7.8" fill="#333" stroke="#333" stroke-width="0.1" textLength="7" lengthAdjust="spacingAndGlyphs">45</text></svg>
</body></html>
